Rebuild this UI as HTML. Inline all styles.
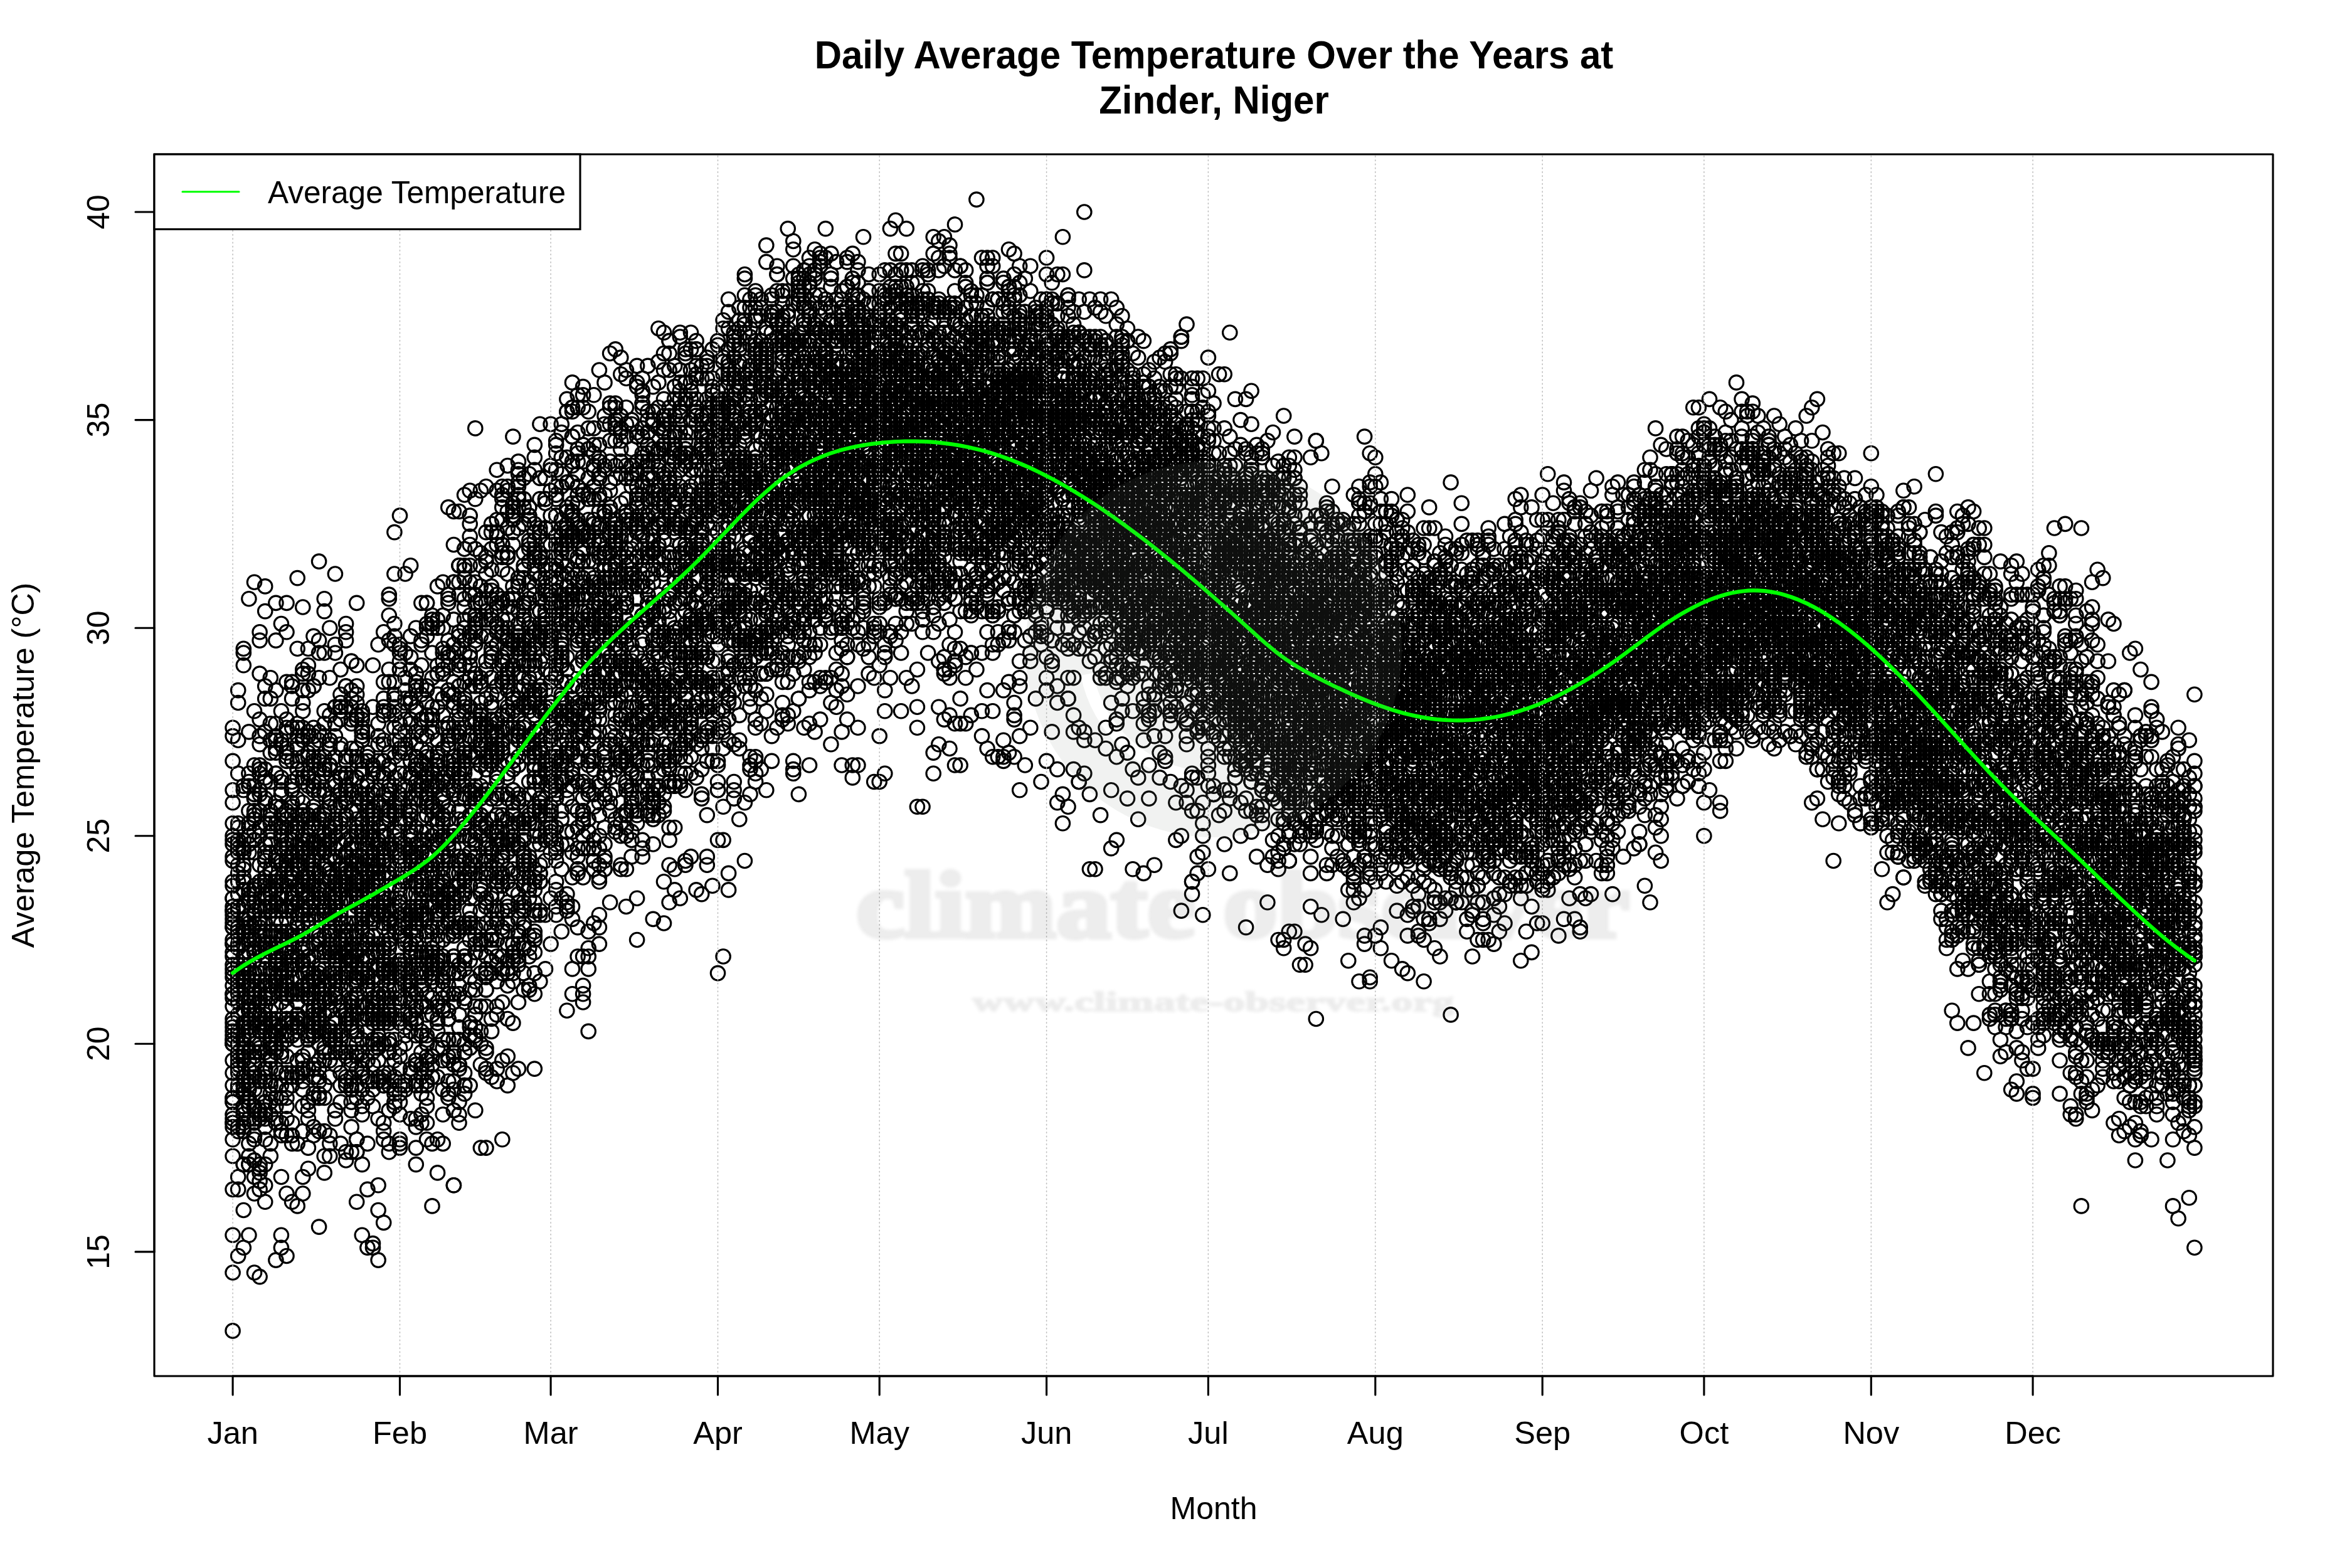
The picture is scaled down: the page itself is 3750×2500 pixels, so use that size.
<!DOCTYPE html>
<html><head><meta charset="utf-8"><title>Daily Average Temperature - Zinder, Niger</title>
<style>html,body{margin:0;padding:0;background:#fff}body{width:3750px;height:2500px;overflow:hidden}svg{display:block}text{font-family:"Liberation Sans",sans-serif;fill:#000}</style></head><body>
<svg width="3750" height="2500" viewBox="0 0 3750 2500">
<defs><marker id="c" markerUnits="userSpaceOnUse" markerWidth="30" markerHeight="30" refX="15" refY="15" overflow="visible"><circle cx="15" cy="15" r="11.25" fill="none" stroke="#000" stroke-width="3.125"/></marker><filter id="bl" x="-5%" y="-20%" width="110%" height="140%"><feGaussianBlur stdDeviation="2.5"/></filter></defs>
<rect width="3750" height="2500" fill="#fff"/>
<path d="M371.1 1790.3V1312.8V1458.7V1551.6V1452.1V1365.9V2029.0V1505.1V1624.5V1637.8V1777.0V1757.1V1465.4V1657.7V1664.3V1730.6V1584.7V1339.4V1657.7V1432.2V1710.7V1631.1V1843.3V1412.3V1664.3V1259.8V1279.7V1750.5V1538.3V1498.5V1472.0V1544.9V1796.9V1896.4V1346.0V1651.0V1505.1V1969.3V1604.6V1664.3V1750.5V1173.6V1525.0V1432.2V1160.3V1591.4V1445.5V1584.7V1816.8V1332.7V1478.6V1571.5V1558.2V1213.4V1372.5V1644.4V1452.1V1783.7V1478.6V1690.8V1518.4V1790.3V1757.1V1405.7M379.7 1730.6V1571.5V1392.4V1491.9V1571.5V1359.3V1485.3V2002.5V1100.6V1598.0V1664.3V1697.5V1445.5V1704.1V1677.6V1710.7V1319.5V1796.9V1233.3V1538.3V1737.2V1511.8V1796.9V1120.5V1578.1V1558.2V1425.6V1445.5V1644.4V1651.0V1803.6V1346.0V1697.5V1445.5V1737.2V1651.0V1405.7V1737.2V1896.4V1180.2V1551.6V1491.9V1339.4V1584.7V1352.6V1564.8V1684.2V1312.8V1598.0V1505.1V1664.3V1352.6V1425.6V1478.6V1617.9V1796.9V1352.6V1876.5V1690.8V1478.6V1677.6V1704.1V1452.1V1379.2M388.3 1657.7V1717.3V1445.5V1664.3V1339.4V1399.0V1777.0V1041.0V1690.8V1677.6V1505.1V1730.6V1743.9V1677.6V1651.0V1525.0V1856.6V1465.4V1684.2V1651.0V1631.1V1763.8V1763.8V1571.5V1253.2V1034.3V1611.2V1379.2V1485.3V1352.6V1651.0V1796.9V1485.3V1631.1V1359.3V1989.2V1790.3V1485.3V1564.8V1743.9V1060.8V1737.2V1637.8V1259.8V1478.6V1352.6V1385.8V1631.1V1485.3V1564.8V1598.0V1717.3V1730.6V1551.6V1418.9V1418.9V1525.0V1929.5V1856.6V1803.6V1558.2V1538.3V1770.4V1405.7V1544.9M396.9 1604.6V1332.7V1644.4V1611.2V1312.8V1544.9V954.7V1624.5V1724.0V1730.6V1551.6V1757.1V1432.2V1637.8V1677.6V1823.4V1418.9V1551.6V1538.3V1498.5V1783.7V1717.3V1624.5V1472.0V1551.6V1166.9V1750.5V1518.4V1332.7V1319.5V1346.0V1651.0V1737.2V1246.5V1518.4V1505.1V1969.3V1704.1V1478.6V1465.4V1438.8V1571.5V1233.3V1292.9V1591.4V1498.5V1491.9V1611.2V1644.4V1677.6V1485.3V1571.5V1856.6V1425.6V1637.8V1690.8V1637.8V1637.8V1359.3V1856.6V1763.8V1611.2V1843.3V1598.0V1253.2M405.5 1611.2V1717.3V1133.8V1511.8V1412.3V1266.4V1584.7V1220.0V1425.6V1816.8V1697.5V1710.7V1617.9V1339.4V1850.0V1664.3V1472.0V1810.2V1253.2V1598.0V1498.5V1518.4V1564.8V1591.4V1438.8V1418.9V1518.4V1299.6V1790.3V1273.1V1326.1V1438.8V1339.4V1531.7V1578.1V1292.9V1551.6V1551.6V2029.0V1551.6V1306.2V1359.3V1299.6V1578.1V1452.1V1677.6V1273.1V1458.7V1737.2V1810.2V1472.0V1763.8V1783.7V1498.5V1850.0V1684.2V1306.2V1770.4V1763.8V1438.8V1903.0V1697.5V1498.5V1631.1V1876.5V928.2M414.1 1624.5V1617.9V1021.1V1379.2V1412.3V1173.6V1598.0V1186.8V1677.6V1724.0V1783.7V1717.3V1319.5V1883.1V1624.5V1637.8V1743.9V1511.8V1770.4V1617.9V1670.9V1631.1V1505.1V1465.4V1485.3V1259.8V1478.6V1074.1V1266.4V1491.9V1319.5V1518.4V1445.5V1220.0V1856.6V1544.9V1578.1V2035.6V1564.8V1465.4V1551.6V1233.3V1332.7V1472.0V1591.4V1598.0V1578.1V1664.3V1226.6V1452.1V1491.9V1863.2V1644.4V1591.4V1518.4V1147.1V1405.7V1644.4V1869.9V1591.4V1465.4V1777.0V1292.9V1677.6V1896.4V1007.8M422.7 1816.8V1757.1V1239.9V1226.6V1359.3V934.9V1432.2V1511.8V1385.8V1631.1V1710.7V1564.8V1279.7V1604.6V1432.2V1591.4V1544.9V1505.1V1624.5V1617.9V1783.7V1796.9V1856.6V1770.4V1591.4V1631.1V1273.1V1644.4V974.6V1372.5V1505.1V1757.1V1491.9V1166.9V1770.4V1677.6V1571.5V1916.3V1472.0V1511.8V1312.8V1511.8V1472.0V1704.1V1525.0V1584.7V1346.0V1412.3V1365.9V1777.0V1405.7V1399.0V1637.8V1113.9V1405.7V1452.1V1724.0V1637.8V1445.5V1717.3V1704.1V1425.6V1246.5V1889.8V1485.3V1094.0M431.3 1544.9V1657.7V1200.1V1564.8V1425.6V1113.9V1485.3V1591.4V1544.9V1684.2V1657.7V1611.2V1564.8V1445.5V1346.0V1452.1V1644.4V1631.1V1392.4V1578.1V1704.1V1730.6V1823.4V1631.1V1591.4V1180.2V1485.3V1080.7V1306.2V1724.0V1757.1V1664.3V1292.9V1551.6V1670.9V1644.4V1339.4V1418.9V1392.4V1624.5V1359.3V1690.8V1571.5V1299.6V1425.6V1438.8V1690.8V1452.1V1651.0V1777.0V1326.1V1505.1V1511.8V1743.9V1246.5V1312.8V1385.8V1491.9V1670.9V1624.5V1438.8V1518.4V1405.7V1843.3V1405.7V1153.7M439.9 1491.9V1704.1V1312.8V1538.3V961.4V1412.3V1518.4V1505.1V1564.8V2009.1V1418.9V1531.7V1438.8V1372.5V1571.5V1525.0V1783.7V1538.3V1233.3V1193.5V1651.0V1651.0V1750.5V1564.8V1518.4V1233.3V1399.0V1200.1V1279.7V1730.6V1505.1V1624.5V1637.8V1418.9V1372.5V1418.9V1604.6V1651.0V1485.3V1286.3V1438.8V1021.1V1365.9V1670.9V1664.3V1558.2V1180.2V1544.9V1372.5V1279.7V1790.3V1465.4V1644.4V1452.1V1153.7V1100.6V1405.7V1730.6V1405.7V1750.5V1511.8V1637.8V1438.8V1763.8V1677.6V1173.6M448.4 1472.0V1710.7V1803.6V1339.4V1319.5V1372.5V1186.8V1405.7V1518.4V1637.8V1730.6V1286.3V1425.6V1544.9V1538.3V1412.3V1989.2V1677.6V1246.5V1259.8V1518.4V1750.5V1651.0V1299.6V1498.5V1239.9V1498.5V1352.6V1180.2V1584.7V1491.9V1571.5V1637.8V1578.1V1452.1V1379.2V1485.3V1969.3V1332.7V1432.2V1186.8V1405.7V1803.6V1558.2V1551.6V1352.6V1133.8V1445.5V1810.2V1544.9V1326.1V1598.0V1352.6V1312.8V1684.2V1544.9V994.5V1790.3V1266.4V1876.5V1558.2V1372.5V1637.8V1352.6V1664.3V1750.5M457.0 1206.7V1644.4V1750.5V1319.5V1292.9V1352.6V1147.1V1160.3V1465.4V1644.4V1783.7V1452.1V1306.2V1412.3V1452.1V1399.0V1432.2V1903.0V1591.4V1087.4V1584.7V1485.3V1544.9V1518.4V1485.3V1193.5V1200.1V1624.5V1166.9V1624.5V1445.5V1571.5V1657.7V1498.5V1558.2V1564.8V2002.5V1624.5V1412.3V1604.6V961.4V1544.9V1306.2V1578.1V1372.5V1365.9V1737.2V1339.4V1385.8V1518.4V1651.0V1631.1V1511.8V1007.8V1379.2V1717.3V1763.8V1319.5V1710.7V1644.4V1584.7V1571.5V1346.0V1684.2V1810.2V1213.4M465.6 1087.4V1631.1V1452.1V1558.2V1385.8V1259.8V1286.3V1405.7V1445.5V1637.8V1651.0V1438.8V1160.3V1392.4V1651.0V1525.0V1432.2V1730.6V1299.6V1279.7V1505.1V1485.3V1359.3V1392.4V1113.9V1259.8V1544.9V1286.3V1505.1V1425.6V1312.8V1326.1V1531.7V1445.5V1578.1V1538.3V1372.5V1584.7V1810.2V1525.0V1631.1V1518.4V1259.8V1094.0V1710.7V1339.4V1339.4V1916.3V1253.2V1823.4V1790.3V1213.4V1438.8V1399.0V1432.2V1491.9V1365.9V1246.5V1491.9V1624.5V1717.3V1399.0V1578.1V1544.9V1392.4V1339.4M474.2 1160.3V1538.3V1598.0V1379.2V1186.8V1299.6V1418.9V1438.8V1491.9V1412.3V921.6V1213.4V1690.8V1226.6V1525.0V1823.4V1598.0V1412.3V1034.3V1173.6V1491.9V1458.7V1319.5V1525.0V1525.0V1326.1V1153.7V1346.0V1359.3V1312.8V1385.8V1412.3V1372.5V1644.4V1710.7V1598.0V1617.9V1412.3V1657.7V1478.6V1312.8V1239.9V1193.5V1710.7V1922.9V1359.3V1379.2V1717.3V1472.0V1438.8V1631.1V1438.8V1226.6V1372.5V1617.9V1624.5V1584.7V1717.3V1624.5V1273.1V1578.1V1418.9V1438.8V1418.9V1637.8V1558.2M482.8 1332.7V1399.0V1359.3V1531.7V1279.7V1346.0V1452.1V1418.9V1684.2V1624.5V1226.6V1133.8V968.0V1704.1V1399.0V1903.0V1710.7V1485.3V1067.5V1306.2V1246.5V1511.8V1538.3V1518.4V1803.6V1399.0V1472.0V1173.6V1458.7V1180.2V1578.1V1239.9V1412.3V1405.7V1551.6V1763.8V1458.7V1724.0V1352.6V1445.5V1458.7V1160.3V1425.6V1074.1V1876.5V1365.9V1624.5V1704.1V1292.9V1531.7V1332.7V1418.9V1100.6V1571.5V1339.4V1511.8V1737.2V1584.7V1299.6V1538.3V1206.7V1505.1V1120.5V1339.4V1690.8V1491.9M491.4 1365.9V1591.4V1339.4V1511.8V1657.7V1544.9V1352.6V1399.0V1173.6V1405.7V1306.2V1253.2V1830.1V1465.4V1644.4V1863.2V1677.6V1651.0V1060.8V1445.5V1200.1V1525.0V1458.7V1704.1V1239.9V1445.5V1412.3V1319.5V1299.6V1034.3V1571.5V1631.1V1584.7V1591.4V1372.5V1551.6V1206.7V1392.4V1770.4V1472.0V1332.7V1425.6V1100.6V1757.1V1412.3V1611.2V1651.0V1379.2V1405.7V1531.7V1166.9V1299.6V1551.6V1757.1V1445.5V1233.3V1432.2V1783.7V1412.3V1399.0V1074.1V1332.7V1578.1V1564.8V1578.1V1445.5M500.0 1312.8V1564.8V1306.2V1564.8V1697.5V1014.4V1704.1V1551.6V1405.7V1186.8V1412.3V1339.4V1213.4V1584.7V1717.3V1564.8V1604.6V1750.5V1458.7V1717.3V1286.3V1160.3V1312.8V1743.9V1259.8V1339.4V1525.0V1346.0V1505.1V1379.2V1220.0V1246.5V1611.2V1637.8V1624.5V1485.3V1644.4V1558.2V1173.6V1206.7V1617.9V1651.0V1365.9V1505.1V1651.0V1094.0V1094.0V1352.6V1418.9V1611.2V1372.5V1253.2V1372.5V1432.2V1637.8V1810.2V1385.8V1392.4V1246.5V1438.8V1558.2V1385.8V1796.9V1564.8V1631.1V1292.9M508.6 1180.2V1498.5V1246.5V1704.1V1505.1V1226.6V1306.2V1166.9V1213.4V1299.6V1359.3V1551.6V1571.5V1505.1V1425.6V1637.8V1664.3V1080.7V1598.0V1226.6V1319.5V1617.9V1544.9V1558.2V1558.2V1332.7V1346.0V1518.4V1637.8V1631.1V1750.5V1724.0V1644.4V1617.9V1491.9V1021.1V1352.6V1604.6V1611.2V1319.5V1458.7V1041.0V895.1V1750.5V1418.9V1584.7V1664.3V1571.5V1206.7V1445.5V1346.0V1624.5V1717.3V1392.4V1259.8V1644.4V1558.2V1432.2V1743.9V1412.3V1558.2V1412.3V1803.6V1956.1V1690.8V1266.4M517.2 1326.1V1730.6V1133.8V1644.4V1584.7V1299.6V1750.5V1306.2V1511.8V1233.3V1352.6V1352.6V1041.0V1544.9V1491.9V1359.3V1458.7V1617.9V1598.0V954.7V1259.8V1571.5V1644.4V1153.7V1359.3V1432.2V1206.7V1591.4V1332.7V1418.9V1405.7V1571.5V1452.1V1558.2V1571.5V1677.6V1584.7V1677.6V1306.2V1803.6V1617.9V1173.6V1220.0V1359.3V974.6V1571.5V1452.1V1525.0V1617.9V1518.4V1385.8V1445.5V1379.2V1458.7V1445.5V1346.0V1292.9V1339.4V1670.9V1690.8V1266.4V1418.9V1359.3V1843.3V1869.9V1226.6M525.8 1717.3V1186.8V1591.4V1690.8V1180.2V1445.5V1220.0V1505.1V1339.4V1346.0V1405.7V1465.4V1677.6V1518.4V1226.6V1598.0V1690.8V1637.8V1193.5V1346.0V1458.7V1511.8V1478.6V1399.0V1485.3V1591.4V1598.0V1279.7V1485.3V1518.4V1273.1V1551.6V1399.0V1651.0V1286.3V1080.7V1365.9V1657.7V1611.2V1273.1V1425.6V1001.2V1445.5V1140.4V1564.8V1657.7V1611.2V1611.2V1220.0V1365.9V1385.8V1518.4V1180.2V1491.9V1465.4V1392.4V1518.4V1326.1V1491.9V1810.2V1220.0V1405.7V1843.3V1823.4V1644.4V1319.5M534.4 1319.5V1564.8V1631.1V1127.2V1458.7V1432.2V1425.6V1452.1V1412.3V1246.5V1206.7V1584.7V1518.4V1425.6V1485.3V1697.5V1173.6V1153.7V1531.7V1518.4V1445.5V1319.5V1458.7V1624.5V1253.2V1352.6V1544.9V1578.1V1312.8V1525.0V1352.6V1584.7V1425.6V1657.7V1677.6V1246.5V915.0V1286.3V1551.6V1438.8V1399.0V1027.7V1644.4V1365.9V1770.4V1438.8V1591.4V1664.3V1372.5V1472.0V1153.7V1405.7V1332.7V1332.7V1511.8V1432.2V1306.2V1445.5V1783.7V1405.7V1041.0V1558.2V1770.4V1651.0V1458.7V1127.2M543.0 1452.1V1525.0V1385.8V1644.4V1757.1V1412.3V1418.9V1399.0V1425.6V1405.7V1505.1V1385.8V1670.9V1458.7V1505.1V1710.7V1133.8V1485.3V1306.2V1518.4V1505.1V1584.7V1558.2V1518.4V1286.3V1312.8V1651.0V1465.4V1472.0V1365.9V1379.2V1418.9V1677.6V1326.1V1730.6V1823.4V1186.8V1107.3V1239.9V1233.3V1472.0V1147.1V1571.5V1346.0V1551.6V1538.3V1379.2V1611.2V1657.7V1279.7V1239.9V1067.5V1438.8V1127.2V1239.9V1193.5V1239.9V1266.4V1498.5V1259.8V1127.2V1598.0V1598.0V1611.2V1399.0V1120.5M551.6 1279.7V1432.2V1631.1V1677.6V1253.2V1405.7V1558.2V1412.3V1498.5V1213.4V1392.4V1233.3V1259.8V1850.0V1617.9V1525.0V1531.7V1578.1V1405.7V1007.8V1379.2V1239.9V1432.2V1518.4V1730.6V1094.0V1253.2V1624.5V1525.0V1279.7V1505.1V1491.9V1359.3V1611.2V1472.0V1611.2V1836.7V1021.1V1127.2V1544.9V1365.9V1299.6V1385.8V1273.1V1518.4V1412.3V1339.4V1624.5V1485.3V1717.3V1511.8V1206.7V1339.4V994.5V1399.0V1385.8V1432.2V1684.2V1724.0V1525.0V1551.6V1525.0V1418.9V1233.3V1306.2V1094.0M560.2 1418.9V1677.6V1637.8V1352.6V1598.0V1511.8V1591.4V1525.0V1757.1V1292.9V1617.9V1127.2V1737.2V1598.0V1770.4V1571.5V1485.3V1239.9V1153.7V1365.9V1525.0V1598.0V1730.6V1644.4V1346.0V1737.2V1385.8V1113.9V1631.1V1505.1V1346.0V1697.5V1690.8V1147.1V1100.6V1624.5V1418.9V1604.6V1598.0V1266.4V1193.5V1372.5V1438.8V1259.8V1617.9V1525.0V1836.7V1392.4V1259.8V1332.7V1531.7V1054.2V1485.3V1551.6V1538.3V1472.0V1385.8V1717.3V1796.9V1531.7V1438.8V1505.1V1525.0V1206.7V1346.0V1054.2M568.7 1405.7V1319.5V1346.0V1704.1V1617.9V1485.3V1564.8V1584.7V1651.0V1438.8V1558.2V1140.4V1505.1V1591.4V1816.8V1684.2V1060.8V961.4V1326.1V1644.4V1816.8V1558.2V1365.9V1571.5V1551.6V1292.9V1147.1V1372.5V1677.6V1584.7V1306.2V1405.7V1445.5V1604.6V1750.5V1120.5V1319.5V1664.3V1372.5V1332.7V1239.9V1206.7V1432.2V1239.9V1379.2V1412.3V1213.4V1107.3V1418.9V1836.7V1140.4V1617.9V1399.0V1491.9V1730.6V1094.0V1538.3V1916.3V1836.7V1425.6V1518.4V1664.3V1472.0V1273.1V1525.0V1193.5M577.3 1166.9V1133.8V1180.2V1763.8V1465.4V1458.7V1405.7V1551.6V1604.6V1365.9V1346.0V1365.9V1147.1V1704.1V1478.6V1690.8V1856.6V1544.9V1140.4V1266.4V1511.8V1485.3V1737.2V1624.5V1710.7V1166.9V1160.3V1332.7V1326.1V1465.4V1551.6V1326.1V1385.8V1472.0V1478.6V1412.3V1233.3V1452.1V1266.4V1213.4V1531.7V1173.6V1525.0V1379.2V1279.7V1624.5V1326.1V1226.6V1180.2V1452.1V1777.0V1312.8V1677.6V1445.5V1598.0V1657.7V1306.2V1558.2V1969.3V1717.3V1438.8V1452.1V1505.1V1253.2V1418.9V1399.0M585.9 1392.4V1412.3V1558.2V1206.7V1505.1V1445.5V1425.6V1505.1V1346.0V1604.6V1525.0V1253.2V1604.6V1690.8V1989.2V1617.9V1624.5V1392.4V1326.1V1166.9V1465.4V1399.0V1418.9V1425.6V1558.2V1717.3V1372.5V1405.7V1525.0V1558.2V1418.9V1551.6V1644.4V1365.9V1326.1V1525.0V1292.9V1564.8V1617.9V1571.5V1578.1V1266.4V1690.8V1200.1V1299.6V1273.1V1432.2V1724.0V1339.4V1213.4V1246.5V1531.7V1750.5V1286.3V1823.4V1664.3V1279.7V1491.9V1896.4V1445.5V1312.8V1465.4V1352.6V1379.2V1498.5V1379.2M594.5 1491.9V1392.4V1060.8V1558.2V1292.9V1578.1V1359.3V1432.2V1591.4V1292.9V1611.2V1604.6V1697.5V1392.4V1591.4V1518.4V1598.0V1989.2V1359.3V1379.2V1346.0V1127.2V1226.6V1339.4V1226.6V1259.8V1518.4V1624.5V1591.4V1332.7V1220.0V1372.5V1286.3V1657.7V1326.1V1445.5V1465.4V1631.1V1724.0V1677.6V1564.8V1405.7V1472.0V1617.9V1306.2V1233.3V1220.0V1458.7V1379.2V1385.8V1664.3V1418.9V1763.8V1266.4V1737.2V1432.2V1379.2V1518.4V1982.6V1299.6V1379.2V1458.7V1412.3V1332.7V1312.8V1505.1M603.1 1352.6V1505.1V1259.8V1724.0V1392.4V1379.2V1657.7V1233.3V1558.2V1412.3V1379.2V1538.3V1584.7V1617.9V1690.8V2009.1V1724.0V1598.0V1153.7V1213.4V1379.2V1339.4V1392.4V1425.6V1624.5V1591.4V1544.9V1617.9V1538.3V1518.4V1339.4V1664.3V1233.3V1458.7V1670.9V1399.0V1657.7V1717.3V1445.5V1346.0V1538.3V1452.1V1372.5V1186.8V1279.7V1346.0V1631.1V1598.0V1352.6V1651.0V1027.7V1279.7V1783.7V1584.7V1889.8V1631.1V1346.0V1518.4V1544.9V1929.5V1518.4V1405.7V1173.6V1279.7V1319.5V1458.7V1458.7M611.7 1140.4V1365.9V1445.5V1472.0V1332.7V1511.8V1538.3V1326.1V1518.4V1438.8V1425.6V1239.9V1790.3V1631.1V1538.3V1432.2V1949.4V1724.0V1452.1V1186.8V1127.2V1438.8V1007.8V1379.2V1233.3V1544.9V1664.3V1266.4V1584.7V1312.8V1551.6V1478.6V1551.6V1505.1V1624.5V1133.8V1326.1V1511.8V1286.3V1458.7V1432.2V1617.9V1372.5V1113.9V1087.4V1213.4V1458.7V1730.6V1352.6V1730.6V1359.3V1531.7V1710.7V1803.6V1816.8V1458.7V1478.6V1213.4V1180.2V1392.4V1717.3V1312.8V1591.4V1432.2V1352.6V1425.6V1438.8M620.3 1067.5V1465.4V1505.1V1392.4V1399.0V1306.2V1292.9V1299.6V1544.9V1133.8V1505.1V1253.2V1823.4V1485.3V1392.4V1631.1V1664.3V1472.0V1624.5V1551.6V1292.9V1352.6V1306.2V1021.1V1259.8V1273.1V1412.3V1664.3V1578.1V1677.6V1564.8V1452.1V1538.3V1525.0V1730.6V1226.6V1133.8V1710.7V1266.4V1498.5V1617.9V1379.2V1657.7V1544.9V981.3V1346.0V1087.4V1558.2V1611.2V1465.4V1200.1V1677.6V1664.3V1836.7V1617.9V1617.9V948.1V1220.0V1591.4V1226.6V1770.4V1432.2V1511.8V1306.2V1286.3V1292.9V954.7M628.9 1107.3V1113.9V1292.9V1538.3V1571.5V1140.4V1299.6V1604.6V1677.6V1160.3V1326.1V1445.5V1107.3V1763.8V1286.3V1253.2V1385.8V1724.0V1743.9V1472.0V1359.3V1452.1V1299.6V1107.3V1239.9V1478.6V1014.4V1578.1V1551.6V1127.2V1279.7V1558.2V1332.7V1591.4V1538.3V1558.2V1551.6V1445.5V1604.6V1180.2V1465.4V1624.5V1412.3V1724.0V1239.9V1027.7V1206.7V915.0V1538.3V1319.5V1352.6V1292.9V1737.2V1690.8V1717.3V1657.7V1239.9V1160.3V1478.6V1617.9V994.5V1757.1V1432.2V1087.4V1485.3V1346.0V848.6M637.5 1166.9V1372.5V1445.5V1730.6V1041.0V1704.1V1598.0V1538.3V1253.2V1200.1V1458.7V1193.5V1823.4V1339.4V1399.0V1551.6V1830.1V1266.4V1491.9V1558.2V1538.3V1286.3V1326.1V1544.9V1491.9V1598.0V1067.5V1312.8V1777.0V1418.9V1405.7V1591.4V1757.1V1591.4V1624.5V1670.9V1054.2V1743.9V1438.8V1027.7V1631.1V1531.7V1233.3V1346.0V1180.2V1034.3V1306.2V1273.1V1279.7V1359.3V1365.9V1631.1V1591.4V1816.8V1432.2V1704.1V1326.1V1200.1V1578.1V1531.7V1067.5V1684.2V1153.7V1133.8V1478.6V1200.1V822.1M646.1 1259.8V1193.5V1478.6V1425.6V1498.5V1113.9V1564.8V1465.4V1591.4V1147.1V1200.1V1346.0V1491.9V1538.3V1452.1V1498.5V1730.6V1186.8V1458.7V1498.5V1551.6V1571.5V1200.1V1637.8V1491.9V1273.1V1505.1V1259.8V1399.0V1531.7V1465.4V1617.9V1359.3V1478.6V1346.0V1651.0V1041.0V1724.0V1080.7V1498.5V1312.8V1100.6V1253.2V1259.8V1372.5V1292.9V1233.3V1166.9V1505.1V1472.0V1491.9V1465.4V1352.6V1737.2V1458.7V1405.7V1544.9V1193.5V1591.4V1385.8V1664.3V1120.5V1617.9V1491.9V1306.2V915.0M654.7 1213.4V1299.6V1617.9V1458.7V1465.4V1511.8V1233.3V1558.2V1306.2V1239.9V1465.4V1113.9V1544.9V1239.9V1584.7V1544.9V1505.1V1352.6V1631.1V1405.7V1598.0V1578.1V1120.5V1624.5V1326.1V1505.1V1286.3V1518.4V1067.5V1564.8V1783.7V1239.9V1617.9V1365.9V1644.4V1339.4V1273.1V1147.1V1617.9V1120.5V1505.1V1710.7V1392.4V1047.6V1571.5V1485.3V1014.4V1180.2V1525.0V1425.6V1352.6V1113.9V1332.7V1352.6V1286.3V1292.9V1704.1V1213.4V1452.1V1425.6V1359.3V1372.5V1153.7V1485.3V1332.7V901.7M663.3 1186.8V1226.6V1697.5V1127.2V1379.2V1365.9V1611.2V1346.0V1690.8V1405.7V1206.7V1730.6V1631.1V1273.1V1624.5V1319.5V1452.1V1405.7V1379.2V1651.0V1206.7V1505.1V1074.1V1220.0V1220.0V1604.6V1856.6V1724.0V1472.0V1458.7V1133.8V1796.9V1246.5V1259.8V1505.1V1405.7V1087.4V1491.9V1458.7V1518.4V1412.3V1259.8V1001.2V1425.6V1525.0V1379.2V1166.9V1690.8V1220.0V1491.9V1385.8V1584.7V1830.1V1094.0V1359.3V1551.6V1465.4V1478.6V1584.7V1538.3V1697.5V1226.6V1783.7V1445.5V1385.8V1100.6M671.9 1094.0V1743.9V1173.6V1213.4V1359.3V1452.1V1160.3V1558.2V1027.7V961.4V1571.5V1438.8V1777.0V1518.4V1273.1V1246.5V1651.0V1525.0V1717.3V1525.0V1697.5V1147.1V1339.4V1677.6V1193.5V1412.3V1021.1V1213.4V1326.1V1558.2V1704.1V1790.3V1339.4V1571.5V1405.7V1644.4V1339.4V1253.2V1465.4V1445.5V1226.6V1226.6V1306.2V1458.7V1418.9V1107.3V1598.0V1578.1V1147.1V1359.3V1445.5V1226.6V1352.6V1226.6V1525.0V1544.9V1551.6V1339.4V1604.6V1651.0V1399.0V1425.6V1730.6V1259.8V1379.2V1060.8M680.5 1094.0V1273.1V1704.1V1239.9V1392.4V1604.6V994.5V1365.9V961.4V1458.7V1445.5V1525.0V1651.0V1299.6V1001.2V1584.7V1551.6V1617.9V1730.6V1140.4V1339.4V1664.3V1200.1V961.4V1299.6V1518.4V1657.7V1724.0V1690.8V1465.4V1266.4V1379.2V1273.1V1458.7V1326.1V1120.5V1491.9V1286.3V1206.7V1379.2V1379.2V1790.3V1253.2V1147.1V1266.4V1763.8V1690.8V1173.6V1233.3V1485.3V1100.6V1379.2V1233.3V1816.8V1750.5V1326.1V1279.7V1425.6V1664.3V1233.3V1538.3V1684.2V1220.0V1359.3V1014.4M689.0 1253.2V1147.1V1684.2V1485.3V1558.2V1558.2V994.5V1399.0V1140.4V1166.9V1425.6V1684.2V1544.9V1717.3V1511.8V1511.8V1001.2V1478.6V1346.0V1551.6V1823.4V1279.7V1591.4V1226.6V1140.4V987.9V1385.8V1717.3V1922.9V1418.9V1518.4V1425.6V1306.2V1551.6V1392.4V1279.7V1292.9V1080.7V1617.9V1160.3V1206.7V1525.0V1292.9V1246.5V1233.3V1697.5V1531.7V1498.5V981.3V1279.7V1617.9V1286.3V1379.2V1127.2V1445.5V1379.2V1332.7V1438.8V1564.8V1717.3V1359.3V1538.3V1445.5V1259.8V1041.0M697.6 1206.7V1412.3V1598.0V1531.7V1458.7V1001.2V1491.9V1306.2V1233.3V1505.1V1670.9V1405.7V934.9V1392.4V1412.3V1525.0V1717.3V1418.9V1253.2V1644.4V1107.3V1220.0V987.9V1352.6V1869.9V1816.8V1346.0V1604.6V1326.1V1246.5V1200.1V1544.9V1538.3V1571.5V1292.9V1074.1V1107.3V1233.3V1339.4V1074.1V1253.2V1312.8V1631.1V1213.4V1292.9V1465.4V1452.1V1372.5V1465.4V1418.9V1220.0V1213.4V1220.0V1425.6V1432.2V1180.2V1432.2V1624.5V1478.6V1060.8V1180.2V1412.3V1339.4V1127.2M706.2 1312.8V1445.5V1564.8V1279.7V1478.6V1498.5V1432.2V981.3V1140.4V1239.9V1332.7V1339.4V1160.3V1611.2V1657.7V1246.5V1531.7V1193.5V1306.2V1531.7V1385.8V1525.0V1737.2V1405.7V1034.3V1591.4V1001.2V1372.5V928.2V1365.9V1777.0V1544.9V1246.5V1041.0V1690.8V1399.0V1564.8V1558.2V1657.7V1160.3V1074.1V1425.6V1113.9V1823.4V1273.1V1054.2V1405.7V1564.8V1432.2V1359.3V1266.4V1578.1V1365.9V1438.8V1365.9V1332.7V1531.7V1452.1V1670.9V1332.7V1067.5V1299.6V1604.6V1412.3M714.8 1657.7V1624.5V1624.5V1160.3V1445.5V1438.8V1173.6V948.1V1180.2V1372.5V1233.3V1425.6V1193.5V1418.9V1544.9V1472.0V1750.5V1286.3V1611.2V1107.3V1047.6V1452.1V808.9V1292.9V1041.0V1365.9V961.4V1690.8V1259.8V1332.7V1392.4V1743.9V1465.4V1100.6V1418.9V1452.1V1060.8V1153.7V1684.2V954.7V1724.0V1186.8V1213.4V1246.5V1624.5V1438.8V1186.8V1491.9V1551.6V1339.4V1584.7V1352.6V1186.8V1624.5V1306.2V1584.7V1657.7V1306.2V1339.4V1100.6V1021.1V1346.0V1445.5V1571.5M723.4 1697.5V1724.0V1657.7V1127.2V1432.2V1445.5V1332.7V868.5V1445.5V1412.3V1445.5V1392.4V1525.0V1485.3V1266.4V1226.6V1478.6V1598.0V1684.2V1889.8V1107.3V1531.7V1737.2V987.9V815.5V1041.0V1220.0V1425.6V1326.1V1173.6V1259.8V1027.7V1551.6V1438.8V1889.8V1584.7V1027.7V1087.4V1206.7V1120.5V1677.6V1253.2V1531.7V1233.3V1770.4V1458.7V1266.4V1160.3V1525.0V1551.6V928.2V928.2V1432.2V1491.9V1226.6V1724.0V1213.4V1485.3V1107.3V1206.7V1584.7V1478.6V1352.6M732.0 1697.5V1657.7V1617.9V1014.4V1173.6V1365.9V1405.7V901.7V1392.4V1571.5V1372.5V1292.9V1777.0V1206.7V1094.0V1478.6V1704.1V901.7V1412.3V1790.3V1233.3V901.7V1094.0V1273.1V948.1V1113.9V1233.3V1551.6V1133.8V1239.9V1697.5V1206.7V1306.2V1757.1V1584.7V1060.8V1067.5V1094.0V1637.8V1007.8V1226.6V815.5V1538.3V1160.3V1166.9V1034.3V1584.7V1147.1V1054.2V1657.7V1292.9V1392.4V1365.9V928.2V1697.5V1432.2V1253.2V1551.6V1173.6V1472.0V1379.2V1332.7V1485.3M740.6 1730.6V1730.6V1664.3V1021.1V921.6V1206.7V1399.0V1365.9V1531.7V1418.9V1511.8V1525.0V901.7V1531.7V1372.5V1677.6V954.7V1180.2V1743.9V1226.6V1001.2V1041.0V1233.3V968.0V1591.4V1213.4V1273.1V1127.2V1525.0V1392.4V1200.1V1425.6V1677.6V1478.6V908.3V1113.9V1021.1V1312.8V1319.5V875.2V1193.5V1060.8V1087.4V1120.5V1598.0V1544.9V1478.6V1160.3V1405.7V1060.8V789.0V1133.8V1710.7V1472.0V1266.4V1332.7V1478.6V1306.2V987.9V1253.2M749.2 1651.0V1730.6V1047.6V928.2V1080.7V1041.0V1392.4V835.4V1465.4V1637.8V1558.2V822.1V1385.8V1060.8V1273.1V1332.7V1372.5V1147.1V1080.7V1173.6V1332.7V1472.0V868.5V1180.2V855.3V1392.4V1339.4V1200.1V1531.7V1392.4V1259.8V1478.6V1670.9V1014.4V1094.0V1007.8V1372.5V1651.0V782.3V1047.6V1200.1V1080.7V1631.1V1472.0V1372.5V1359.3V1498.5V981.3V1299.6V901.7V1173.6V1578.1V1452.1V1412.3V1432.2V948.1V1206.7V1412.3V1465.4V1127.2M757.8 1478.6V1651.0V1432.2V1206.7V1074.1V1206.7V1657.7V1326.1V1292.9V981.3V1518.4V1021.1V682.9V1604.6V1279.7V1770.4V1637.8V1392.4V1001.2V1206.7V1578.1V1339.4V1273.1V981.3V1233.3V1253.2V1346.0V1379.2V1206.7V1306.2V1259.8V994.5V1080.7V987.9V1027.7V1637.8V795.6V994.5V1007.8V1133.8V1153.7V1505.1V1365.9V1617.9V1617.9V1306.2V961.4V1266.4V928.2V948.1V1564.8V1180.2V1365.9V1259.8V1147.1V1094.0V1273.1V1233.3V1491.9V875.2M766.4 1505.1V1644.4V1498.5V1299.6V1120.5V1372.5V1133.8V1392.4V1220.0V1193.5V1180.2V1392.4V1273.1V1014.4V1372.5V1186.8V1830.1V1319.5V1412.3V1220.0V1518.4V1140.4V934.9V1604.6V1697.5V1478.6V1094.0V987.9V1220.0V1299.6V1220.0V1253.2V1160.3V1551.6V1080.7V1498.5V1087.4V782.3V881.8V1664.3V954.7V1140.4V1332.7V1312.8V1180.2V1166.9V1425.6V1094.0V1452.1V961.4V1418.9V1153.7V1133.8V1193.5V901.7V1147.1V1153.7V1266.4V1306.2M775.0 1670.9V1445.5V1544.9V1014.4V1551.6V1286.3V1472.0V1259.8V1346.0V1153.7V1392.4V775.7V1319.5V1067.5V1830.1V1312.8V1432.2V1206.7V1226.6V1399.0V895.1V1266.4V1704.1V1372.5V961.4V1385.8V1259.8V1160.3V1372.5V1498.5V1352.6V1578.1V941.5V987.9V888.4V974.6V1213.4V1677.6V848.6V1259.8V1186.8V1445.5V1226.6V1054.2V1160.3V1578.1V1206.7V1339.4V1710.7V1438.8V1604.6V1365.9V1113.9V1186.8V915.0V1525.0V1339.4V1352.6V1558.2M783.6 1213.4V1531.7V1160.3V1306.2V1491.9V1359.3V1193.5V1498.5V1511.8V1021.1V1498.5V934.9V1034.3V1220.0V1717.3V1306.2V1392.4V1326.1V875.2V1206.7V908.3V981.3V1452.1V1080.7V1465.4V1478.6V1147.1V1080.7V1326.1V1173.6V1054.2V1166.9V1206.7V1432.2V835.4V1193.5V1624.5V941.5V1041.0V1166.9V1166.9V1372.5V1047.6V1200.1V1186.8V1551.6V954.7V1644.4V1127.2V1352.6V1273.1V1107.3V1425.6V1273.1V1120.5V848.6V987.9V1206.7V1551.6M792.2 1704.1V1472.0V1299.6V1186.8V1094.0V1233.3V1339.4V1498.5V968.0V1405.7V1326.1V1027.7V1239.9V994.5V1452.1V782.3V1332.7V1206.7V1724.0V868.5V1326.1V1166.9V749.2V1173.6V1412.3V1147.1V1425.6V1525.0V1617.9V1266.4V1385.8V828.8V1273.1V1604.6V961.4V1246.5V1193.5V1153.7V848.6V1299.6V855.3V1564.8V1326.1V1538.3V1498.5V1107.3V1319.5V1200.1V1399.0V1166.9V948.1V1346.0V994.5V1372.5V1193.5V1007.8V1027.7V1339.4V1465.4M800.8 1392.4V1359.3V1551.6V954.7V1180.2V1326.1V987.9V1087.4V1399.0V828.8V1060.8V789.0V1525.0V1007.8V868.5V1372.5V1339.4V1054.2V881.8V1346.0V1412.3V1001.2V1544.9V1399.0V1816.8V1346.0V1525.0V795.6V1080.7V1140.4V808.9V1690.8V1200.1V1047.6V908.3V868.5V1306.2V1200.1V1299.6V1160.3V1478.6V1186.8V1485.3V1087.4V1054.2V1365.9V1140.4V1266.4V961.4V1220.0V888.4V1598.0V1452.1V1166.9V1193.5V775.7V1014.4V1339.4V1412.3M809.3 1306.2V1160.3V1485.3V1684.2V1041.0V1551.6V987.9V815.5V888.4V888.4V1067.5V915.0V1100.6V1339.4V1531.7V1405.7V1127.2V1034.3V1385.8V1452.1V1339.4V1133.8V782.3V1472.0V1730.6V1544.9V1505.1V881.8V1074.1V842.0V1624.5V1094.0V1160.3V1021.1V1571.5V954.7V1140.4V1001.2V1472.0V1273.1V1445.5V1080.7V1021.1V1213.4V968.0V1233.3V1054.2V842.0V1266.4V1014.4V1087.4V1438.8V775.7V1346.0V1405.7V742.5V1239.9V1359.3V1326.1M817.9 1339.4V1531.7V1226.6V1319.5V1518.4V1418.9V1518.4V1292.9V1113.9V1060.8V1027.7V828.8V954.7V1213.4V848.6V1226.6V1418.9V934.9V1120.5V1060.8V1067.5V815.5V1418.9V696.1V1332.7V1352.6V802.2V1710.7V1312.8V1133.8V1279.7V1259.8V1631.1V1213.4V1346.0V808.9V1505.1V1133.8V1279.7V1385.8V968.0V954.7V1299.6V1259.8V868.5V1021.1V1505.1V1525.0V1259.8V1067.5V822.1V1392.4V1067.5V1564.8V948.1V1160.3V1107.3V1551.6V1173.6M826.5 1352.6V1531.7V1438.8V1312.8V1491.9V1180.2V994.5V1074.1V775.7V1140.4V1007.8V1166.9V795.6V1452.1V1027.7V1485.3V1166.9V1180.2V1127.2V1306.2V1041.0V921.6V769.1V1525.0V1598.0V1346.0V1704.1V842.0V1100.6V755.8V1021.1V1505.1V1113.9V1538.3V1279.7V1054.2V735.9V1465.4V1273.1V1220.0V1034.3V1014.4V1034.3V1266.4V974.6V1113.9V1425.6V1034.3V1173.6V749.2V1392.4V1220.0V789.0V1100.6V1160.3V928.2V934.9V808.9V1206.7M835.1 1412.3V1511.8V1319.5V1478.6V1385.8V1438.8V1372.5V1153.7V835.4V1034.3V1372.5V1365.9V1306.2V1173.6V1365.9V901.7V1332.7V1445.5V968.0V1080.7V1054.2V808.9V1379.2V1193.5V1180.2V1472.0V1094.0V987.9V762.4V1551.6V1452.1V1127.2V1578.1V1312.8V921.6V1027.7V835.4V1339.4V981.3V1399.0V1273.1V1160.3V1173.6V1120.5V961.4V1034.3V1060.8V1021.1V1359.3V961.4V1452.1V795.6V1153.7V835.4V908.3V981.3V968.0V881.8V1505.1M843.7 1418.9V1193.5V1525.0V1491.9V1511.8V1432.2V1399.0V1041.0V1001.2V994.5V941.5V1087.4V1186.8V1100.6V1127.2V1399.0V1120.5V1379.2V1186.8V1087.4V1299.6V1266.4V1041.0V808.9V1306.2V1365.9V861.9V1412.3V1246.5V1113.9V875.2V1578.1V1021.1V1133.8V1399.0V954.7V1054.2V1034.3V1312.8V828.8V808.9V1100.6V961.4V822.1V1173.6V1113.9V1206.7V1034.3V755.8V928.2V1060.8V1080.7V868.5V822.1V1014.4V1372.5V895.1V1041.0V1571.5M852.3 1438.8V1113.9V1100.6V1332.7V1452.1V1584.7V1206.7V1220.0V1518.4V1107.3V1491.9V1239.9V1405.7V1007.8V1246.5V881.8V1704.1V1200.1V1312.8V875.2V749.2V1418.9V1399.0V888.4V1485.3V1041.0V1346.0V1060.8V1001.2V1458.7V1498.5V1027.7V1166.9V1166.9V1054.2V1259.8V1027.7V888.4V1200.1V1551.6V1226.6V901.7V835.4V1286.3V934.9V709.4V1140.4V1193.5V915.0V1007.8V861.9V948.1V729.3V1312.8V848.6V1292.9V1120.5V1074.1V1385.8M860.9 1405.7V1094.0V974.6V1379.2V1239.9V1279.7V1014.4V1273.1V1160.3V1452.1V1226.6V855.3V881.8V1405.7V974.6V994.5V1107.3V1239.9V676.2V1458.7V1564.8V1166.9V888.4V1292.9V1166.9V1180.2V1054.2V1133.8V1107.3V1100.6V1392.4V1332.7V921.6V1007.8V1200.1V1392.4V1193.5V1405.7V795.6V954.7V1392.4V1246.5V1100.6V1014.4V848.6V895.1V1346.0V1286.3V1014.4V1127.2V842.0V974.6V762.4V888.4V1273.1V1007.8V1299.6V1166.9V1193.5M869.5 1054.2V981.3V842.0V941.5V974.6V941.5V994.5V1339.4V1001.2V1001.2V1233.3V1286.3V795.6V1021.1V1100.6V1067.5V1372.5V1133.8V994.5V888.4V1544.9V1220.0V1306.2V842.0V1007.8V1286.3V948.1V802.2V987.9V934.9V1140.4V1140.4V901.7V1213.4V1140.4V1286.3V795.6V1193.5V901.7V1220.0V1458.7V908.3V1127.2V1319.5V842.0V868.5V762.4V1127.2V1332.7V961.4V1007.8V921.6V1173.6V1186.8V762.4V1299.6V1014.4V1273.1V1226.6M878.1 1120.5V1259.8V822.1V1206.7V954.7V1027.7V1021.1V1160.3V1220.0V1014.4V1299.6V1339.4V749.2V1074.1V1292.9V1140.4V1021.1V948.1V782.3V1332.7V1087.4V1180.2V1239.9V1127.2V1359.3V1286.3V1140.4V901.7V1007.8V921.6V1253.2V1074.1V948.1V842.0V1259.8V1312.8V1505.1V1034.3V1226.6V1319.5V742.5V968.0V1041.0V1339.4V749.2V1239.9V1173.6V868.5V921.6V941.5V1326.1V921.6V1153.7V676.2V1160.3V1034.3V1432.2V1246.5V1027.7M886.7 981.3V908.3V1445.5V749.2V1273.1V968.0V1213.4V709.4V1259.8V1080.7V1060.8V1319.5V789.0V1405.7V1140.4V921.6V795.6V868.5V1166.9V1153.7V1206.7V888.4V994.5V822.1V981.3V1246.5V855.3V1074.1V928.2V1206.7V789.0V822.1V1041.0V1346.0V1133.8V888.4V1359.3V1352.6V855.3V1200.1V1253.2V1213.4V941.5V908.3V868.5V702.8V1418.9V775.7V1140.4V901.7V1266.4V775.7V722.7V1372.5V1213.4V1458.7V961.4V1047.6M895.3 842.0V1346.0V755.8V1485.3V676.2V1147.1V968.0V948.1V689.5V1027.7V1385.8V987.9V881.8V1220.0V994.5V1060.8V1206.7V915.0V855.3V775.7V948.1V1027.7V868.5V1007.8V948.1V868.5V1432.2V1021.1V1034.3V1133.8V1306.2V1087.4V895.1V1180.2V1113.9V1021.1V1166.9V961.4V1306.2V1246.5V729.3V1120.5V1047.6V1213.4V842.0V1147.1V948.1V1292.9V1239.9V828.8V1113.9V875.2V1107.3V1060.8V1239.9V1041.0V1054.2V968.0M903.9 901.7V1239.9V961.4V1153.7V861.9V868.5V815.5V1200.1V769.1V1611.2V1166.9V915.0V1007.8V1326.1V1452.1V994.5V1273.1V842.0V815.5V769.1V656.3V1193.5V1140.4V815.5V656.3V1180.2V915.0V1438.8V934.9V948.1V1153.7V1346.0V855.3V1326.1V948.1V1445.5V1153.7V1087.4V1220.0V1133.8V729.3V915.0V968.0V987.9V1425.6V1047.6V901.7V1067.5V835.4V1120.5V848.6V981.3V636.4V1206.7V1259.8V808.9V954.7V881.8M912.5 815.5V1226.6V1233.3V822.1V649.7V769.1V1445.5V855.3V848.6V908.3V1180.2V1253.2V1094.0V1233.3V968.0V1140.4V954.7V802.2V1147.1V861.9V696.1V735.9V1193.5V1140.4V941.5V815.5V696.1V1465.4V1226.6V948.1V855.3V1359.3V1147.1V1326.1V609.9V1544.9V1127.2V828.8V815.5V1001.2V1584.7V822.1V968.0V921.6V1399.0V649.7V1094.0V1113.9V848.6V1001.2V1140.4V1286.3V1200.1V656.3V1239.9V1253.2V742.5V994.5M921.1 1027.7V1014.4V954.7V1173.6V855.3V689.5V888.4V1392.4V755.8V802.2V987.9V649.7V1365.9V895.1V1173.6V915.0V948.1V1147.1V1193.5V842.0V802.2V755.8V1127.2V1120.5V828.8V1352.6V1153.7V1001.2V1319.5V716.0V1478.6V722.7V1166.9V735.9V861.9V1060.8V1021.1V1525.0V789.0V948.1V1060.8V1385.8V629.8V1246.5V835.4V1385.8V1094.0V928.2V1246.5V1133.8V1206.7V775.7V1193.5V1213.4V1292.9V775.7V1120.5M929.6 848.6V895.1V1246.5V649.7V1312.8V855.3V928.2V1292.9V1306.2V1120.5V875.2V1525.0V1571.5V987.9V1153.7V974.6V1047.6V1100.6V948.1V875.2V1100.6V934.9V881.8V881.8V895.1V921.6V1598.0V1153.7V1332.7V1273.1V1021.1V629.8V1399.0V735.9V1292.9V842.0V987.9V782.3V709.4V921.6V954.7V1193.5V1584.7V1014.4V616.6V1014.4V1173.6V1166.9V1352.6V1054.2V1253.2V789.0V948.1V1140.4V1160.3V1100.6V1299.6M938.2 1001.2V934.9V1021.1V1067.5V716.0V1074.1V994.5V1034.3V1525.0V1180.2V1047.6V762.4V1544.9V1352.6V948.1V1153.7V1140.4V861.9V895.1V1266.4V795.6V1120.5V1087.4V981.3V1644.4V1306.2V1326.1V855.3V1067.5V1259.8V987.9V848.6V656.3V861.9V716.0V1206.7V1094.0V1511.8V981.3V1007.8V1306.2V1485.3V682.9V1113.9V1253.2V915.0V828.8V1054.2V1133.8V1120.5V789.0V981.3V1041.0V1213.4V1140.4V974.6V1220.0M946.8 1027.7V1034.3V1286.3V828.8V682.9V928.2V861.9V1472.0V749.2V775.7V1352.6V1120.5V1034.3V1166.9V1047.6V1074.1V895.1V1113.9V1100.6V835.4V629.8V1206.7V875.2V968.0V775.7V1080.7V941.5V795.6V1372.5V722.7V1041.0V835.4V987.9V1266.4V1147.1V1147.1V1173.6V1385.8V1372.5V1352.6V742.5V1166.9V1213.4V709.4V921.6V1047.6V1067.5V1087.4V1226.6V1186.8V861.9V1067.5V994.5V848.6V1120.5V1339.4M955.4 1007.8V1133.8V968.0V888.4V842.0V1054.2V729.3V789.0V1332.7V1074.1V1087.4V795.6V1505.1V1007.8V1127.2V968.0V1478.6V815.5V981.3V735.9V1399.0V1001.2V1107.3V928.2V755.8V1120.5V762.4V1458.7V1107.3V948.1V709.4V1299.6V1405.7V1279.7V1246.5V861.9V868.5V881.8V968.0V994.5V1166.9V835.4V934.9V948.1V961.4V795.6V835.4V590.0V1253.2V762.4V1147.1V954.7V1352.6V961.4V1253.2V1379.2M964.0 968.0V1193.5V1021.1V881.8V749.2V1220.0V908.3V1220.0V901.7V875.2V663.0V1346.0V888.4V1233.3V1233.3V1007.8V921.6V742.5V1100.6V1372.5V1206.7V881.8V921.6V1220.0V888.4V987.9V1266.4V1319.5V609.9V1365.9V921.6V1034.3V928.2V1273.1V789.0V676.2V941.5V822.1V994.5V1385.8V974.6V1001.2V815.5V1239.9V1074.1V815.5V928.2V1007.8V875.2V1385.8V1054.2V1067.5V948.1V974.6V1239.9V1200.1M972.6 1100.6V1021.1V1279.7V1094.0V994.5V1054.2V1166.9V1180.2V1186.8V1060.8V649.7V1438.8V908.3V1220.0V1007.8V815.5V769.1V1266.4V1107.3V1007.8V881.8V901.7V921.6V1060.8V974.6V1120.5V1047.6V961.4V1087.4V563.5V1239.9V1021.1V1100.6V782.3V735.9V855.3V808.9V928.2V948.1V855.3V961.4V948.1V961.4V961.4V921.6V828.8V842.0V676.2V643.1V1094.0V994.5V1292.9V881.8V848.6V702.8V828.8M981.2 762.4V1186.8V1080.7V1074.1V556.9V901.7V921.6V1120.5V941.5V1094.0V855.3V702.8V1054.2V1306.2V1153.7V961.4V676.2V1001.2V1186.8V1326.1V987.9V861.9V1200.1V742.5V1120.5V981.3V1319.5V1007.8V1034.3V1226.6V994.5V1259.8V848.6V1173.6V875.2V941.5V669.6V1027.7V1054.2V649.7V895.1V994.5V842.0V1226.6V643.1V908.3V835.4V1140.4V828.8V1074.1V1100.6V682.9V928.2V868.5V974.6V1094.0M989.8 842.0V755.8V1279.7V1220.0V570.1V1054.2V855.3V1220.0V861.9V716.0V1140.4V1213.4V1054.2V968.0V1060.8V1107.3V1206.7V1140.4V1034.3V689.5V702.8V1140.4V968.0V1094.0V1147.1V1332.7V1213.4V968.0V1385.8V802.2V682.9V1120.5V1094.0V915.0V888.4V1021.1V735.9V1034.3V1180.2V1074.1V1200.1V1047.6V596.7V948.1V735.9V1074.1V755.8V875.2V663.0V1299.6V1147.1V928.2V1014.4V948.1V1379.2V1312.8M998.4 1220.0V1074.1V1186.8V1259.8V1054.2V1193.5V1213.4V828.8V855.3V1014.4V1140.4V1253.2V1206.7V1001.2V1166.9V762.4V1299.6V1127.2V676.2V1332.7V1246.5V941.5V968.0V1067.5V1206.7V1292.9V1445.5V928.2V888.4V875.2V795.6V815.5V1054.2V901.7V961.4V649.7V1087.4V1127.2V1060.8V590.0V1007.8V1299.6V603.3V1319.5V822.1V954.7V987.9V696.1V1074.1V742.5V1246.5V1153.7V915.0V1027.7V1107.3V1385.8M1007.0 934.9V994.5V1027.7V1233.3V908.3V1259.8V1339.4V835.4V742.5V1166.9V1067.5V915.0V1253.2V1226.6V895.1V775.7V1147.1V921.6V915.0V1107.3V1120.5V1292.9V915.0V1041.0V1147.1V828.8V1279.7V1365.9V1007.8V1087.4V1193.5V716.0V928.2V934.9V742.5V762.4V755.8V1127.2V1001.2V1200.1V875.2V676.2V1153.7V1233.3V669.6V1200.1V815.5V1060.8V1007.8V1273.1V1074.1V1193.5V1286.3V861.9V1054.2V1326.1M1015.6 1166.9V921.6V1001.2V1239.9V1292.9V1153.7V954.7V1299.6V1173.6V888.4V934.9V1147.1V1498.5V974.6V749.2V1074.1V1153.7V828.8V1087.4V1273.1V974.6V775.7V689.5V1127.2V835.4V1233.3V1041.0V1001.2V1180.2V1206.7V802.2V1147.1V1239.9V583.4V755.8V735.9V842.0V808.9V795.6V1094.0V1127.2V828.8V609.9V1087.4V848.6V1312.8V842.0V616.6V848.6V696.1V1432.2V1067.5V789.0V1193.5V888.4V1213.4M1024.2 1147.1V1253.2V1186.8V789.0V1080.7V1133.8V769.1V643.1V722.7V981.3V981.3V729.3V934.9V1365.9V1140.4V901.7V855.3V915.0V828.8V696.1V696.1V775.7V1253.2V934.9V1339.4V994.5V1027.7V1253.2V1100.6V1220.0V1021.1V603.3V735.9V682.9V888.4V802.2V987.9V1160.3V928.2V875.2V623.2V1180.2V1220.0V629.8V1107.3V848.6V649.7V1074.1V815.5V643.1V1054.2V1352.6V835.4V1087.4V981.3V1120.5V1273.1M1032.8 1292.9V908.3V888.4V1279.7V1160.3V828.8V1087.4V908.3V1127.2V742.5V689.5V1067.5V1220.0V948.1V735.9V1266.4V1186.8V709.4V709.4V689.5V1133.8V828.8V775.7V775.7V1253.2V822.1V968.0V1180.2V921.6V987.9V1120.5V1200.1V1213.4V861.9V755.8V1200.1V1094.0V689.5V669.6V961.4V1299.6V861.9V755.8V1153.7V795.6V1054.2V881.8V722.7V1060.8V1054.2V875.2V583.4V1113.9V762.4V1239.9V981.3V656.3V948.1V1054.2V1067.5V934.9M1041.3 1080.7V1100.6V1266.4V1273.1V881.8V1273.1V1094.0V861.9V1346.0V855.3V656.3V1074.1V1153.7V795.6V961.4V1047.6V1186.8V974.6V616.6V875.2V762.4V716.0V928.2V842.0V1279.7V1021.1V1220.0V1253.2V782.3V881.8V1465.4V1147.1V1021.1V881.8V1286.3V1074.1V901.7V676.2V762.4V1021.1V842.0V1299.6V974.6V669.6V961.4V656.3V928.2V968.0V1001.2V981.3V1094.0V875.2V1306.2V915.0V815.5V716.0V735.9V1034.3V1153.7V1021.1V1180.2M1049.9 1259.8V1047.6V815.5V1299.6V1100.6V682.9V1067.5V1299.6V1014.4V888.4V1279.7V828.8V576.8V948.1V1233.3V735.9V1160.3V1140.4V1041.0V609.9V742.5V722.7V1047.6V649.7V716.0V1007.8V835.4V1021.1V1153.7V1113.9V1087.4V716.0V1100.6V1233.3V868.5V1094.0V974.6V1014.4V795.6V1279.7V789.0V987.9V749.2V1147.1V782.3V1027.7V875.2V987.9V1094.0V523.7V1253.2V775.7V1120.5V994.5V1147.1V802.2V722.7V842.0V908.3V1041.0V994.5M1058.5 1292.9V1127.2V1200.1V1094.0V828.8V1100.6V1472.0V1067.5V861.9V1074.1V915.0V669.6V590.0V1200.1V1213.4V689.5V1286.3V1206.7V563.5V755.8V1107.3V663.0V709.4V762.4V1206.7V1021.1V1007.8V1113.9V1080.7V682.9V861.9V1405.7V1021.1V1094.0V676.2V974.6V954.7V716.0V682.9V1120.5V802.2V1186.8V1266.4V636.4V888.4V1067.5V968.0V835.4V1140.4V789.0V530.3V1133.8V1067.5V1213.4V1127.2V908.3V709.4V848.6V835.4V808.9V1226.6M1067.1 1246.5V1120.5V1186.8V1213.4V1100.6V1438.8V1047.6V676.2V1087.4V822.1V1147.1V1160.3V1253.2V1319.5V1206.7V1339.4V543.6V775.7V729.3V941.5V769.1V954.7V775.7V1027.7V888.4V1047.6V1034.3V543.6V1379.2V663.0V901.7V1140.4V974.6V1014.4V815.5V729.3V1253.2V1014.4V1226.6V987.9V749.2V1186.8V782.3V769.1V762.4V676.2V1014.4V696.1V563.5V1153.7V649.7V1113.9V881.8V1087.4V749.2V716.0V789.0V1027.7V590.0V948.1V1220.0M1075.7 1319.5V1087.4V1253.2V1385.8V735.9V1206.7V1113.9V716.0V1094.0V689.5V1041.0V1133.8V1253.2V1001.2V689.5V663.0V1173.6V901.7V808.9V828.8V616.6V808.9V709.4V1094.0V921.6V1418.9V583.4V1001.2V636.4V1047.6V1087.4V1133.8V928.2V1193.5V782.3V1021.1V1007.8V636.4V1147.1V848.6V1014.4V709.4V735.9V835.4V1160.3V842.0V921.6V802.2V689.5V689.5V908.3V696.1V616.6V802.2V961.4V901.7V888.4V1041.0V762.4V795.6V722.7V1246.5M1084.3 1180.2V1014.4V1253.2V915.0V1041.0V663.0V868.5V1153.7V1080.7V530.3V689.5V649.7V722.7V1193.5V915.0V1246.5V1067.5V1233.3V934.9V537.0V729.3V1193.5V1074.1V1001.2V656.3V749.2V590.0V636.4V1140.4V901.7V663.0V1432.2V954.7V881.8V835.4V868.5V775.7V1160.3V828.8V842.0V676.2V789.0V1127.2V789.0V636.4V609.9V749.2V1060.8V1001.2V1047.6V623.2V934.9V928.2V1074.1V1206.7V1140.4V1186.8V961.4V1100.6V842.0V868.5V1041.0M1092.9 1233.3V868.5V1021.1V556.9V915.0V1094.0V689.5V928.2V570.1V1372.5V795.6V1213.4V1140.4V895.1V1127.2V1127.2V563.5V1193.5V1087.4V941.5V1180.2V875.2V609.9V716.0V1107.3V1173.6V782.3V735.9V954.7V1021.1V881.8V941.5V1113.9V908.3V815.5V842.0V636.4V815.5V1107.3V974.6V742.5V722.7V643.1V1041.0V974.6V802.2V716.0V875.2V934.9V636.4V1060.8V609.9V729.3V1060.8V994.5V1259.8V1007.8V1047.6V702.8V848.6V1160.3V1379.2M1101.5 1206.7V1021.1V1041.0V994.5V848.6V749.2V987.9V689.5V835.4V556.9V901.7V1180.2V1054.2V901.7V1140.4V1147.1V1007.8V590.0V981.3V1166.9V1153.7V782.3V623.2V623.2V775.7V1160.3V1080.7V808.9V815.5V1233.3V835.4V1127.2V722.7V961.4V735.9V636.4V789.0V669.6V609.9V1027.7V981.3V908.3V623.2V934.9V842.0V749.2V875.2V1047.6V848.6V934.9V530.3V875.2V1041.0V1365.9V994.5V1160.3V934.9V1001.2V842.0V1087.4V1060.8V848.6V1067.5M1110.1 1021.1V987.9V1127.2V861.9V1080.7V948.1V663.0V901.7V649.7V1087.4V556.9V1120.5V961.4V875.2V596.7V815.5V987.9V1007.8V888.4V901.7V1060.8V663.0V603.3V1001.2V961.4V1074.1V1239.9V968.0V1080.7V1014.4V749.2V676.2V921.6V1047.6V649.7V596.7V861.9V583.4V987.9V835.4V729.3V1133.8V543.6V921.6V822.1V881.8V556.9V1001.2V735.9V656.3V881.8V636.4V769.1V1186.8V663.0V987.9V1418.9V994.5V901.7V875.2V828.8V888.4V1014.4M1118.7 1047.6V1080.7V1266.4V881.8V722.7V802.2V689.5V1180.2V795.6V709.4V981.3V603.3V1273.1V1133.8V994.5V749.2V1425.6V1047.6V868.5V663.0V941.5V722.7V1034.3V1041.0V1226.6V769.1V689.5V1113.9V749.2V802.2V709.4V722.7V808.9V861.9V583.4V948.1V1193.5V716.0V875.2V696.1V981.3V822.1V1080.7V669.6V789.0V1034.3V994.5V716.0V968.0V696.1V987.9V848.6V895.1V782.3V1087.4V901.7V1173.6V888.4V1041.0V1094.0V1034.3V981.3V842.0M1127.3 928.2V1299.6V987.9V928.2V583.4V987.9V749.2V1173.6V570.1V1107.3V1127.2V1113.9V974.6V1379.2V1001.2V994.5V1133.8V835.4V1127.2V729.3V888.4V1365.9V696.1V769.1V1047.6V954.7V1041.0V789.0V722.7V815.5V888.4V576.8V808.9V1166.9V835.4V636.4V663.0V702.8V702.8V689.5V908.3V888.4V676.2V663.0V1094.0V689.5V888.4V934.9V901.7V729.3V1047.6V1160.3V716.0V1087.4V649.7V795.6V1213.4V762.4V1014.4V915.0V603.3V729.3V1094.0V987.9M1135.9 1127.2V934.9V782.3V556.9V1080.7V762.4V1213.4V749.2V1014.4V802.2V789.0V1140.4V822.1V1140.4V968.0V1094.0V649.7V1193.5V769.1V802.2V1412.3V702.8V1107.3V808.9V855.3V742.5V1173.6V749.2V702.8V855.3V941.5V643.1V968.0V915.0V769.1V676.2V716.0V616.6V934.9V1007.8V822.1V921.6V901.7V1140.4V702.8V842.0V1160.3V775.7V795.6V881.8V1054.2V682.9V782.3V1213.4V629.8V623.2V895.1V908.3V769.1V1087.4V603.3V789.0V895.1V928.2M1144.5 1054.2V868.5V974.6V822.1V1014.4V1259.8V716.0V1220.0V1100.6V682.9V1166.9V722.7V875.2V623.2V649.7V1094.0V848.6V1259.8V1339.4V550.2V742.5V789.0V742.5V1551.6V623.2V961.4V775.7V802.2V901.7V815.5V1133.8V987.9V649.7V987.9V921.6V643.1V1246.5V1133.8V643.1V702.8V643.1V543.6V895.1V888.4V1027.7V669.6V974.6V669.6V994.5V1080.7V663.0V802.2V1001.2V769.1V981.3V1213.4V636.4V762.4V789.0V656.3V735.9V941.5V676.2V908.3M1153.1 941.5V1166.9V643.1V1007.8V1286.3V649.7V1007.8V709.4V1160.3V676.2V1193.5V802.2V815.5V596.7V895.1V1339.4V961.4V875.2V908.3V616.6V722.7V1525.0V888.4V1133.8V576.8V696.1V895.1V875.2V722.7V994.5V1094.0V881.8V749.2V968.0V789.0V1153.7V510.5V994.5V908.3V523.7V808.9V1007.8V842.0V1074.1V1100.6V1001.2V742.5V908.3V636.4V696.1V682.9V663.0V868.5V696.1V868.5V901.7V570.1V735.9V576.8V974.6V815.5V656.3V1127.2V861.9V875.2M1161.6 702.8V1054.2V948.1V968.0V1180.2V702.8V1067.5V609.9V782.3V583.4V1113.9V928.2V722.7V643.1V822.1V696.1V1392.4V868.5V994.5V556.9V1021.1V1087.4V895.1V835.4V855.3V1418.9V908.3V497.2V769.1V901.7V941.5V1107.3V682.9V682.9V795.6V842.0V769.1V523.7V1120.5V822.1V590.0V576.8V987.9V682.9V1147.1V656.3V1047.6V1180.2V1107.3V603.3V888.4V709.4V802.2V689.5V649.7V835.4V749.2V477.3V649.7V596.7V987.9V974.6V1074.1V961.4V875.2M1170.2 682.9V775.7V974.6V1060.8V1027.7V1007.8V749.2V1021.1V895.1V722.7V775.7V769.1V735.9V921.6V749.2V629.8V921.6V649.7V789.0V1186.8V1001.2V1273.1V1246.5V908.3V550.2V636.4V570.1V855.3V822.1V908.3V755.8V769.1V663.0V888.4V782.3V769.1V649.7V948.1V755.8V656.3V696.1V1259.8V543.6V974.6V1100.6V961.4V822.1V808.9V941.5V616.6V669.6V742.5V669.6V537.0V742.5V802.2V948.1V550.2V603.3V596.7V968.0V842.0V530.3V1120.5V1060.8V749.2M1178.8 616.6V603.3V822.1V895.1V961.4V974.6V742.5V828.8V676.2V1180.2V941.5V769.1V729.3V1001.2V762.4V1067.5V742.5V782.3V968.0V808.9V1054.2V722.7V789.0V762.4V1306.2V735.9V1027.7V1027.7V490.6V908.3V537.0V782.3V709.4V822.1V722.7V915.0V888.4V1193.5V576.8V636.4V981.3V537.0V676.2V1014.4V948.1V609.9V775.7V775.7V1140.4V510.5V769.1V616.6V623.2V623.2V523.7V981.3V556.9V954.7V583.4V523.7V948.1V749.2V550.2V1021.1V1080.7V915.0M1187.4 842.0V576.8V915.0V769.1V795.6V1054.2V1021.1V769.1V1027.7V895.1V954.7V815.5V1372.5V802.2V1060.8V735.9V1001.2V915.0V934.9V802.2V835.4V981.3V994.5V789.0V875.2V789.0V1014.4V1080.7V444.1V815.5V669.6V808.9V742.5V954.7V530.3V981.3V808.9V643.1V729.3V682.9V470.7V702.8V948.1V1279.7V629.8V735.9V735.9V1047.6V629.8V689.5V729.3V875.2V437.5V510.5V702.8V921.6V742.5V1001.2V596.7V490.6V822.1V1027.7V696.1V517.1V1047.6V1094.0V881.8M1196.0 636.4V1127.2V735.9V1054.2V1094.0V656.3V1094.0V941.5V815.5V808.9V1266.4V590.0V881.8V815.5V961.4V908.3V1220.0V663.0V762.4V861.9V1080.7V828.8V775.7V802.2V915.0V1206.7V649.7V822.1V1113.9V477.3V676.2V682.9V987.9V1067.5V855.3V855.3V908.3V616.6V590.0V1027.7V636.4V1021.1V550.2V755.8V769.1V1226.6V623.2V676.2V1021.1V861.9V762.4V808.9V676.2V490.6V537.0V523.7V742.5V609.9V908.3V603.3V583.4V941.5V1080.7V835.4V663.0V1054.2V755.8M1204.6 868.5V510.5V1100.6V775.7V749.2V1246.5V1147.1V669.6V961.4V1160.3V576.8V676.2V1213.4V563.5V961.4V782.3V842.0V1034.3V1233.3V543.6V954.7V1034.3V808.9V716.0V603.3V1007.8V1206.7V729.3V603.3V1014.4V510.5V815.5V510.5V868.5V1047.6V1014.4V735.9V716.0V1027.7V656.3V742.5V1014.4V470.7V1021.1V556.9V789.0V550.2V1027.7V503.8V729.3V921.6V915.0V789.0V769.1V663.0V676.2V490.6V464.0V769.1V603.3V915.0V689.5V663.0V888.4V868.5V762.4V1014.4V676.2M1213.2 775.7V570.1V1007.8V709.4V915.0V1074.1V1041.0V629.8V775.7V888.4V583.4V835.4V1034.3V556.9V696.1V1014.4V1014.4V1074.1V543.6V901.7V875.2V895.1V848.6V968.0V656.3V590.0V1113.9V656.3V609.9V961.4V769.1V908.3V556.9V802.2V1226.6V1041.0V616.6V842.0V636.4V1014.4V656.3V576.8V815.5V1007.8V490.6V881.8V543.6V901.7V616.6V881.8V861.9V583.4V915.0V848.6V775.7V755.8V603.3V503.8V477.3V861.9V987.9V782.3V636.4V968.0V861.9V802.2V908.3V1153.7V563.5M1221.8 716.0V696.1V1001.2V1021.1V550.2V1001.2V881.8V623.2V861.9V1034.3V596.7V981.3V855.3V915.0V968.0V1041.0V649.7V1074.1V1074.1V769.1V1001.2V848.6V583.4V1259.8V609.9V583.4V908.3V590.0V815.5V417.6V915.0V1133.8V928.2V842.0V901.7V1074.1V556.9V663.0V881.8V682.9V769.1V563.5V875.2V848.6V789.0V623.2V775.7V961.4V729.3V576.8V702.8V775.7V948.1V530.3V629.8V556.9V391.1V1007.8V895.1V1007.8V755.8V762.4V1107.3V795.6V523.7V921.6V570.1V974.6V590.0M1230.4 1001.2V861.9V855.3V749.2V1007.8V828.8V921.6V543.6V881.8V921.6V669.6V981.3V643.1V868.5V1021.1V954.7V1034.3V477.3V948.1V828.8V503.8V716.0V1173.6V669.6V1213.4V530.3V616.6V895.1V503.8V795.6V623.2V735.9V954.7V861.9V682.9V782.3V888.4V1041.0V875.2V808.9V722.7V842.0V835.4V629.8V822.1V663.0V643.1V861.9V609.9V755.8V789.0V828.8V696.1V828.8V623.2V901.7V623.2V510.5V742.5V503.8V1007.8V696.1V954.7V782.3V669.6V1067.5V497.2V921.6V470.7V709.4M1239.0 875.2V1001.2V828.8V749.2V1067.5V875.2V974.6V808.9V934.9V815.5V689.5V868.5V915.0V716.0V1014.4V948.1V815.5V629.8V742.5V424.2V795.6V1047.6V928.2V550.2V1001.2V603.3V915.0V1001.2V696.1V497.2V537.0V735.9V941.5V722.7V709.4V735.9V895.1V987.9V590.0V437.5V815.5V775.7V649.7V702.8V603.3V921.6V795.6V702.8V729.3V663.0V1060.8V716.0V802.2V696.1V1160.3V795.6V464.0V510.5V603.3V981.3V676.2V775.7V868.5V822.1V676.2V437.5V822.1V517.1V722.7V649.7M1247.6 881.8V775.7V994.5V881.8V968.0V808.9V696.1V1041.0V676.2V656.3V537.0V835.4V888.4V663.0V1054.2V795.6V789.0V941.5V590.0V563.5V629.8V483.9V729.3V868.5V1007.8V543.6V934.9V616.6V676.2V1140.4V563.5V510.5V775.7V609.9V1120.5V868.5V643.1V749.2V1067.5V789.0V669.6V464.0V934.9V848.6V537.0V623.2V550.2V802.2V961.4V722.7V517.1V663.0V855.3V623.2V1147.1V656.3V503.8V609.9V543.6V649.7V928.2V716.0V749.2V848.6V576.8V1087.4V881.8V530.3V470.7V669.6V570.1M1256.2 815.5V503.8V1087.4V861.9V954.7V789.0V901.7V789.0V915.0V742.5V497.2V623.2V696.1V941.5V1027.7V636.4V974.6V543.6V682.9V636.4V364.6V1001.2V716.0V1014.4V503.8V881.8V523.7V550.2V1153.7V556.9V576.8V881.8V603.3V968.0V722.7V530.3V954.7V994.5V782.3V716.0V609.9V815.5V908.3V497.2V676.2V643.1V901.7V775.7V868.5V696.1V583.4V530.3V1140.4V795.6V722.7V702.8V1047.6V636.4V689.5V669.6V623.2V696.1V915.0V716.0V948.1V835.4V696.1V729.3V464.0V822.1V682.9V742.5M1264.8 782.3V722.7V1233.3V729.3V789.0V749.2V669.6V808.9V762.4V583.4V669.6V663.0V808.9V1001.2V1226.6V543.6V762.4V981.3V537.0V669.6V384.5V994.5V643.1V888.4V483.9V782.3V603.3V550.2V1213.4V576.8V483.9V875.2V808.9V1074.1V749.2V397.7V1133.8V954.7V835.4V848.6V676.2V822.1V822.1V444.1V762.4V643.1V1047.6V689.5V762.4V689.5V709.4V941.5V596.7V663.0V656.3V881.8V649.7V689.5V901.7V543.6V550.2V663.0V570.1V888.4V669.6V987.9V550.2V576.8V742.5V636.4V643.1V424.2M1273.4 901.7V696.1V1054.2V623.2V709.4V457.4V623.2V861.9V789.0V934.9V543.6V709.4V623.2V808.9V1014.4V1113.9V563.5V855.3V941.5V808.9V702.8V470.7V437.5V1113.9V656.3V987.9V470.7V868.5V483.9V1007.8V583.4V696.1V868.5V596.7V762.4V968.0V775.7V769.1V808.9V795.6V609.9V596.7V450.8V629.8V603.3V954.7V643.1V1047.6V669.6V735.9V682.9V848.6V669.6V550.2V722.7V848.6V755.8V842.0V716.0V583.4V464.0V842.0V808.9V808.9V609.9V444.1V1266.4V583.4V530.3V808.9V629.8V682.9V477.3M1281.9 842.0V822.1V510.5V669.6V490.6V643.1V921.6V570.1V915.0V576.8V709.4V570.1V921.6V915.0V1160.3V523.7V861.9V928.2V1041.0V517.1V609.9V430.9V881.8V676.2V1021.1V490.6V987.9V848.6V457.4V1007.8V735.9V729.3V981.3V444.1V742.5V861.9V457.4V895.1V556.9V716.0V855.3V1067.5V629.8V656.3V576.8V875.2V543.6V802.2V530.3V941.5V901.7V709.4V934.9V689.5V643.1V543.6V782.3V669.6V722.7V576.8V470.7V663.0V636.4V716.0V789.0V669.6V510.5V954.7V470.7V483.9V994.5V848.6V510.5V663.0M1290.5 1153.7V722.7V769.1V603.3V749.2V543.6V663.0V968.0V822.1V954.7V457.4V490.6V503.8V729.3V1007.8V1047.6V663.0V842.0V881.8V1100.6V437.5V921.6V503.8V616.6V609.9V822.1V543.6V968.0V775.7V517.1V848.6V974.6V735.9V450.8V855.3V1027.7V696.1V643.1V775.7V782.3V1087.4V842.0V676.2V848.6V848.6V822.1V676.2V716.0V848.6V1027.7V769.1V789.0V742.5V669.6V583.4V424.2V709.4V782.3V802.2V583.4V411.0V563.5V543.6V749.2V795.6V742.5V636.4V868.5V762.4V497.2V1220.0V974.6V596.7V550.2M1299.1 1166.9V881.8V623.2V623.2V696.1V444.1V689.5V1087.4V948.1V961.4V517.1V437.5V616.6V616.6V987.9V987.9V749.2V643.1V881.8V1041.0V517.1V802.2V530.3V915.0V576.8V656.3V397.7V1027.7V623.2V556.9V1027.7V968.0V775.7V775.7V483.9V795.6V789.0V682.9V888.4V543.6V875.2V835.4V974.6V735.9V895.1V987.9V689.5V901.7V835.4V609.9V782.3V934.9V888.4V895.1V649.7V583.4V696.1V530.3V735.9V762.4V735.9V603.3V470.7V543.6V663.0V729.3V769.1V570.1V822.1V901.7V430.9V987.9V742.5V590.0V523.7M1307.7 974.6V835.4V762.4V702.8V629.8V417.6V881.8V1094.0V915.0V842.0V563.5V470.7V815.5V716.0V928.2V915.0V709.4V676.2V954.7V1147.1V596.7V609.9V550.2V722.7V523.7V676.2V404.4V1001.2V503.8V802.2V941.5V1027.7V663.0V755.8V503.8V789.0V855.3V643.1V722.7V490.6V663.0V1080.7V895.1V861.9V848.6V603.3V888.4V795.6V861.9V576.8V934.9V842.0V689.5V749.2V576.8V629.8V530.3V609.9V941.5V895.1V881.8V815.5V490.6V702.8V576.8V775.7V828.8V722.7V842.0V583.4V802.2V424.2V901.7V954.7V649.7V411.0M1316.3 868.5V755.8V789.0V735.9V616.6V364.6V981.3V1080.7V835.4V649.7V583.4V576.8V649.7V676.2V656.3V1087.4V729.3V596.7V842.0V954.7V556.9V616.6V636.4V749.2V570.1V775.7V590.0V848.6V411.0V921.6V954.7V881.8V742.5V802.2V702.8V1087.4V934.9V623.2V682.9V523.7V596.7V974.6V875.2V828.8V987.9V563.5V987.9V861.9V789.0V663.0V702.8V855.3V656.3V702.8V789.0V563.5V497.2V483.9V848.6V875.2V782.3V908.3V576.8V563.5V530.3V815.5V769.1V888.4V689.5V537.0V769.1V523.7V663.0V868.5V530.3V477.3M1324.9 676.2V716.0V835.4V729.3V729.3V437.5V828.8V1001.2V828.8V543.6V762.4V649.7V722.7V629.8V643.1V1080.7V755.8V676.2V709.4V808.9V682.9V769.1V702.8V663.0V742.5V815.5V815.5V895.1V404.4V1186.8V789.0V729.3V609.9V669.6V735.9V828.8V901.7V609.9V457.4V596.7V663.0V1007.8V861.9V835.4V1120.5V643.1V968.0V915.0V802.2V649.7V702.8V842.0V590.0V782.3V808.9V510.5V517.1V530.3V603.3V895.1V861.9V908.3V742.5V490.6V543.6V742.5V609.9V908.3V755.8V490.6V795.6V636.4V696.1V842.0V570.1V444.1M1333.5 742.5V782.3V881.8V802.2V702.8V583.4V855.3V1041.0V835.4V543.6V682.9V649.7V716.0V596.7V755.8V908.3V1127.2V649.7V669.6V729.3V702.8V901.7V716.0V775.7V616.6V689.5V656.3V709.4V537.0V1001.2V789.0V775.7V550.2V616.6V742.5V616.6V861.9V742.5V530.3V596.7V623.2V934.9V1067.5V689.5V908.3V842.0V954.7V888.4V901.7V769.1V603.3V968.0V477.3V815.5V954.7V603.3V550.2V550.2V895.1V742.5V901.7V868.5V609.9V550.2V596.7V875.2V576.8V1100.6V583.4V517.1V656.3V563.5V842.0V921.6V550.2V417.6M1342.1 576.8V596.7V729.3V808.9V868.5V682.9V895.1V994.5V716.0V477.3V696.1V689.5V643.1V636.4V868.5V855.3V1021.1V663.0V629.8V895.1V716.0V855.3V729.3V1001.2V663.0V643.1V616.6V543.6V497.2V749.2V815.5V629.8V503.8V769.1V629.8V596.7V822.1V609.9V583.4V709.4V623.2V1034.3V1166.9V769.1V915.0V1001.2V669.6V1074.1V848.6V848.6V676.2V981.3V464.0V987.9V1220.0V669.6V530.3V855.3V789.0V609.9V749.2V855.3V735.9V623.2V775.7V729.3V709.4V1094.0V517.1V530.3V656.3V656.3V742.5V934.9V510.5V490.6M1350.7 629.8V848.6V749.2V921.6V934.9V576.8V941.5V1027.7V669.6V490.6V802.2V636.4V749.2V623.2V709.4V928.2V908.3V590.0V629.8V782.3V842.0V676.2V735.9V1147.1V822.1V596.7V523.7V457.4V596.7V795.6V822.1V530.3V543.6V934.9V590.0V676.2V729.3V656.3V755.8V729.3V563.5V941.5V1107.3V722.7V895.1V1047.6V616.6V994.5V968.0V789.0V775.7V1047.6V583.4V795.6V954.7V749.2V417.6V895.1V762.4V702.8V609.9V702.8V643.1V848.6V808.9V656.3V861.9V981.3V517.1V457.4V563.5V537.0V848.6V848.6V510.5V411.0M1359.3 676.2V669.6V682.9V928.2V596.7V689.5V722.7V934.9V735.9V450.8V881.8V543.6V709.4V649.7V855.3V822.1V895.1V676.2V616.6V842.0V689.5V596.7V729.3V1239.9V835.4V596.7V483.9V404.4V808.9V742.5V682.9V537.0V503.8V987.9V689.5V556.9V682.9V749.2V775.7V755.8V596.7V987.9V987.9V696.1V769.1V895.1V603.3V961.4V1001.2V808.9V570.1V1220.0V550.2V808.9V842.0V470.7V663.0V1001.2V848.6V782.3V782.3V742.5V696.1V835.4V735.9V769.1V795.6V855.3V543.6V590.0V669.6V543.6V828.8V908.3V497.2V444.1M1367.9 729.3V503.8V609.9V981.3V537.0V550.2V643.1V881.8V815.5V623.2V782.3V497.2V629.8V709.4V921.6V775.7V789.0V835.4V596.7V808.9V643.1V430.9V855.3V1220.0V928.2V636.4V417.6V510.5V609.9V729.3V735.9V656.3V563.5V835.4V669.6V530.3V543.6V789.0V616.6V881.8V629.8V1027.7V861.9V749.2V696.1V861.9V881.8V848.6V802.2V1094.0V490.6V1160.3V477.3V742.5V775.7V450.8V543.6V1007.8V901.7V835.4V742.5V629.8V616.6V755.8V855.3V755.8V782.3V517.1V530.3V590.0V576.8V550.2V663.0V629.8V669.6V470.7M1376.5 576.8V570.1V590.0V954.7V503.8V815.5V702.8V855.3V709.4V702.8V974.6V530.3V563.5V808.9V795.6V676.2V861.9V676.2V682.9V968.0V643.1V477.3V795.6V881.8V855.3V782.3V377.8V530.3V795.6V669.6V550.2V742.5V503.8V1001.2V609.9V596.7V530.3V802.2V689.5V1034.3V623.2V875.2V802.2V656.3V596.7V835.4V676.2V682.9V735.9V795.6V563.5V928.2V570.1V762.4V808.9V517.1V808.9V941.5V961.4V815.5V596.7V716.0V629.8V663.0V868.5V537.0V835.4V543.6V616.6V556.9V543.6V583.4V815.5V530.3V789.0V517.1M1385.1 676.2V696.1V682.9V1074.1V609.9V722.7V789.0V868.5V656.3V570.1V1047.6V762.4V629.8V802.2V656.3V616.6V915.0V669.6V729.3V483.9V437.5V808.9V762.4V855.3V808.9V556.9V636.4V795.6V656.3V464.0V901.7V483.9V795.6V689.5V583.4V530.3V649.7V696.1V822.1V663.0V828.8V629.8V649.7V742.5V881.8V716.0V815.5V749.2V835.4V530.3V1027.7V729.3V729.3V828.8V590.0V769.1V815.5V808.9V881.8V576.8V636.4V643.1V696.1V649.7V510.5V663.0V861.9V629.8V530.3V510.5V603.3V802.2V649.7V934.9V464.0M1393.7 609.9V603.3V609.9V1080.7V629.8V789.0V742.5V1007.8V517.1V749.2V1014.4V583.4V537.0V934.9V875.2V603.3V769.1V769.1V609.9V755.8V570.1V510.5V735.9V590.0V755.8V901.7V696.1V682.9V994.5V755.8V696.1V842.0V782.3V537.0V636.4V623.2V609.9V576.8V663.0V643.1V1001.2V530.3V762.4V789.0V901.7V782.3V868.5V802.2V815.5V636.4V1246.5V649.7V762.4V1001.2V623.2V550.2V835.4V689.5V915.0V815.5V537.0V590.0V775.7V915.0V517.1V702.8V789.0V682.9V629.8V609.9V483.9V669.6V603.3V828.8V550.2M1402.2 716.0V769.1V616.6V1007.8V696.1V822.1V603.3V994.5V563.5V689.5V1173.6V669.6V464.0V968.0V775.7V735.9V848.6V749.2V755.8V908.3V603.3V530.3V583.4V696.1V656.3V828.8V682.9V609.9V908.3V908.3V663.0V875.2V437.5V742.5V537.0V722.7V623.2V716.0V643.1V822.1V603.3V802.2V663.0V769.1V749.2V789.0V663.0V828.8V901.7V583.4V1246.5V663.0V742.5V808.9V729.3V623.2V696.1V702.8V1060.8V954.7V497.2V576.8V682.9V961.4V523.7V742.5V649.7V636.4V609.9V483.9V503.8V749.2V510.5V696.1V563.5M1410.8 795.6V855.3V789.0V954.7V570.1V855.3V663.0V961.4V848.6V828.8V1133.8V682.9V550.2V802.2V649.7V789.0V855.3V709.4V716.0V835.4V609.9V649.7V477.3V483.9V523.7V755.8V576.8V629.8V808.9V1041.0V603.3V868.5V483.9V769.1V430.9V497.2V543.6V629.8V609.9V848.6V576.8V795.6V510.5V742.5V676.2V523.7V802.2V1100.6V702.8V583.4V1233.3V470.7V663.0V735.9V629.8V563.5V590.0V855.3V1047.6V861.9V656.3V570.1V550.2V842.0V689.5V1027.7V563.5V636.4V636.4V755.8V483.9V709.4V603.3V702.8V464.0M1419.4 729.3V881.8V742.5V1014.4V729.3V828.8V775.7V1007.8V842.0V895.1V895.1V729.3V629.8V835.4V563.5V861.9V550.2V616.6V749.2V649.7V656.3V364.6V457.4V716.0V676.2V583.4V663.0V795.6V775.7V643.1V868.5V510.5V530.3V430.9V596.7V470.7V948.1V669.6V1080.7V636.4V749.2V722.7V689.5V556.9V835.4V517.1V563.5V702.8V583.4V590.0V934.9V470.7V729.3V861.9V623.2V576.8V623.2V676.2V815.5V921.6V623.2V643.1V682.9V875.2V716.0V868.5V530.3V470.7V901.7V729.3V556.9V682.9V656.3V676.2V490.6M1428.0 590.0V802.2V722.7V948.1V782.3V769.1V848.6V948.1V729.3V895.1V828.8V702.8V483.9V875.2V556.9V868.5V848.6V351.3V583.4V749.2V669.6V576.8V404.4V470.7V835.4V828.8V457.4V656.3V921.6V437.5V1021.1V550.2V643.1V616.6V696.1V517.1V835.4V556.9V954.7V789.0V596.7V769.1V769.1V749.2V875.2V556.9V649.7V842.0V629.8V716.0V609.9V523.7V775.7V915.0V908.3V483.9V537.0V682.9V861.9V954.7V623.2V517.1V550.2V881.8V735.9V689.5V576.8V543.6V994.5V623.2V643.1V669.6V702.8V464.0M1436.6 570.1V682.9V808.9V855.3V623.2V696.1V954.7V934.9V848.6V636.4V669.6V716.0V709.4V676.2V676.2V795.6V915.0V477.3V616.6V676.2V576.8V623.2V404.4V530.3V682.9V709.4V457.4V576.8V848.6V430.9V954.7V716.0V629.8V523.7V636.4V702.8V1041.0V835.4V749.2V808.9V609.9V696.1V755.8V789.0V669.6V755.8V689.5V669.6V563.5V583.4V483.9V755.8V729.3V888.4V550.2V510.5V616.6V795.6V1007.8V696.1V643.1V629.8V789.0V430.9V682.9V576.8V497.2V1133.8V550.2V609.9V663.0V782.3V596.7V497.2M1445.2 828.8V749.2V828.8V716.0V590.0V908.3V861.9V974.6V636.4V649.7V795.6V656.3V676.2V696.1V616.6V795.6V477.3V570.1V583.4V550.2V855.3V364.6V590.0V828.8V623.2V550.2V689.5V477.3V735.9V543.6V1080.7V689.5V682.9V457.4V530.3V616.6V961.4V895.1V689.5V802.2V709.4V570.1V928.2V696.1V722.7V762.4V769.1V616.6V470.7V682.9V430.9V729.3V802.2V590.0V490.6V603.3V563.5V729.3V994.5V676.2V782.3V762.4V749.2V543.6V550.2V616.6V483.9V855.3V623.2V782.3V669.6V649.7V808.9V470.7M1453.8 497.2V795.6V623.2V848.6V696.1V875.2V782.3V735.9V676.2V895.1V596.7V682.9V709.4V643.1V954.7V702.8V636.4V430.9V789.0V490.6V523.7V994.5V616.6V616.6V948.1V450.8V689.5V590.0V822.1V795.6V616.6V483.9V643.1V709.4V848.6V636.4V755.8V881.8V749.2V576.8V649.7V961.4V729.3V875.2V901.7V815.5V603.3V722.7V908.3V470.7V735.9V762.4V795.6V550.2V570.1V583.4V815.5V1094.0V537.0V702.8V908.3V755.8V590.0V623.2V517.1V643.1V861.9V503.8V828.8V563.5V576.8V762.4V517.1M1462.4 483.9V861.9V908.3V1286.3V775.7V669.6V735.9V603.3V676.2V616.6V643.1V881.8V682.9V842.0V888.4V530.3V915.0V629.8V762.4V755.8V503.8V842.0V563.5V908.3V623.2V583.4V828.8V503.8V795.6V649.7V828.8V795.6V669.6V530.3V828.8V609.9V576.8V815.5V1160.3V742.5V629.8V729.3V1127.2V895.1V755.8V961.4V908.3V676.2V716.0V954.7V490.6V749.2V808.9V808.9V709.4V643.1V702.8V815.5V934.9V570.1V656.3V1067.5V702.8V629.8V590.0V596.7V934.9V623.2V895.1V636.4V709.4V875.2V450.8M1471.0 530.3V815.5V915.0V1286.3V689.5V497.2V669.6V762.4V643.1V676.2V530.3V928.2V735.9V762.4V948.1V616.6V682.9V682.9V636.4V483.9V915.0V497.2V583.4V987.9V563.5V789.0V735.9V749.2V875.2V961.4V934.9V682.9V503.8V855.3V755.8V663.0V464.0V789.0V974.6V649.7V530.3V636.4V789.0V795.6V881.8V828.8V888.4V669.6V835.4V888.4V424.2V855.3V848.6V775.7V537.0V629.8V643.1V888.4V775.7V643.1V656.3V895.1V477.3V649.7V483.9V603.3V808.9V490.6V921.6V709.4V742.5V1007.8V430.9M1479.6 430.9V735.9V895.1V1041.0V722.7V550.2V802.2V808.9V556.9V709.4V464.0V881.8V755.8V663.0V676.2V735.9V835.4V603.3V808.9V682.9V722.7V775.7V477.3V815.5V934.9V609.9V709.4V590.0V643.1V583.4V789.0V802.2V742.5V530.3V895.1V689.5V676.2V616.6V716.0V908.3V749.2V609.9V729.3V855.3V755.8V755.8V789.0V934.9V556.9V755.8V908.3V523.7V795.6V954.7V543.6V603.3V749.2V868.5V636.4V583.4V663.0V603.3V649.7V643.1V437.5V643.1V928.2V477.3V934.9V669.6V769.1V590.0M1488.2 377.8V682.9V968.0V1233.3V861.9V629.8V822.1V682.9V490.6V755.8V543.6V1007.8V563.5V663.0V722.7V590.0V848.6V742.5V643.1V755.8V483.9V629.8V815.5V842.0V497.2V537.0V590.0V510.5V868.5V855.3V934.9V716.0V510.5V1200.1V828.8V596.7V596.7V908.3V808.9V828.8V802.2V875.2V669.6V868.5V968.0V603.3V828.8V596.7V590.0V868.5V895.1V842.0V636.4V649.7V842.0V775.7V609.9V716.0V802.2V669.6V510.5V570.1V596.7V404.4V789.0V981.3V643.1V842.0V643.1V709.4V709.4V649.7M1496.8 384.5V669.6V815.5V1186.8V928.2V570.1V881.8V735.9V411.0V722.7V576.8V861.9V934.9V603.3V643.1V835.4V477.3V921.6V676.2V735.9V1054.2V490.6V861.9V636.4V895.1V537.0V616.6V530.3V570.1V735.9V696.1V609.9V576.8V1127.2V795.6V709.4V550.2V497.2V941.5V848.6V742.5V729.3V735.9V908.3V775.7V994.5V901.7V643.1V689.5V669.6V669.6V934.9V795.6V649.7V689.5V483.9V954.7V570.1V702.8V795.6V775.7V696.1V430.9V596.7V762.4V669.6V881.8V636.4V676.2V742.5V570.1V762.4M1505.4 523.7V609.9V815.5V948.1V603.3V497.2V1067.5V583.4V497.2V623.2V1067.5V855.3V663.0V868.5V682.9V861.9V490.6V934.9V795.6V735.9V656.3V556.9V563.5V835.4V643.1V510.5V530.3V676.2V775.7V808.9V848.6V623.2V742.5V875.2V603.3V556.9V596.7V782.3V815.5V729.3V742.5V702.8V908.3V961.4V1074.1V915.0V855.3V769.1V590.0V696.1V1147.1V762.4V636.4V789.0V570.1V782.3V616.6V583.4V663.0V888.4V424.2V729.3V716.0V377.8V682.9V1047.6V643.1V643.1V590.0V828.8V616.6V735.9M1514.0 490.6V702.8V669.6V915.0V729.3V530.3V775.7V563.5V570.1V583.4V616.6V1080.7V789.0V802.2V1027.7V709.4V1140.4V755.8V596.7V682.9V762.4V570.1V570.1V603.3V762.4V563.5V722.7V590.0V722.7V755.8V755.8V550.2V742.5V609.9V802.2V543.6V563.5V656.3V987.9V702.8V722.7V669.6V769.1V775.7V921.6V1067.5V921.6V623.2V948.1V735.9V656.3V1193.5V835.4V483.9V623.2V411.0V742.5V643.1V795.6V636.4V769.1V404.4V649.7V391.1V709.4V735.9V663.0V563.5V603.3V596.7V497.2V563.5M1522.5 483.9V722.7V676.2V742.5V676.2V636.4V749.2V755.8V517.1V702.8V868.5V775.7V563.5V815.5V656.3V1060.8V570.1V1007.8V875.2V510.5V643.1V795.6V696.1V729.3V954.7V430.9V649.7V709.4V762.4V795.6V795.6V716.0V795.6V537.0V822.1V490.6V656.3V775.7V934.9V603.3V716.0V755.8V915.0V855.3V1054.2V1220.0V596.7V822.1V1034.3V603.3V1054.2V954.7V636.4V609.9V357.9V1153.7V769.1V636.4V928.2V649.7V676.2V464.0V682.9V669.6V596.7V649.7V563.5V603.3V755.8V676.2V576.8V490.6M1531.1 716.0V583.4V649.7V696.1V709.4V782.3V696.1V735.9V556.9V769.1V895.1V789.0V868.5V974.6V808.9V875.2V649.7V1113.9V934.9V881.8V523.7V663.0V590.0V842.0V755.8V1034.3V543.6V735.9V789.0V822.1V623.2V742.5V769.1V636.4V517.1V789.0V497.2V576.8V835.4V742.5V789.0V649.7V915.0V762.4V795.6V1153.7V1220.0V749.2V716.0V855.3V616.6V848.6V915.0V689.5V609.9V424.2V875.2V676.2V663.0V669.6V590.0V576.8V643.1V702.8V802.2V543.6V702.8V742.5V716.0V835.4V424.2V716.0M1539.7 822.1V835.4V543.6V848.6V861.9V636.4V583.4V828.8V755.8V709.4V755.8V934.9V722.7V795.6V590.0V1080.7V928.2V875.2V596.7V576.8V563.5V689.5V729.3V696.1V596.7V490.6V696.1V775.7V696.1V755.8V775.7V815.5V530.3V689.5V649.7V457.4V861.9V855.3V709.4V616.6V722.7V881.8V782.3V881.8V861.9V1047.6V530.3V716.0V861.9V623.2V974.6V735.9V742.5V749.2V430.9V1153.7V709.4V682.9V643.1V643.1V530.3V802.2V490.6V649.7V689.5V682.9V782.3V802.2V928.2V450.8V510.5V669.6M1548.3 961.4V530.3V835.4V682.9V576.8V881.8V576.8V789.0V576.8V636.4V795.6V789.0V656.3V643.1V762.4V530.3V875.2V503.8V954.7V1041.0V842.0V537.0V616.6V503.8V609.9V749.2V556.9V629.8V1041.0V716.0V570.1V835.4V696.1V689.5V789.0V649.7V616.6V802.2V881.8V636.4V682.9V570.1V722.7V775.7V822.1V1140.4V775.7V576.8V775.7V775.7V941.5V669.6V742.5V762.4V470.7V981.3V908.3V663.0V483.9V749.2V556.9V729.3V537.0V636.4V974.6V663.0V649.7V629.8V941.5V556.9V464.0V550.2M1556.9 815.5V643.1V729.3V590.0V742.5V769.1V530.3V543.6V590.0V623.2V755.8V629.8V709.4V722.7V828.8V470.7V802.2V616.6V948.1V689.5V530.3V663.0V603.3V596.7V709.4V848.6V729.3V729.3V523.7V961.4V855.3V888.4V696.1V702.8V596.7V696.1V483.9V676.2V609.9V921.6V530.3V596.7V543.6V749.2V934.9V629.8V875.2V808.9V583.4V802.2V875.2V968.0V696.1V775.7V735.9V503.8V815.5V848.6V550.2V556.9V742.5V623.2V576.8V762.4V1067.5V749.2V815.5V669.6V915.0V795.6V629.8V603.3M1565.5 835.4V550.2V762.4V537.0V623.2V861.9V470.7V576.8V656.3V689.5V576.8V782.3V762.4V1173.6V623.2V556.9V755.8V855.3V888.4V503.8V649.7V709.4V510.5V523.7V556.9V716.0V828.8V881.8V411.0V742.5V709.4V928.2V855.3V861.9V643.1V543.6V636.4V570.1V974.6V576.8V543.6V556.9V1133.8V563.5V908.3V656.3V537.0V537.0V735.9V1041.0V908.3V709.4V629.8V676.2V550.2V762.4V735.9V742.5V503.8V828.8V590.0V530.3V556.9V875.2V663.0V762.4V775.7V543.6V901.7V643.1V669.6V709.4M1574.1 689.5V590.0V934.9V636.4V656.3V974.6V444.1V702.8V550.2V861.9V643.1V682.9V775.7V716.0V1100.6V855.3V450.8V868.5V722.7V424.2V696.1V782.3V590.0V616.6V702.8V696.1V934.9V808.9V411.0V842.0V749.2V696.1V669.6V1193.5V875.2V722.7V550.2V789.0V948.1V570.1V749.2V689.5V563.5V941.5V503.8V795.6V682.9V649.7V490.6V656.3V1007.8V842.0V716.0V842.0V676.2V503.8V643.1V815.5V636.4V450.8V789.0V517.1V523.7V609.9V815.5V629.8V901.7V822.1V921.6V901.7V609.9V636.4V709.4M1582.7 915.0V656.3V755.8V702.8V609.9V981.3V550.2V649.7V477.3V795.6V729.3V649.7V875.2V855.3V1206.7V735.9V881.8V802.2V888.4V424.2V596.7V663.0V609.9V543.6V609.9V775.7V981.3V795.6V477.3V808.9V609.9V623.2V656.3V974.6V888.4V828.8V689.5V596.7V775.7V901.7V663.0V762.4V702.8V1133.8V411.0V676.2V782.3V649.7V550.2V629.8V915.0V769.1V649.7V663.0V835.4V709.4V649.7V855.3V629.8V570.1V1027.7V623.2V669.6V543.6V1041.0V609.9V848.6V530.3V934.9V968.0V656.3V517.1V649.7M1591.3 828.8V795.6V649.7V616.6V623.2V822.1V530.3V789.0V596.7V1007.8V596.7V769.1V749.2V682.9V1206.7V802.2V477.3V908.3V775.7V477.3V709.4V669.6V848.6V629.8V609.9V663.0V769.1V609.9V543.6V881.8V802.2V603.3V636.4V968.0V789.0V908.3V881.8V709.4V848.6V881.8V716.0V861.9V735.9V1027.7V861.9V477.3V696.1V762.4V656.3V603.3V523.7V795.6V550.2V603.3V676.2V974.6V842.0V643.1V835.4V702.8V563.5V749.2V590.0V576.8V570.1V855.3V649.7V696.1V742.5V603.3V802.2V928.2V616.6V656.3M1599.9 623.2V828.8V523.7V749.2V596.7V881.8V656.3V762.4V682.9V842.0V497.2V636.4V835.4V901.7V848.6V735.9V444.1V881.8V709.4V921.6V643.1V596.7V716.0V609.9V769.1V663.0V888.4V636.4V523.7V769.1V941.5V517.1V775.7V828.8V921.6V842.0V782.3V616.6V769.1V1100.6V755.8V696.1V716.0V1213.4V1021.1V483.9V735.9V855.3V570.1V537.0V689.5V941.5V609.9V742.5V1180.2V855.3V623.2V855.3V676.2V609.9V663.0V530.3V596.7V669.6V881.8V616.6V802.2V769.1V450.8V696.1V1206.7V629.8V603.3V629.8M1608.5 722.7V861.9V497.2V755.8V590.0V782.3V590.0V755.8V822.1V789.0V457.4V696.1V815.5V1001.2V775.7V490.6V477.3V954.7V782.3V848.6V755.8V643.1V643.1V808.9V603.3V643.1V795.6V464.0V921.6V802.2V523.7V742.5V815.5V921.6V789.0V590.0V696.1V961.4V590.0V755.8V848.6V709.4V1200.1V762.4V689.5V775.7V1021.1V457.4V643.1V676.2V868.5V802.2V848.6V609.9V1007.8V842.0V537.0V842.0V722.7V669.6V616.6V616.6V556.9V603.3V835.4V676.2V954.7V808.9V537.0V649.7V1087.4V543.6V397.7V689.5M1617.1 795.6V815.5V603.3V616.6V663.0V755.8V543.6V656.3V881.8V954.7V537.0V702.8V802.2V981.3V735.9V609.9V437.5V981.3V709.4V802.2V716.0V643.1V663.0V596.7V623.2V689.5V676.2V649.7V603.3V470.7V789.0V656.3V669.6V1206.7V1120.5V576.8V603.3V556.9V689.5V477.3V563.5V676.2V749.2V1007.8V901.7V616.6V749.2V1140.4V523.7V669.6V755.8V901.7V928.2V828.8V503.8V861.9V835.4V623.2V808.9V855.3V729.3V636.4V656.3V616.6V457.4V868.5V702.8V928.2V603.3V556.9V1147.1V636.4V404.4V576.8M1625.7 895.1V881.8V590.0V656.3V643.1V722.7V722.7V682.9V828.8V848.6V590.0V603.3V802.2V1173.6V689.5V676.2V503.8V954.7V643.1V735.9V755.8V696.1V735.9V789.0V609.9V1054.2V689.5V570.1V609.9V510.5V961.4V609.9V1094.0V974.6V530.3V603.3V596.7V623.2V497.2V424.2V808.9V775.7V629.8V808.9V775.7V742.5V1259.8V517.1V934.9V735.9V822.1V762.4V696.1V530.3V822.1V649.7V663.0V888.4V875.2V855.3V689.5V609.9V537.0V596.7V875.2V649.7V1080.7V901.7V596.7V523.7V769.1V636.4V450.8V470.7M1634.3 915.0V941.5V709.4V749.2V729.3V709.4V636.4V623.2V609.9V656.3V782.3V497.2V755.8V835.4V934.9V623.2V590.0V901.7V550.2V563.5V656.3V735.9V815.5V968.0V716.0V948.1V696.1V556.9V709.4V590.0V563.5V789.0V616.6V696.1V1021.1V875.2V550.2V596.7V755.8V722.7V444.1V583.4V974.6V696.1V808.9V941.5V1220.0V656.3V762.4V755.8V795.6V769.1V643.1V523.7V789.0V828.8V861.9V815.5V875.2V968.0V609.9V649.7V636.4V623.2V848.6V663.0V901.7V848.6V729.3V517.1V603.3V603.3V590.0V497.2M1642.8 1014.4V755.8V742.5V742.5V702.8V709.4V603.3V808.9V716.0V543.6V735.9V464.0V822.1V669.6V941.5V769.1V749.2V755.8V537.0V616.6V550.2V822.1V828.8V1041.0V629.8V921.6V609.9V543.6V656.3V815.5V556.9V842.0V623.2V596.7V901.7V848.6V636.4V590.0V782.3V822.1V424.2V596.7V1054.2V596.7V649.7V901.7V789.0V968.0V596.7V689.5V663.0V848.6V676.2V729.3V749.2V802.2V789.0V762.4V749.2V848.6V1160.3V669.6V716.0V815.5V881.8V908.3V934.9V822.1V802.2V570.1V643.1V616.6V656.3V822.1M1651.4 954.7V762.4V716.0V656.3V696.1V702.8V623.2V616.6V643.1V543.6V669.6V663.0V722.7V490.6V954.7V676.2V570.1V722.7V503.8V775.7V523.7V808.9V676.2V835.4V901.7V981.3V603.3V755.8V669.6V762.4V901.7V563.5V676.2V808.9V835.4V802.2V556.9V861.9V921.6V497.2V722.7V875.2V795.6V517.1V835.4V901.7V1113.9V1007.8V603.3V842.0V596.7V775.7V749.2V729.3V709.4V656.3V974.6V709.4V742.5V802.2V928.2V669.6V570.1V735.9V941.5V822.1V934.9V875.2V789.0V649.7V643.1V643.1V543.6V835.4M1660.0 1246.5V941.5V729.3V742.5V510.5V676.2V596.7V537.0V769.1V523.7V828.8V563.5V663.0V603.3V1007.8V663.0V556.9V808.9V497.2V954.7V537.0V603.3V616.6V782.3V994.5V1027.7V656.3V503.8V682.9V576.8V848.6V815.5V503.8V755.8V716.0V716.0V729.3V517.1V808.9V689.5V517.1V888.4V1014.4V802.2V656.3V815.5V669.6V762.4V689.5V689.5V696.1V609.9V795.6V729.3V629.8V709.4V948.1V609.9V835.4V682.9V875.2V716.0V676.2V623.2V895.1V1001.2V954.7V868.5V749.2V663.0V497.2V643.1V477.3V855.3M1668.6 1047.6V1100.6V835.4V769.1V437.5V669.6V550.2V517.1V503.8V490.6V908.3V616.6V663.0V477.3V1213.4V808.9V576.8V782.3V510.5V835.4V663.0V556.9V623.2V1014.4V974.6V570.1V590.0V775.7V702.8V875.2V875.2V477.3V789.0V749.2V570.1V649.7V616.6V663.0V596.7V928.2V968.0V749.2V629.8V682.9V782.3V861.9V755.8V583.4V735.9V596.7V735.9V795.6V656.3V808.9V656.3V742.5V795.6V775.7V656.3V775.7V689.5V623.2V888.4V822.1V702.8V1080.7V861.9V895.1V769.1V808.9V543.6V669.6V411.0V603.3M1677.2 948.1V941.5V881.8V570.1V450.8V735.9V749.2V550.2V483.9V483.9V954.7V656.3V663.0V477.3V1021.1V848.6V656.3V570.1V643.1V802.2V629.8V722.7V735.9V1054.2V855.3V609.9V517.1V941.5V676.2V835.4V762.4V590.0V769.1V848.6V570.1V656.3V775.7V570.1V762.4V696.1V1166.9V616.6V583.4V623.2V590.0V934.9V848.6V517.1V643.1V954.7V755.8V802.2V769.1V861.9V702.8V722.7V709.4V921.6V709.4V609.9V669.6V722.7V822.1V682.9V623.2V1060.8V934.9V901.7V775.7V755.8V828.8V716.0V563.5V543.6M1685.8 775.7V1094.0V822.1V689.5V523.7V875.2V669.6V855.3V503.8V483.9V948.1V696.1V663.0V530.3V1001.2V696.1V636.4V530.3V576.8V689.5V616.6V643.1V709.4V1120.5V861.9V656.3V543.6V928.2V696.1V981.3V842.0V682.9V716.0V669.6V563.5V881.8V682.9V1279.7V782.3V570.1V1226.6V782.3V702.8V722.7V537.0V735.9V755.8V437.5V623.2V915.0V934.9V702.8V682.9V709.4V822.1V663.0V822.1V901.7V842.0V656.3V563.5V649.7V537.0V861.9V663.0V981.3V861.9V954.7V835.4V835.4V676.2V855.3V722.7V570.1M1694.4 716.0V822.1V789.0V596.7V669.6V948.1V663.0V934.9V550.2V377.8V954.7V735.9V616.6V629.8V921.6V934.9V789.0V550.2V696.1V537.0V649.7V550.2V629.8V623.2V1266.4V861.9V689.5V570.1V1027.7V749.2V762.4V702.8V934.9V742.5V676.2V669.6V550.2V835.4V656.3V1312.8V881.8V550.2V934.9V888.4V636.4V702.8V543.6V702.8V901.7V437.5V643.1V908.3V789.0V696.1V636.4V716.0V941.5V888.4V835.4V868.5V928.2V789.0V603.3V795.6V583.4V915.0V835.4V861.9V676.2V855.3V709.4V908.3V596.7V696.1M1703.0 789.0V921.6V842.0V603.3V769.1V742.5V1001.2V855.3V503.8V961.4V729.3V689.5V616.6V981.3V1034.3V842.0V616.6V663.0V470.7V537.0V689.5V808.9V742.5V901.7V689.5V629.8V490.6V1080.7V629.8V1021.1V735.9V808.9V570.1V861.9V563.5V722.7V868.5V629.8V1113.9V676.2V470.7V842.0V961.4V682.9V716.0V682.9V822.1V1286.3V543.6V636.4V702.8V908.3V537.0V477.3V762.4V968.0V888.4V934.9V762.4V848.6V789.0V643.1V742.5V629.8V868.5V1113.9V822.1V716.0V934.9V755.8V656.3V948.1V570.1V669.6M1711.6 749.2V1027.7V895.1V603.3V755.8V961.4V669.6V908.3V696.1V696.1V782.3V881.8V636.4V895.1V1080.7V868.5V629.8V808.9V583.4V576.8V643.1V603.3V636.4V908.3V755.8V563.5V663.0V1166.9V729.3V908.3V881.8V881.8V596.7V881.8V663.0V901.7V769.1V742.5V1226.6V928.2V517.1V696.1V981.3V669.6V629.8V603.3V682.9V974.6V716.0V537.0V789.0V895.1V497.2V676.2V709.4V848.6V875.2V676.2V868.5V1140.4V789.0V656.3V583.4V696.1V775.7V928.2V901.7V530.3V901.7V948.1V550.2V855.3V583.4V623.2M1720.2 828.8V875.2V855.3V669.6V954.7V1160.3V530.3V855.3V596.7V669.6V815.5V689.5V755.8V576.8V915.0V1246.5V808.9V609.9V755.8V477.3V636.4V735.9V782.3V656.3V987.9V722.7V762.4V749.2V702.8V822.1V643.1V815.5V735.9V881.8V663.0V676.2V556.9V875.2V1007.8V968.0V623.2V663.0V908.3V609.9V583.4V676.2V735.9V782.3V755.8V623.2V948.1V954.7V530.3V682.9V762.4V629.8V1034.3V596.7V835.4V961.4V789.0V656.3V742.5V596.7V762.4V861.9V908.3V716.0V881.8V928.2V530.3V802.2V1246.5V629.8V663.0M1728.8 888.4V908.3V762.4V623.2V974.6V1166.9V537.0V881.8V735.9V696.1V828.8V663.0V570.1V543.6V762.4V1180.2V895.1V643.1V789.0V537.0V729.3V775.7V861.9V742.5V921.6V649.7V795.6V755.8V1034.3V609.9V676.2V643.1V775.7V702.8V735.9V663.0V663.0V623.2V861.9V968.0V981.3V861.9V782.3V928.2V497.2V696.1V583.4V868.5V861.9V928.2V875.2V769.1V908.3V609.9V861.9V729.3V709.4V861.9V789.0V934.9V716.0V729.3V802.2V729.3V596.7V802.2V868.5V729.3V1001.2V901.7V430.9V755.8V1233.3V623.2V868.5M1737.4 888.4V954.7V669.6V802.2V1266.4V1021.1V550.2V881.8V636.4V895.1V855.3V596.7V550.2V596.7V968.0V1021.1V656.3V888.4V477.3V855.3V669.6V603.3V609.9V915.0V749.2V735.9V822.1V928.2V663.0V742.5V609.9V596.7V702.8V682.9V861.9V656.3V537.0V901.7V928.2V895.1V855.3V616.6V934.9V556.9V755.8V775.7V1054.2V921.6V908.3V822.1V861.9V822.1V735.9V881.8V868.5V769.1V934.9V928.2V888.4V888.4V716.0V729.3V735.9V795.6V570.1V974.6V663.0V729.3V928.2V822.1V550.2V908.3V1385.8V682.9V769.1M1746.0 782.3V815.5V663.0V663.0V1014.4V755.8V590.0V928.2V769.1V1007.8V934.9V590.0V556.9V749.2V1047.6V861.9V1180.2V629.8V815.5V490.6V941.5V709.4V570.1V629.8V968.0V616.6V689.5V543.6V968.0V649.7V669.6V709.4V649.7V749.2V722.7V915.0V616.6V663.0V835.4V1007.8V828.8V775.7V590.0V782.3V762.4V789.0V822.1V968.0V855.3V815.5V915.0V815.5V775.7V722.7V636.4V901.7V934.9V815.5V901.7V629.8V875.2V808.9V709.4V842.0V676.2V921.6V848.6V749.2V915.0V1007.8V537.0V775.7V1385.8V603.3V755.8M1754.6 636.4V921.6V742.5V769.1V921.6V556.9V477.3V835.4V775.7V994.5V1067.5V576.8V682.9V782.3V795.6V928.2V961.4V722.7V755.8V550.2V1014.4V808.9V676.2V888.4V915.0V689.5V828.8V663.0V842.0V550.2V735.9V682.9V749.2V802.2V636.4V948.1V663.0V808.9V928.2V861.9V762.4V789.0V537.0V908.3V842.0V888.4V855.3V888.4V616.6V762.4V861.9V676.2V729.3V663.0V861.9V629.8V636.4V842.0V676.2V742.5V775.7V636.4V716.0V835.4V749.2V1080.7V968.0V928.2V994.5V941.5V755.8V808.9V1299.6V497.2V888.4M1763.1 735.9V987.9V749.2V709.4V789.0V762.4V563.5V643.1V709.4V895.1V1193.5V550.2V689.5V762.4V755.8V881.8V755.8V789.0V590.0V1080.7V987.9V689.5V861.9V868.5V822.1V802.2V663.0V716.0V503.8V775.7V808.9V908.3V808.9V603.3V954.7V649.7V842.0V928.2V1007.8V895.1V676.2V789.0V1034.3V802.2V1034.3V576.8V861.9V901.7V676.2V735.9V789.0V815.5V928.2V596.7V948.1V563.5V656.3V968.0V769.1V948.1V868.5V649.7V543.6V795.6V828.8V1074.1V663.0V1160.3V822.1V1001.2V616.6V782.3V948.1V623.2V934.9M1771.7 742.5V716.0V828.8V716.0V795.6V590.0V477.3V689.5V649.7V842.0V1120.5V994.5V682.9V888.4V868.5V795.6V682.9V828.8V795.6V689.5V968.0V961.4V663.0V682.9V842.0V848.6V762.4V802.2V855.3V603.3V842.0V775.7V921.6V815.5V636.4V888.4V689.5V934.9V842.0V908.3V861.9V762.4V1054.2V835.4V749.2V1047.6V696.1V676.2V828.8V623.2V729.3V689.5V716.0V1259.8V590.0V915.0V629.8V749.2V881.8V954.7V848.6V609.9V623.2V815.5V895.1V1352.6V696.1V1027.7V689.5V789.0V609.9V729.3V868.5V696.1V842.0M1780.3 676.2V676.2V855.3V570.1V908.3V616.6V490.6V888.4V735.9V762.4V1339.4V968.0V517.1V915.0V928.2V875.2V802.2V729.3V822.1V583.4V1034.3V709.4V649.7V649.7V696.1V789.0V583.4V755.8V1060.8V735.9V702.8V908.3V961.4V881.8V590.0V921.6V795.6V769.1V974.6V981.3V948.1V822.1V1206.7V696.1V649.7V1087.4V643.1V1153.7V875.2V848.6V537.0V755.8V1147.1V709.4V961.4V629.8V649.7V735.9V928.2V941.5V974.6V656.3V616.6V749.2V895.1V1080.7V649.7V1047.6V762.4V868.5V563.5V915.0V689.5V842.0V749.2M1788.9 954.7V908.3V855.3V543.6V888.4V749.2V596.7V861.9V875.2V702.8V1186.8V1133.8V563.5V1027.7V987.9V941.5V908.3V848.6V1034.3V689.5V954.7V503.8V835.4V596.7V676.2V934.9V570.1V669.6V1113.9V689.5V729.3V915.0V1007.8V789.0V596.7V815.5V769.1V815.5V934.9V828.8V881.8V1080.7V583.4V775.7V908.3V755.8V901.7V954.7V888.4V669.6V537.0V716.0V961.4V855.3V1021.1V636.4V636.4V875.2V755.8V802.2V881.8V576.8V609.9V861.9V755.8V908.3V576.8V1060.8V636.4V1001.2V550.2V861.9V656.3V908.3V729.3M1797.5 868.5V934.9V795.6V815.5V609.9V689.5V523.7V901.7V1067.5V802.2V1074.1V1094.0V629.8V1074.1V1027.7V968.0V934.9V835.4V1273.1V722.7V1200.1V543.6V842.0V682.9V769.1V842.0V696.1V676.2V1014.4V590.0V934.9V915.0V915.0V676.2V669.6V1067.5V782.3V815.5V855.3V1014.4V908.3V782.3V974.6V789.0V974.6V921.6V676.2V769.1V1001.2V835.4V722.7V696.1V543.6V895.1V828.8V981.3V729.3V762.4V769.1V696.1V722.7V928.2V616.6V682.9V696.1V649.7V908.3V994.5V682.9V1027.7V682.9V815.5V762.4V974.6V762.4M1806.1 782.3V1067.5V1021.1V735.9V609.9V981.3V663.0V934.9V1226.6V888.4V908.3V1014.4V682.9V855.3V1054.2V1014.4V915.0V742.5V1385.8V596.7V861.9V563.5V716.0V656.3V915.0V782.3V749.2V941.5V974.6V603.3V848.6V968.0V974.6V828.8V682.9V1133.8V875.2V888.4V934.9V802.2V861.9V855.3V888.4V775.7V789.0V802.2V915.0V656.3V1027.7V948.1V795.6V842.0V623.2V1021.1V689.5V1034.3V769.1V735.9V749.2V928.2V868.5V842.0V636.4V649.7V775.7V616.6V921.6V649.7V1080.7V643.1V1001.2V855.3V629.8V1007.8V822.1M1814.7 636.4V881.8V1041.0V822.1V709.4V696.1V789.0V1034.3V1239.9V835.4V908.3V802.2V676.2V861.9V974.6V755.8V828.8V775.7V1306.2V643.1V968.0V636.4V749.2V1001.2V722.7V669.6V1007.8V762.4V570.1V974.6V1001.2V901.7V795.6V702.8V968.0V802.2V702.8V954.7V789.0V1021.1V908.3V981.3V682.9V835.4V941.5V815.5V735.9V974.6V676.2V848.6V802.2V663.0V968.0V696.1V1074.1V848.6V537.0V769.1V895.1V808.9V908.3V656.3V762.4V709.4V808.9V901.7V702.8V987.9V649.7V981.3V762.4V1034.3V808.9V961.4V822.1M1823.3 649.7V875.2V941.5V981.3V908.3V749.2V888.4V762.4V1074.1V729.3V941.5V901.7V616.6V1041.0V1113.9V961.4V769.1V868.5V1060.8V596.7V742.5V656.3V948.1V848.6V1392.4V861.9V749.2V782.3V669.6V755.8V981.3V954.7V735.9V682.9V948.1V769.1V895.1V875.2V729.3V1127.2V762.4V808.9V994.5V842.0V1153.7V855.3V961.4V702.8V636.4V696.1V702.8V729.3V954.7V729.3V1034.3V828.8V543.6V802.2V822.1V729.3V842.0V808.9V609.9V735.9V895.1V749.2V702.8V1180.2V822.1V961.4V828.8V1001.2V888.4V941.5V855.3M1831.9 722.7V808.9V716.0V822.1V961.4V636.4V636.4V934.9V1007.8V775.7V895.1V842.0V590.0V1014.4V1027.7V1147.1V895.1V775.7V1220.0V636.4V775.7V629.8V822.1V1021.1V802.2V789.0V861.9V749.2V895.1V868.5V1140.4V855.3V755.8V782.3V1014.4V735.9V1133.8V789.0V808.9V1021.1V921.6V835.4V1107.3V762.4V835.4V729.3V941.5V616.6V755.8V689.5V1027.7V802.2V775.7V835.4V1021.1V941.5V676.2V755.8V895.1V948.1V656.3V828.8V663.0V828.8V716.0V861.9V789.0V1273.1V901.7V616.6V1094.0V901.7V1021.1V915.0M1840.5 729.3V735.9V808.9V649.7V968.0V729.3V663.0V1007.8V576.8V815.5V755.8V629.8V941.5V1041.0V1133.8V789.0V828.8V987.9V603.3V842.0V643.1V1021.1V729.3V1007.8V934.9V808.9V908.3V881.8V775.7V1074.1V1173.6V1074.1V954.7V696.1V974.6V789.0V1001.2V848.6V775.7V954.7V1027.7V848.6V1113.9V881.8V848.6V861.9V881.8V954.7V735.9V1041.0V908.3V735.9V835.4V994.5V1014.4V729.3V987.9V815.5V994.5V702.8V881.8V735.9V749.2V663.0V915.0V676.2V1379.2V961.4V994.5V755.8V1107.3V1047.6V835.4V987.9M1849.1 682.9V974.6V729.3V709.4V974.6V835.4V815.5V1021.1V1074.1V623.2V822.1V802.2V570.1V888.4V795.6V1047.6V915.0V842.0V961.4V616.6V928.2V663.0V855.3V981.3V981.3V649.7V934.9V716.0V868.5V689.5V961.4V1239.9V1001.2V716.0V676.2V755.8V901.7V802.2V855.3V921.6V815.5V676.2V1074.1V1007.8V908.3V888.4V815.5V656.3V954.7V948.1V994.5V1054.2V934.9V941.5V941.5V1047.6V735.9V769.1V775.7V663.0V961.4V742.5V742.5V848.6V762.4V696.1V1094.0V895.1V822.1V682.9V1094.0V1200.1V855.3V815.5M1857.7 762.4V908.3V716.0V835.4V928.2V689.5V1067.5V1087.4V716.0V742.5V782.3V722.7V1041.0V1213.4V795.6V888.4V808.9V835.4V842.0V1041.0V822.1V861.9V1173.6V702.8V848.6V954.7V789.0V1041.0V835.4V1080.7V1007.8V729.3V762.4V855.3V848.6V875.2V775.7V994.5V875.2V649.7V1094.0V908.3V941.5V868.5V729.3V789.0V941.5V1007.8V1127.2V928.2V981.3V855.3V782.3V875.2V789.0V954.7V563.5V795.6V623.2V881.8V669.6V822.1V822.1V722.7V755.8V1206.7V822.1V795.6V576.8V881.8V1041.0V842.0V769.1M1866.3 948.1V987.9V855.3V616.6V974.6V782.3V749.2V1027.7V1100.6V895.1V1060.8V808.9V861.9V981.3V1140.4V1074.1V682.9V722.7V742.5V901.7V1047.6V1007.8V1001.2V875.2V1007.8V1034.3V762.4V941.5V974.6V1120.5V948.1V901.7V1041.0V643.1V663.0V987.9V1034.3V835.4V716.0V1047.6V815.5V835.4V1153.7V901.7V1034.3V908.3V742.5V881.8V775.7V789.0V1133.8V895.1V915.0V948.1V762.4V696.1V855.3V596.7V656.3V915.0V563.5V755.8V696.1V689.5V895.1V1246.5V974.6V656.3V556.9V875.2V954.7V709.4V954.7M1874.9 981.3V1021.1V901.7V603.3V994.5V835.4V808.9V987.9V908.3V908.3V789.0V755.8V835.4V954.7V1014.4V1080.7V789.0V881.8V1074.1V702.8V961.4V1094.0V1094.0V987.9V934.9V842.0V1054.2V855.3V875.2V961.4V1094.0V649.7V696.1V901.7V1279.7V901.7V1339.4V901.7V828.8V1127.2V689.5V1100.6V1021.1V676.2V735.9V828.8V881.8V994.5V755.8V636.4V974.6V828.8V795.6V735.9V915.0V669.6V716.0V861.9V1094.0V596.7V722.7V755.8V742.5V901.7V1127.2V861.9V881.8V696.1V921.6V855.3V616.6V1041.0M1883.4 1027.7V875.2V881.8V603.3V954.7V682.9V954.7V948.1V875.2V755.8V702.8V709.4V735.9V1100.6V1060.8V1452.1V822.1V789.0V994.5V729.3V868.5V1007.8V808.9V888.4V934.9V1253.2V981.3V948.1V848.6V1021.1V987.9V1021.1V808.9V1140.4V729.3V835.4V1332.7V954.7V537.0V1001.2V848.6V1140.4V775.7V1060.8V1034.3V682.9V789.0V888.4V954.7V934.9V762.4V855.3V848.6V789.0V928.2V543.6V908.3V1067.5V709.4V815.5V749.2V749.2V848.6V961.4V1027.7V835.4V755.8V968.0V749.2V537.0V1041.0M1892.0 1027.7V908.3V835.4V676.2V775.7V716.0V815.5V1047.6V994.5V815.5V735.9V795.6V676.2V1060.8V1279.7V1173.6V968.0V1074.1V835.4V749.2V981.3V828.8V928.2V981.3V1054.2V968.0V689.5V729.3V855.3V1080.7V808.9V928.2V689.5V1120.5V1147.1V1007.8V682.9V974.6V742.5V1186.8V795.6V1259.8V994.5V842.0V802.2V729.3V1153.7V974.6V789.0V789.0V968.0V954.7V702.8V828.8V815.5V517.1V828.8V934.9V921.6V682.9V795.6V1041.0V709.4V1047.6V1007.8V815.5V722.7V1060.8V868.5V656.3V1153.7M1900.6 1014.4V974.6V842.0V616.6V974.6V729.3V881.8V1060.8V789.0V749.2V722.7V682.9V815.5V1239.9V1087.4V1014.4V1014.4V908.3V888.4V669.6V1074.1V775.7V895.1V1067.5V815.5V629.8V881.8V1041.0V1007.8V1107.3V795.6V702.8V1133.8V1034.3V1021.1V1233.3V1292.9V915.0V895.1V1425.6V755.8V1405.7V868.5V928.2V901.7V716.0V1405.7V1001.2V921.6V928.2V1047.6V948.1V881.8V921.6V702.8V603.3V915.0V875.2V775.7V656.3V742.5V948.1V636.4V1041.0V802.2V901.7V656.3V1054.2V828.8V994.5V1034.3M1909.2 961.4V656.3V795.6V915.0V895.1V921.6V1034.3V981.3V1067.5V789.0V861.9V802.2V835.4V1100.6V808.9V1107.3V1133.8V742.5V855.3V716.0V1060.8V987.9V769.1V795.6V968.0V981.3V928.2V603.3V921.6V1080.7V1160.3V1007.8V875.2V1080.7V1166.9V1080.7V1292.9V676.2V1080.7V855.3V1392.4V689.5V948.1V802.2V769.1V822.1V1365.9V974.6V954.7V1127.2V1239.9V981.3V968.0V875.2V755.8V895.1V954.7V981.3V669.6V769.1V981.3V716.0V934.9V689.5V994.5V709.4V875.2V948.1V915.0V1014.4M1917.8 981.3V954.7V603.3V968.0V1041.0V1060.8V974.6V1067.5V1173.6V1113.9V808.9V808.9V987.9V1332.7V921.6V1160.3V649.7V915.0V775.7V1067.5V1087.4V696.1V921.6V1054.2V974.6V769.1V775.7V742.5V1140.4V1160.3V915.0V802.2V1312.8V987.9V1080.7V1007.8V729.3V987.9V1060.8V941.5V1140.4V762.4V1279.7V901.7V716.0V954.7V709.4V1113.9V868.5V954.7V1458.7V1359.3V848.6V835.4V735.9V968.0V782.3V1027.7V742.5V1007.8V629.8V1153.7V769.1V1080.7V716.0V855.3V835.4V1021.1V795.6V822.1M1926.4 961.4V1001.2V702.8V1047.6V1133.8V1027.7V1100.6V1094.0V1127.2V921.6V1041.0V901.7V735.9V1067.5V1054.2V696.1V888.4V1206.7V742.5V994.5V974.6V1074.1V1087.4V735.9V1007.8V954.7V656.3V769.1V1253.2V1233.3V1041.0V875.2V1220.0V1014.4V1094.0V901.7V749.2V1047.6V1160.3V1041.0V769.1V1067.5V961.4V981.3V570.1V1385.8V1100.6V1060.8V1067.5V1120.5V1193.5V1100.6V1041.0V663.0V875.2V842.0V1041.0V775.7V742.5V994.5V623.2V1107.3V795.6V1120.5V789.0V775.7V682.9V795.6V875.2V934.9M1935.0 775.7V842.0V822.1V822.1V1054.2V1074.1V1127.2V987.9V901.7V875.2V1173.6V974.6V782.3V822.1V742.5V868.5V1266.4V855.3V1001.2V1047.6V1166.9V1147.1V682.9V915.0V762.4V808.9V928.2V722.7V1147.1V1266.4V915.0V908.3V1253.2V1001.2V769.1V842.0V808.9V941.5V974.6V1007.8V775.7V848.6V921.6V1060.8V1054.2V948.1V643.1V1266.4V815.5V762.4V1007.8V1054.2V875.2V1041.0V961.4V842.0V901.7V1060.8V1007.8V895.1V1001.2V702.8V1113.9V1120.5V775.7V789.0V782.3V987.9V948.1V961.4M1943.6 981.3V921.6V901.7V1074.1V1074.1V1027.7V861.9V822.1V861.9V1087.4V868.5V888.4V987.9V789.0V1001.2V934.9V1080.7V868.5V1014.4V908.3V1299.6V1107.3V868.5V782.3V842.0V961.4V596.7V848.6V1034.3V1007.8V941.5V875.2V954.7V808.9V762.4V994.5V1001.2V1067.5V1047.6V775.7V915.0V961.4V1180.2V915.0V994.5V948.1V815.5V1014.4V1041.0V1153.7V835.4V1087.4V987.9V908.3V881.8V1001.2V1014.4V961.4V908.3V895.1V722.7V961.4V1060.8V1047.6V815.5V908.3V802.2V994.5V802.2V868.5M1952.2 901.7V1060.8V795.6V1120.5V1292.9V934.9V875.2V875.2V981.3V1021.1V789.0V1021.1V1080.7V1034.3V881.8V888.4V1027.7V1107.3V1027.7V928.2V1193.5V1127.2V1080.7V682.9V1120.5V895.1V861.9V596.7V1021.1V1014.4V1060.8V987.9V742.5V1259.8V755.8V888.4V1094.0V1127.2V1054.2V941.5V835.4V881.8V1107.3V1147.1V1087.4V1173.6V1133.8V895.1V868.5V1001.2V1014.4V1346.0V981.3V1060.8V948.1V1007.8V802.2V948.1V961.4V981.3V1147.1V855.3V1007.8V901.7V1206.7V941.5V1027.7V749.2V1001.2V769.1V861.9M1960.8 1107.3V822.1V1120.5V881.8V1206.7V1027.7V1021.1V888.4V808.9V881.8V1127.2V1100.6V1120.5V861.9V981.3V908.3V1273.1V1074.1V888.4V1392.4V1021.1V968.0V1074.1V1047.6V861.9V1120.5V987.9V530.3V981.3V981.3V1041.0V994.5V696.1V1067.5V828.8V742.5V1007.8V1100.6V875.2V1113.9V888.4V968.0V881.8V1166.9V782.3V1047.6V1054.2V722.7V1193.5V1007.8V1067.5V1147.1V1041.0V1259.8V901.7V981.3V901.7V1060.8V802.2V921.6V1034.3V1021.1V755.8V1094.0V1074.1V1054.2V855.3V861.9V901.7V908.3V822.1M1969.4 1239.9V742.5V1226.6V875.2V1067.5V888.4V1047.6V1100.6V974.6V775.7V1127.2V842.0V1173.6V954.7V782.3V1140.4V875.2V1140.4V1127.2V895.1V1080.7V954.7V775.7V994.5V1067.5V1120.5V1226.6V875.2V636.4V888.4V1153.7V974.6V1047.6V716.0V1007.8V782.3V789.0V1094.0V1147.1V981.3V1133.8V1054.2V842.0V802.2V775.7V1180.2V1120.5V908.3V1206.7V1080.7V769.1V1166.9V961.4V1127.2V789.0V848.6V888.4V835.4V1239.9V881.8V1021.1V928.2V974.6V981.3V1001.2V1021.1V1107.3V789.0V861.9V868.5V1100.6V915.0M1978.0 1279.7V895.1V1173.6V994.5V1186.8V974.6V915.0V941.5V941.5V855.3V855.3V1087.4V881.8V709.4V861.9V974.6V1027.7V1060.8V1067.5V961.4V987.9V981.3V842.0V795.6V1100.6V1213.4V1220.0V934.9V789.0V895.1V1094.0V981.3V1001.2V828.8V1074.1V775.7V828.8V1332.7V1200.1V1060.8V1120.5V1100.6V782.3V855.3V1160.3V669.6V1107.3V875.2V994.5V835.4V1133.8V842.0V1140.4V1060.8V875.2V828.8V1147.1V1021.1V1047.6V961.4V835.4V1001.2V941.5V822.1V908.3V1133.8V1027.7V775.7V994.5V1014.4V1094.0V815.5M1986.6 1226.6V1034.3V948.1V1041.0V1087.4V1007.8V1133.8V1100.6V961.4V762.4V987.9V1021.1V1113.9V795.6V828.8V1007.8V789.0V1087.4V1140.4V1147.1V908.3V1133.8V795.6V1153.7V1292.9V1173.6V948.1V636.4V968.0V1213.4V875.2V915.0V775.7V987.9V868.5V1080.7V1478.6V1160.3V1094.0V1021.1V1120.5V895.1V1200.1V716.0V1220.0V1120.5V961.4V1273.1V1094.0V775.7V1007.8V994.5V948.1V1021.1V828.8V722.7V1153.7V881.8V1200.1V1147.1V808.9V842.0V769.1V1160.3V782.3V861.9V1001.2V755.8V835.4V1007.8V1021.1V1094.0V861.9M1995.1 1246.5V921.6V782.3V961.4V1246.5V1107.3V1147.1V1067.5V987.9V842.0V948.1V1120.5V1120.5V749.2V1087.4V1127.2V908.3V623.2V921.6V1326.1V901.7V1147.1V928.2V968.0V1173.6V1166.9V1206.7V888.4V676.2V1034.3V1120.5V1180.2V789.0V981.3V755.8V1060.8V1233.3V1007.8V1080.7V1054.2V968.0V868.5V1087.4V828.8V1246.5V1233.3V881.8V1292.9V875.2V795.6V1047.6V987.9V855.3V1001.2V755.8V915.0V1080.7V855.3V968.0V1107.3V842.0V928.2V908.3V1120.5V782.3V729.3V921.6V742.5V908.3V895.1V1067.5V928.2V1047.6M2003.7 1299.6V934.9V842.0V835.4V1014.4V855.3V1100.6V1186.8V1080.7V855.3V1080.7V1193.5V1041.0V815.5V1113.9V981.3V895.1V709.4V1087.4V1054.2V1133.8V1001.2V1100.6V1060.8V1014.4V1200.1V1027.7V815.5V1286.3V1153.7V1007.8V888.4V948.1V1200.1V915.0V1087.4V1173.6V1160.3V974.6V802.2V1107.3V934.9V1027.7V1220.0V981.3V1233.3V1147.1V855.3V1365.9V855.3V915.0V1160.3V1047.6V888.4V1034.3V815.5V828.8V974.6V1021.1V1067.5V1213.4V815.5V954.7V1127.2V1200.1V722.7V1021.1V808.9V928.2V954.7V1021.1V881.8V981.3M2012.3 1299.6V934.9V842.0V722.7V974.6V895.1V1253.2V921.6V822.1V1060.8V1067.5V822.1V716.0V895.1V769.1V729.3V1001.2V1107.3V1113.9V1067.5V1153.7V974.6V881.8V1133.8V941.5V1166.9V762.4V941.5V1312.8V1034.3V1001.2V948.1V928.2V1193.5V1014.4V1186.8V1160.3V1107.3V1067.5V868.5V987.9V782.3V934.9V1286.3V954.7V1259.8V1087.4V1286.3V802.2V981.3V1094.0V1239.9V861.9V1041.0V822.1V875.2V948.1V961.4V1014.4V1153.7V789.0V954.7V1180.2V1186.8V775.7V835.4V1153.7V875.2V1113.9V1186.8V921.6V968.0V941.5M2020.9 1379.2V1054.2V921.6V895.1V974.6V1127.2V1147.1V808.9V901.7V1127.2V1180.2V901.7V875.2V1147.1V941.5V861.9V789.0V1001.2V1186.8V1220.0V1113.9V1127.2V921.6V941.5V981.3V1160.3V782.3V1007.8V1438.8V1266.4V915.0V908.3V1014.4V1233.3V901.7V1047.6V1027.7V1226.6V1107.3V1140.4V861.9V769.1V908.3V1140.4V782.3V1147.1V1080.7V1206.7V968.0V1001.2V1007.8V1166.9V789.0V1054.2V868.5V934.9V1021.1V901.7V968.0V1140.4V762.4V921.6V1133.8V1014.4V861.9V702.8V855.3V815.5V1027.7V961.4V1080.7V1060.8V941.5M2029.5 1266.4V908.3V868.5V855.3V981.3V1027.7V895.1V1067.5V782.3V974.6V1067.5V1113.9V961.4V934.9V1166.9V901.7V974.6V868.5V1253.2V1007.8V1339.4V1021.1V1253.2V908.3V861.9V888.4V1273.1V769.1V954.7V1365.9V1193.5V1107.3V1001.2V1186.8V901.7V994.5V1094.0V1140.4V1067.5V1153.7V981.3V775.7V828.8V1127.2V915.0V1180.2V1253.2V888.4V1021.1V1107.3V941.5V1060.8V888.4V1054.2V775.7V875.2V1273.1V742.5V921.6V1133.8V742.5V1074.1V968.0V948.1V934.9V689.5V968.0V802.2V1001.2V868.5V1113.9V1166.9V855.3M2038.1 1200.1V1034.3V921.6V934.9V1226.6V908.3V1021.1V1067.5V934.9V1094.0V1074.1V1173.6V968.0V888.4V1359.3V1153.7V928.2V1180.2V1186.8V1206.7V1087.4V1080.7V1372.5V1166.9V1080.7V961.4V908.3V1498.5V802.2V1385.8V1200.1V1034.3V1246.5V1021.1V1220.0V928.2V1153.7V968.0V1014.4V981.3V1100.6V762.4V901.7V1279.7V808.9V1054.2V1047.6V908.3V1027.7V875.2V1239.9V1120.5V1206.7V1007.8V941.5V835.4V842.0V1332.7V782.3V848.6V1166.9V868.5V1306.2V1113.9V1074.1V842.0V735.9V994.5V789.0V1014.4V1001.2V1060.8V968.0M2046.7 1253.2V1001.2V875.2V1027.7V1306.2V915.0V1233.3V1220.0V775.7V1153.7V895.1V1259.8V848.6V1186.8V1213.4V1047.6V1133.8V1200.1V1498.5V1233.3V954.7V1193.5V1200.1V1074.1V901.7V901.7V1511.8V1047.6V742.5V1213.4V1266.4V1074.1V1213.4V1352.6V1054.2V1047.6V1034.3V1087.4V1220.0V1034.3V808.9V928.2V961.4V789.0V968.0V1034.3V915.0V1120.5V895.1V1253.2V968.0V1312.8V1080.7V755.8V848.6V775.7V1107.3V762.4V954.7V1113.9V835.4V1047.6V1113.9V1226.6V828.8V895.1V1352.6V663.0V1113.9V1001.2V848.6V1346.0V1041.0M2055.3 1299.6V1001.2V808.9V915.0V1113.9V1273.1V1014.4V987.9V1160.3V1047.6V1147.1V868.5V1220.0V1180.2V1160.3V1292.9V1173.6V1186.8V1372.5V1279.7V921.6V1027.7V1153.7V1200.1V941.5V881.8V1246.5V1153.7V921.6V1120.5V1133.8V954.7V1080.7V1372.5V1027.7V1067.5V1246.5V1173.6V1140.4V1266.4V1153.7V941.5V729.3V1067.5V1067.5V868.5V861.9V1127.2V795.6V842.0V875.2V1213.4V1239.9V1034.3V901.7V921.6V1120.5V762.4V1226.6V994.5V815.5V1326.1V1332.7V888.4V961.4V1485.3V742.5V968.0V928.2V908.3V1153.7V1007.8M2063.9 1259.8V696.1V941.5V974.6V934.9V1306.2V1047.6V1087.4V1094.0V1060.8V987.9V1246.5V1186.8V1193.5V1233.3V1173.6V1279.7V1485.3V987.9V1173.6V1220.0V1140.4V901.7V974.6V1273.1V1067.5V868.5V1054.2V1027.7V835.4V1087.4V1346.0V1007.8V1094.0V1113.9V1186.8V1226.6V1127.2V1266.4V1021.1V822.1V1180.2V1014.4V921.6V1246.5V762.4V1100.6V749.2V1259.8V994.5V1186.8V1007.8V1034.3V762.4V915.0V1113.9V789.0V1226.6V981.3V948.1V1259.8V1246.5V1312.8V729.3V981.3V1273.1V802.2V981.3V868.5V1067.5V1007.8M2072.5 1226.6V1299.6V842.0V968.0V1007.8V928.2V1220.0V1054.2V1319.5V1120.5V1007.8V888.4V981.3V1100.6V1200.1V1100.6V1094.0V1259.8V974.6V981.3V1538.3V1074.1V1120.5V1332.7V1094.0V1186.8V1153.7V921.6V941.5V1133.8V1094.0V1007.8V954.7V1014.4V1120.5V1239.9V1273.1V1213.4V848.6V1186.8V1001.2V921.6V928.2V1160.3V775.7V1087.4V789.0V994.5V961.4V1166.9V861.9V1014.4V802.2V915.0V981.3V954.7V1120.5V954.7V861.9V1160.3V1206.7V1346.0V842.0V1014.4V1279.7V861.9V1226.6V1001.2V1140.4V915.0M2081.1 1193.5V1180.2V928.2V941.5V928.2V1193.5V1113.9V1147.1V1007.8V1080.7V948.1V1094.0V881.8V1299.6V1027.7V1041.0V1306.2V901.7V1200.1V1538.3V1140.4V1147.1V981.3V1505.1V1127.2V981.3V1173.6V1047.6V1113.9V1120.5V1034.3V1239.9V1147.1V1047.6V1140.4V1253.2V1299.6V1166.9V881.8V1107.3V1080.7V1001.2V1087.4V1067.5V875.2V1074.1V915.0V968.0V994.5V968.0V822.1V1060.8V1021.1V1001.2V981.3V1007.8V1067.5V1206.7V928.2V1127.2V1160.3V888.4V1067.5V1326.1V881.8V1206.7V1034.3V961.4V1001.2M2089.7 1239.9V1332.7V1140.4V961.4V1094.0V855.3V1153.7V1233.3V1206.7V981.3V1014.4V1080.7V1279.7V1087.4V1041.0V968.0V1312.8V1511.8V974.6V1220.0V1107.3V1087.4V908.3V1200.1V1047.6V1140.4V1160.3V968.0V1226.6V1226.6V1054.2V1120.5V1392.4V1173.6V987.9V1180.2V1140.4V1259.8V881.8V1100.6V1107.3V1166.9V1173.6V901.7V1173.6V1001.2V987.9V1021.1V1034.3V861.9V961.4V1047.6V1021.1V954.7V1021.1V1060.8V835.4V1166.9V1445.5V1173.6V729.3V1326.1V1365.9V895.1V1253.2V948.1V1153.7V1226.6V981.3M2098.3 1140.4V1306.2V1319.5V888.4V1120.5V1034.3V1107.3V1319.5V974.6V1100.6V1007.8V702.8V1147.1V1041.0V1266.4V1226.6V901.7V1319.5V1624.5V822.1V1166.9V1120.5V901.7V1279.7V868.5V1054.2V1100.6V1180.2V954.7V1180.2V1094.0V1286.3V1127.2V994.5V1080.7V1113.9V928.2V1153.7V987.9V1107.3V981.3V1100.6V1113.9V868.5V1120.5V928.2V1127.2V994.5V1054.2V941.5V1067.5V941.5V934.9V968.0V981.3V1100.6V908.3V1041.0V1339.4V1080.7V702.8V1226.6V1326.1V961.4V1200.1V1160.3V908.3V1120.5V987.9M2106.9 1107.3V1299.6V981.3V1041.0V1160.3V1067.5V1273.1V1021.1V1140.4V974.6V987.9V722.7V1133.8V1266.4V1001.2V1200.1V835.4V1458.7V1266.4V881.8V1226.6V974.6V1279.7V842.0V1239.9V928.2V1133.8V1054.2V928.2V1273.1V1266.4V1147.1V1054.2V1001.2V822.1V1273.1V1153.7V1041.0V1094.0V1021.1V1034.3V1239.9V968.0V941.5V1007.8V1173.6V1047.6V948.1V908.3V1080.7V1094.0V1021.1V895.1V915.0V934.9V1120.5V1021.1V961.4V1034.3V1226.6V1100.6V822.1V1239.9V1193.5V1034.3V1206.7V1273.1V1080.7V1120.5V968.0M2115.4 961.4V1392.4V1279.7V1007.8V1107.3V1186.8V1193.5V1206.7V908.3V1206.7V987.9V861.9V802.2V1206.7V1259.8V1186.8V1027.7V954.7V1027.7V1220.0V1133.8V981.3V1027.7V815.5V1193.5V901.7V1379.2V1133.8V1160.3V1080.7V1047.6V1027.7V1080.7V1180.2V961.4V961.4V1193.5V1087.4V1060.8V1113.9V1034.3V1133.8V1292.9V928.2V1047.6V994.5V1014.4V1067.5V1054.2V921.6V1299.6V1034.3V1226.6V808.9V1080.7V941.5V1273.1V861.9V928.2V1206.7V1060.8V1060.8V848.6V994.5V1326.1V1080.7V1087.4V1253.2V1326.1V1027.7M2124.0 1041.0V1246.5V1127.2V1027.7V974.6V855.3V1379.2V1166.9V901.7V1060.8V1133.8V835.4V1193.5V1060.8V1266.4V855.3V1127.2V974.6V1133.8V1113.9V1047.6V1133.8V1239.9V1253.2V981.3V1094.0V987.9V1220.0V1213.4V815.5V1226.6V1246.5V1014.4V954.7V1166.9V1133.8V1087.4V1233.3V1107.3V1067.5V1186.8V868.5V941.5V1001.2V994.5V981.3V1067.5V888.4V1047.6V1292.9V1133.8V1239.9V895.1V974.6V954.7V1160.3V775.7V842.0V948.1V1041.0V1140.4V895.1V921.6V1332.7V1107.3V974.6V1306.2V1153.7V1352.6V1213.4M2132.6 1133.8V1306.2V1299.6V908.3V1100.6V921.6V941.5V1173.6V1246.5V1140.4V1166.9V895.1V974.6V1365.9V1153.7V1279.7V835.4V1140.4V1054.2V1067.5V1273.1V981.3V1153.7V1226.6V1253.2V855.3V994.5V1001.2V1080.7V1213.4V901.7V1127.2V1160.3V1299.6V1239.9V1041.0V1094.0V888.4V1239.9V1034.3V1299.6V1007.8V1153.7V994.5V1094.0V1173.6V861.9V1220.0V1180.2V1173.6V1160.3V1107.3V1246.5V941.5V974.6V1113.9V1153.7V1060.8V828.8V1021.1V948.1V1180.2V1067.5V881.8V1332.7V1220.0V1034.3V1147.1V1259.8V948.1M2141.2 1047.6V1246.5V1206.7V934.9V1127.2V974.6V1001.2V1166.9V1292.9V994.5V1054.2V1186.8V828.8V954.7V1465.4V1292.9V1147.1V888.4V1213.4V1034.3V974.6V1153.7V994.5V1206.7V934.9V987.9V1266.4V1067.5V1372.5V908.3V968.0V1213.4V1279.7V1220.0V1200.1V987.9V1153.7V981.3V1120.5V1113.9V1133.8V1220.0V1379.2V1060.8V1100.6V948.1V1080.7V1153.7V1041.0V915.0V1246.5V1054.2V1153.7V1233.3V987.9V835.4V1153.7V1239.9V1080.7V981.3V1147.1V1001.2V1253.2V1200.1V895.1V1273.1V1054.2V921.6V1246.5V1239.9V1041.0M2149.8 842.0V1346.0V1266.4V968.0V928.2V1147.1V1186.8V1153.7V1014.4V1173.6V875.2V1067.5V1531.7V1385.8V1087.4V861.9V1060.8V928.2V1200.1V1041.0V1107.3V1259.8V1027.7V1067.5V1094.0V1246.5V1153.7V1418.9V901.7V1186.8V1385.8V1312.8V968.0V921.6V1140.4V987.9V1253.2V1014.4V1140.4V1074.1V1273.1V961.4V1220.0V1326.1V875.2V1027.7V1160.3V1034.3V1094.0V1193.5V1054.2V1206.7V1140.4V901.7V981.3V1299.6V1180.2V921.6V875.2V1220.0V961.4V1346.0V1186.8V981.3V1193.5V1326.1V901.7V948.1V1259.8V1140.4V941.5M2158.4 908.3V1133.8V968.0V861.9V908.3V1034.3V1259.8V1147.1V789.0V1213.4V1438.8V1107.3V1399.0V1279.7V1166.9V968.0V1266.4V941.5V948.1V835.4V1007.8V1233.3V1107.3V1160.3V1107.3V1067.5V1213.4V1306.2V954.7V1220.0V1405.7V1246.5V1332.7V1233.3V1001.2V1094.0V1014.4V1392.4V1034.3V1220.0V961.4V1239.9V948.1V1266.4V1365.9V1074.1V895.1V1034.3V921.6V954.7V961.4V1319.5V1292.9V1094.0V881.8V961.4V1253.2V1239.9V868.5V875.2V1027.7V954.7V1326.1V1220.0V1153.7V1220.0V948.1V868.5V1418.9V1047.6V961.4M2167.0 1087.4V1312.8V1180.2V941.5V987.9V795.6V1041.0V1147.1V1226.6V928.2V1279.7V1564.8V802.2V1140.4V1292.9V908.3V1054.2V915.0V1253.2V802.2V961.4V1306.2V1107.3V1047.6V1173.6V1034.3V1113.9V1432.2V1153.7V987.9V1332.7V1339.4V1326.1V1193.5V974.6V1133.8V1047.6V1346.0V981.3V1319.5V1140.4V1273.1V987.9V1153.7V1094.0V1226.6V835.4V1220.0V948.1V1160.3V1007.8V1266.4V994.5V1140.4V1041.0V961.4V1127.2V1253.2V822.1V1001.2V1094.0V1332.7V1120.5V1220.0V1094.0V1193.5V861.9V775.7V1379.2V974.6V1007.8M2175.6 961.4V1365.9V1233.3V1041.0V1113.9V895.1V1087.4V1193.5V1200.1V1326.1V1505.1V888.4V1213.4V1047.6V908.3V1074.1V1200.1V1160.3V954.7V1140.4V928.2V1100.6V1233.3V1047.6V861.9V1107.3V868.5V1067.5V1491.9V1014.4V1027.7V1173.6V1372.5V1233.3V1094.0V802.2V1027.7V1226.6V1226.6V895.1V1326.1V1060.8V1193.5V901.7V1120.5V1193.5V1193.5V815.5V1087.4V934.9V974.6V1133.8V934.9V1080.7V1094.0V921.6V1279.7V696.1V981.3V981.3V1220.0V1326.1V994.5V1021.1V1120.5V1186.8V815.5V968.0V1418.9V1041.0V941.5M2184.2 921.6V1332.7V1253.2V915.0V974.6V987.9V1326.1V1047.6V1346.0V1385.8V1564.8V1014.4V1213.4V1558.2V1014.4V722.7V1127.2V1306.2V1107.3V895.1V1186.8V1186.8V1166.9V1186.8V769.1V1107.3V1047.6V974.6V1312.8V1206.7V1206.7V1392.4V1332.7V1372.5V1007.8V855.3V1094.0V1094.0V1399.0V1001.2V1193.5V1060.8V1206.7V881.8V1140.4V1054.2V1292.9V915.0V915.0V888.4V941.5V968.0V1180.2V802.2V1273.1V1180.2V1113.9V1127.2V1246.5V1286.3V808.9V1100.6V1014.4V1153.7V861.9V1067.5V1127.2V775.7V1027.7V1332.7V921.6M2192.8 954.7V1405.7V1206.7V1153.7V1173.6V1007.8V1041.0V1259.8V1266.4V1233.3V1226.6V1491.9V1074.1V1213.4V1352.6V934.9V755.8V954.7V1166.9V1133.8V1173.6V1259.8V1034.3V835.4V855.3V1113.9V981.3V1226.6V1100.6V1253.2V1312.8V981.3V1226.6V888.4V1067.5V1014.4V1266.4V974.6V1206.7V1060.8V1113.9V948.1V1279.7V1027.7V1127.2V1067.5V1120.5V1014.4V934.9V1180.2V1246.5V881.8V1153.7V1213.4V1193.5V1200.1V1213.4V1346.0V775.7V1041.0V1060.8V1173.6V1193.5V861.9V1080.7V1120.5V729.3V1220.0V1186.8V1007.8V1206.7M2201.4 1027.7V1253.2V1273.1V968.0V954.7V1113.9V1299.6V1206.7V1273.1V1511.8V1180.2V1113.9V1379.2V1074.1V961.4V994.5V1392.4V1127.2V941.5V1047.6V1060.8V1166.9V1299.6V1173.6V861.9V968.0V1266.4V1166.9V1120.5V1100.6V1087.4V1239.9V1021.1V1306.2V954.7V948.1V934.9V1173.6V1120.5V1027.7V1067.5V1100.6V1041.0V1074.1V1292.9V994.5V1286.3V1021.1V1173.6V1007.8V815.5V1286.3V1233.3V835.4V1014.4V1186.8V1193.5V1120.5V1273.1V1478.6V769.1V1193.5V1239.9V1365.9V981.3V1153.7V1239.9V795.6V1246.5V1273.1V1173.6M2210.0 1047.6V1246.5V1153.7V1094.0V1213.4V1107.3V1027.7V1080.7V1193.5V1007.8V1292.9V1405.7V961.4V1233.3V1365.9V1193.5V1087.4V915.0V1319.5V1133.8V1027.7V994.5V1220.0V1346.0V1193.5V1352.6V1100.6V1326.1V915.0V994.5V1239.9V948.1V1220.0V954.7V1060.8V1060.8V1034.3V1094.0V934.9V1113.9V1173.6V895.1V1180.2V1133.8V1193.5V1067.5V1133.8V1120.5V848.6V1352.6V1054.2V815.5V994.5V1113.9V1074.1V1153.7V1120.5V1259.8V835.4V1213.4V1160.3V1319.5V1239.9V901.7V1087.4V1259.8V1166.9V815.5V1239.9V1339.4V1054.2M2218.6 1001.2V1127.2V1153.7V1352.6V1113.9V1094.0V1021.1V1014.4V1113.9V1027.7V1292.9V1166.9V994.5V1233.3V1147.1V1074.1V1239.9V1379.2V908.3V1107.3V888.4V1180.2V1253.2V1034.3V868.5V822.1V1286.3V1273.1V1120.5V901.7V1107.3V875.2V1173.6V1021.1V1113.9V1014.4V1200.1V1094.0V1080.7V1041.0V1133.8V1113.9V795.6V1147.1V1060.8V1173.6V981.3V1233.3V1120.5V948.1V1352.6V1041.0V815.5V1041.0V1047.6V1180.2V1193.5V1034.3V1193.5V928.2V1180.2V1531.7V1113.9V1014.4V1259.8V1213.4V941.5V1332.7V1352.6V895.1V1067.5M2227.2 1014.4V1060.8V1292.9V1299.6V1166.9V1041.0V1120.5V1332.7V1100.6V1286.3V1206.7V848.6V1286.3V1160.3V875.2V1412.3V1021.1V1120.5V1133.8V848.6V1021.1V1226.6V915.0V994.5V828.8V1153.7V1352.6V1385.8V1233.3V828.8V1107.3V861.9V1140.4V1173.6V1060.8V1127.2V1213.4V1173.6V1067.5V1007.8V1147.1V1233.3V875.2V1279.7V1206.7V981.3V1253.2V1160.3V928.2V1266.4V961.4V828.8V1133.8V1173.6V1193.5V1306.2V1060.8V1286.3V1339.4V1326.1V1365.9V1352.6V1054.2V1266.4V1213.4V1080.7V881.8V1452.1V1239.9V1034.3V1001.2M2235.7 1166.9V1120.5V1034.3V1107.3V1259.8V1100.6V1173.6V1266.4V1312.8V1147.1V1133.8V1359.3V828.8V994.5V1365.9V1153.7V1246.5V987.9V1544.9V1153.7V968.0V1107.3V961.4V987.9V1166.9V1067.5V1153.7V1319.5V1339.4V1213.4V888.4V1213.4V861.9V1365.9V1299.6V1133.8V1253.2V1332.7V1259.8V1180.2V1319.5V1246.5V1239.9V842.0V1153.7V1147.1V1041.0V1113.9V1067.5V1060.8V855.3V1166.9V1166.9V1160.3V1107.3V1200.1V1206.7V941.5V1405.7V1007.8V1312.8V1299.6V1166.9V1273.1V1306.2V1074.1V961.4V1299.6V1312.8V1041.0V968.0M2244.3 908.3V1279.7V1067.5V1107.3V1253.2V1200.1V994.5V1312.8V1319.5V1365.9V1299.6V848.6V1067.5V1372.5V1147.1V1186.8V1047.6V1491.9V1113.9V1160.3V1166.9V1074.1V1087.4V1034.3V1113.9V1060.8V1246.5V1094.0V1253.2V1306.2V1186.8V815.5V881.8V1306.2V1200.1V1027.7V1113.9V1551.6V1346.0V1173.6V1113.9V1266.4V941.5V1021.1V1140.4V1120.5V1173.6V1113.9V1113.9V789.0V1153.7V1080.7V1074.1V1120.5V1060.8V1273.1V1107.3V994.5V1259.8V1326.1V1074.1V1273.1V1306.2V1094.0V1193.5V1319.5V1133.8V1399.0V1458.7V1127.2V1041.0M2252.9 1014.4V994.5V941.5V1041.0V1286.3V1001.2V1054.2V1200.1V1359.3V1113.9V901.7V901.7V1213.4V1226.6V1253.2V1246.5V1445.5V1153.7V1292.9V1094.0V1041.0V1226.6V1160.3V1193.5V1047.6V1021.1V1120.5V1127.2V1326.1V1312.8V875.2V1259.8V915.0V1352.6V1054.2V1027.7V948.1V1359.3V1339.4V1001.2V1080.7V1140.4V915.0V934.9V1074.1V1292.9V1253.2V1206.7V1213.4V875.2V1074.1V1226.6V941.5V1140.4V987.9V1193.5V1041.0V1220.0V861.9V1166.9V1206.7V1100.6V1306.2V974.6V961.4V1412.3V1054.2V1452.1V1246.5V1213.4V1087.4M2261.5 875.2V1127.2V928.2V1133.8V1312.8V987.9V1107.3V1273.1V1312.8V1147.1V1312.8V1074.1V1120.5V948.1V1067.5V1253.2V1180.2V1312.8V1087.4V1399.0V1060.8V1166.9V1021.1V1365.9V1186.8V1041.0V881.8V1180.2V1206.7V1485.3V1120.5V881.8V1246.5V868.5V1292.9V1080.7V1067.5V921.6V1425.6V1186.8V1021.1V1186.8V1206.7V1067.5V1034.3V1027.7V1067.5V1279.7V1107.3V1094.0V1060.8V1094.0V1133.8V981.3V1273.1V941.5V1306.2V1206.7V1166.9V948.1V1233.3V1339.4V974.6V1193.5V1127.2V1041.0V1491.9V974.6V1445.5V1359.3V1067.5M2270.1 1021.1V1153.7V1186.8V1127.2V1332.7V1060.8V1226.6V1312.8V1200.1V1166.9V1312.8V961.4V1193.5V888.4V1220.0V1266.4V1273.1V1246.5V1385.8V1186.8V868.5V1074.1V1166.9V1193.5V915.0V842.0V1326.1V1306.2V1498.5V1054.2V1113.9V1206.7V968.0V1266.4V1080.7V954.7V1007.8V1379.2V1233.3V1186.8V1120.5V1054.2V1041.0V1094.0V1306.2V1041.0V1107.3V968.0V1200.1V994.5V1239.9V928.2V1100.6V1180.2V1160.3V1405.7V1352.6V1332.7V1100.6V1292.9V1279.7V948.1V1041.0V1226.6V1067.5V1564.8V1001.2V1465.4V1319.5V1054.2V961.4M2278.7 1100.6V1001.2V1180.2V1133.8V1200.1V1239.9V1319.5V1147.1V1153.7V1193.5V1200.1V1047.6V928.2V1246.5V1319.5V1180.2V1465.4V1346.0V1233.3V941.5V1153.7V1074.1V1332.7V1060.8V954.7V808.9V1346.0V1306.2V1372.5V1266.4V1080.7V1372.5V974.6V1166.9V987.9V1113.9V1472.0V1346.0V1100.6V1352.6V1319.5V1153.7V1054.2V1014.4V1120.5V1253.2V1259.8V1100.6V994.5V1372.5V1153.7V921.6V961.4V1193.5V1007.8V1299.6V1259.8V1220.0V994.5V1074.1V1359.3V842.0V948.1V1140.4V1047.6V1067.5V954.7V1412.3V1273.1V1326.1V974.6M2287.3 1166.9V1140.4V1180.2V1047.6V974.6V934.9V968.0V1312.8V1200.1V1127.2V1014.4V1087.4V1160.3V842.0V1107.3V1332.7V1339.4V1080.7V1511.8V1379.2V1200.1V1113.9V974.6V961.4V1220.0V1014.4V1113.9V968.0V1418.9V1027.7V1319.5V1359.3V1200.1V1372.5V1120.5V1220.0V895.1V895.1V1319.5V1014.4V1319.5V1299.6V1273.1V1140.4V961.4V921.6V1100.6V1140.4V1372.5V1060.8V1432.2V1127.2V948.1V974.6V1133.8V1054.2V1074.1V1147.1V1173.6V934.9V1273.1V901.7V1080.7V1319.5V1094.0V1253.2V1120.5V1438.8V1153.7V1339.4V961.4M2295.9 1200.1V1306.2V1286.3V1279.7V1001.2V1087.4V1273.1V1133.8V1279.7V1160.3V1180.2V1180.2V881.8V908.3V1465.4V1213.4V1372.5V1379.2V1352.6V1014.4V1041.0V1074.1V1226.6V1153.7V961.4V1332.7V1067.5V1041.0V1253.2V1186.8V1133.8V1067.5V1027.7V928.2V961.4V1438.8V1186.8V1266.4V1246.5V1339.4V1286.3V1226.6V1259.8V987.9V1007.8V1060.8V1021.1V1147.1V1067.5V1319.5V1107.3V915.0V1113.9V1021.1V1047.6V921.6V1326.1V981.3V1001.2V1100.6V974.6V974.6V1385.8V994.5V1352.6V1525.0V1173.6V1346.0V1186.8V1067.5V994.5M2304.5 1273.1V1292.9V1253.2V1206.7V895.1V1041.0V895.1V1206.7V1432.2V1047.6V1001.2V888.4V921.6V1299.6V1286.3V1140.4V1346.0V1365.9V1332.7V1094.0V974.6V1226.6V1173.6V1226.6V1014.4V1180.2V1346.0V974.6V1306.2V1014.4V1213.4V1067.5V1332.7V954.7V1014.4V1452.1V1047.6V1365.9V1107.3V1385.8V1173.6V1259.8V1266.4V1014.4V855.3V1359.3V1113.9V1087.4V1074.1V1206.7V1054.2V1007.8V1206.7V1193.5V1027.7V908.3V1253.2V868.5V1001.2V1107.3V1239.9V1034.3V1326.1V1113.9V1186.8V1385.8V1359.3V1339.4V1074.1V968.0V1027.7M2313.1 1312.8V1200.1V1253.2V1001.2V1233.3V875.2V1246.5V1021.1V1392.4V1180.2V1027.7V901.7V901.7V1273.1V1133.8V1054.2V1385.8V1312.8V1233.3V1087.4V994.5V968.0V1193.5V1054.2V1259.8V1279.7V1047.6V1432.2V1220.0V1140.4V974.6V1292.9V1080.7V968.0V1346.0V1007.8V1266.4V1220.0V1312.8V1133.8V1339.4V1213.4V928.2V954.7V1399.0V1160.3V961.4V1379.2V934.9V1220.0V1352.6V1087.4V1153.7V1292.9V1173.6V1094.0V1226.6V769.1V961.4V1233.3V1259.8V1133.8V1312.8V1054.2V1200.1V1299.6V1617.9V1140.4V1180.2V968.0V1113.9M2321.7 1279.7V1220.0V1186.8V1239.9V934.9V1080.7V968.0V1200.1V1074.1V1292.9V1206.7V881.8V875.2V1060.8V1060.8V1140.4V1438.8V1418.9V1438.8V1266.4V1220.0V1259.8V1021.1V1259.8V1041.0V1113.9V1153.7V987.9V1346.0V1266.4V1041.0V1094.0V928.2V1140.4V994.5V1266.4V1047.6V1127.2V1153.7V1213.4V1259.8V1147.1V934.9V1001.2V1233.3V1060.8V928.2V1372.5V1041.0V1273.1V1319.5V1200.1V1067.5V1438.8V1365.9V1259.8V1087.4V1173.6V1007.8V1041.0V1259.8V1233.3V1074.1V1213.4V1147.1V1200.1V1405.7V1140.4V1213.4V981.3V1153.7M2330.3 1292.9V1438.8V1094.0V881.8V1213.4V908.3V1220.0V1113.9V968.0V1292.9V1080.7V968.0V868.5V1253.2V1007.8V987.9V1339.4V1399.0V1107.3V1127.2V941.5V1253.2V1054.2V1074.1V1186.8V1359.3V1094.0V1067.5V1306.2V1080.7V1147.1V987.9V1233.3V1259.8V1054.2V1186.8V835.4V1253.2V1087.4V1180.2V1153.7V1319.5V1133.8V1127.2V1140.4V934.9V1226.6V1001.2V1021.1V1140.4V1087.4V1074.1V1226.6V1239.9V1041.0V1253.2V1034.3V802.2V1001.2V1047.6V1339.4V1332.7V1060.8V1153.7V1147.1V1054.2V1226.6V1034.3V1239.9V961.4V1193.5M2338.9 1379.2V1418.9V1193.5V981.3V1346.0V915.0V1127.2V1067.5V1140.4V1166.9V1060.8V928.2V974.6V1107.3V1021.1V1133.8V1326.1V1246.5V1259.8V948.1V1027.7V1346.0V1133.8V1273.1V1292.9V1319.5V1047.6V1140.4V1266.4V1074.1V1346.0V1034.3V1153.7V1200.1V1153.7V1060.8V1186.8V1465.4V1027.7V1399.0V1485.3V1213.4V1147.1V1034.3V1074.1V1007.8V1060.8V1007.8V948.1V1060.8V1200.1V1074.1V1054.2V1246.5V1100.6V1292.9V1286.3V1067.5V861.9V1080.7V1067.5V1359.3V1021.1V1292.9V1047.6V1060.8V1226.6V1054.2V1166.9V954.7V1213.4M2347.5 1259.8V1299.6V1067.5V1173.6V1173.6V861.9V1034.3V1180.2V1107.3V1233.3V1206.7V928.2V921.6V1100.6V1133.8V987.9V1259.8V1292.9V1273.1V1120.5V981.3V1133.8V1312.8V1133.8V1312.8V1087.4V1067.5V1173.6V1346.0V1186.8V1359.3V1014.4V981.3V1067.5V1379.2V961.4V1286.3V1034.3V1452.1V1027.7V1166.9V1458.7V1525.0V915.0V1041.0V1127.2V1014.4V987.9V908.3V1140.4V1273.1V1107.3V1100.6V1279.7V1094.0V1186.8V1239.9V1147.1V908.3V921.6V1087.4V1001.2V1418.9V1127.2V1054.2V1080.7V1067.5V1186.8V1213.4V1094.0V1027.7M2356.0 1133.8V1226.6V1332.7V1220.0V1312.8V1173.6V968.0V1239.9V1206.7V1080.7V1339.4V1041.0V1054.2V954.7V1127.2V1041.0V1113.9V1001.2V1120.5V1306.2V1113.9V1127.2V1094.0V1332.7V1253.2V968.0V1127.2V1140.4V1279.7V1412.3V968.0V934.9V934.9V1292.9V1087.4V1312.8V974.6V1306.2V1233.3V1412.3V1438.8V1047.6V1226.6V868.5V961.4V1140.4V1007.8V1147.1V1021.1V1239.9V1306.2V1074.1V1094.0V1412.3V1054.2V1127.2V1279.7V875.2V901.7V1054.2V1041.0V1498.5V1074.1V1153.7V994.5V974.6V1412.3V1392.4V1173.6V861.9V1060.8M2364.6 1220.0V1054.2V1166.9V1127.2V1319.5V901.7V1465.4V1120.5V1047.6V1266.4V1094.0V1067.5V961.4V1007.8V1133.8V1253.2V921.6V1166.9V1286.3V1021.1V1041.0V1399.0V1253.2V1220.0V1213.4V1438.8V1206.7V1087.4V1107.3V1067.5V1266.4V1438.8V961.4V881.8V888.4V1472.0V1147.1V1365.9V974.6V1359.3V1027.7V961.4V1339.4V1279.7V1127.2V901.7V1113.9V1001.2V1200.1V961.4V1312.8V1352.6V1365.9V1054.2V1220.0V1100.6V1365.9V1220.0V1021.1V961.4V948.1V1007.8V1147.1V1220.0V1200.1V928.2V1498.5V1326.1V1326.1V1087.4V1180.2M2373.2 1113.9V1193.5V1220.0V1153.7V1160.3V1160.3V915.0V1372.5V1133.8V961.4V1027.7V1014.4V1127.2V1100.6V1160.3V1259.8V1047.6V1094.0V1286.3V1140.4V974.6V1379.2V1147.1V1160.3V1107.3V1041.0V1292.9V1094.0V1292.9V1332.7V868.5V855.3V908.3V1359.3V1054.2V1372.5V842.0V1286.3V1060.8V1299.6V1226.6V1319.5V1220.0V981.3V1140.4V1339.4V1007.8V1259.8V1193.5V1147.1V1372.5V1292.9V1127.2V1060.8V1147.1V1239.9V1193.5V1007.8V861.9V908.3V1060.8V1365.9V1127.2V1306.2V1239.9V954.7V1498.5V1306.2V1273.1V1100.6V1113.9M2381.8 1206.7V1372.5V1505.1V1213.4V1166.9V908.3V1346.0V1027.7V1087.4V1259.8V1021.1V1001.2V948.1V1173.6V1273.1V1054.2V1054.2V1233.3V1120.5V1094.0V1458.7V1392.4V1021.1V1193.5V1007.8V1067.5V934.9V1206.7V1180.2V1213.4V1332.7V968.0V875.2V901.7V1372.5V1246.5V1246.5V1034.3V1306.2V1432.2V915.0V1332.7V1220.0V1266.4V1279.7V987.9V1133.8V1007.8V1180.2V1273.1V1067.5V1220.0V1279.7V1266.4V1220.0V1239.9V1166.9V1034.3V1067.5V981.3V961.4V915.0V1299.6V1432.2V1339.4V908.3V1312.8V1087.4V1233.3V1259.8V1113.9M2390.4 961.4V1266.4V1399.0V1094.0V1253.2V1074.1V1034.3V1352.6V1060.8V1100.6V1080.7V1054.2V1239.9V994.5V1352.6V1014.4V1027.7V1193.5V1027.7V1041.0V1166.9V1286.3V968.0V1339.4V1127.2V1074.1V928.2V1060.8V1259.8V1140.4V1193.5V1080.7V994.5V1273.1V1087.4V1299.6V941.5V1485.3V1425.6V1312.8V1147.1V1359.3V1094.0V1054.2V1166.9V1200.1V1133.8V1253.2V1445.5V1060.8V1127.2V1312.8V1279.7V1292.9V1326.1V1286.3V941.5V1001.2V1054.2V961.4V1326.1V1259.8V1054.2V1133.8V1279.7V901.7V1273.1V1127.2V1186.8V1339.4V987.9M2399.0 968.0V1127.2V1399.0V1339.4V1140.4V1186.8V941.5V1213.4V1166.9V1186.8V1001.2V994.5V1153.7V1074.1V1021.1V1425.6V1047.6V1140.4V1160.3V941.5V1233.3V875.2V1060.8V1014.4V1034.3V994.5V934.9V1021.1V1273.1V1067.5V1200.1V835.4V1206.7V1127.2V1186.8V1173.6V941.5V1279.7V1286.3V908.3V1213.4V1319.5V1266.4V1286.3V1080.7V1140.4V1352.6V1160.3V1200.1V1239.9V1060.8V1027.7V1213.4V1120.5V1173.6V1472.0V934.9V1060.8V974.6V921.6V968.0V1253.2V1120.5V1153.7V1186.8V994.5V1127.2V1021.1V1087.4V1266.4V1113.9M2407.6 881.8V1405.7V1332.7V1113.9V1087.4V968.0V1067.5V1233.3V1226.6V1213.4V1060.8V1087.4V954.7V921.6V1339.4V948.1V1113.9V1253.2V1173.6V1193.5V928.2V1100.6V1107.3V1372.5V981.3V1074.1V1001.2V1412.3V1094.0V1133.8V1140.4V934.9V1319.5V1147.1V1186.8V1259.8V1034.3V1166.9V1292.9V855.3V1213.4V1306.2V1339.4V1034.3V1014.4V1359.3V1246.5V1266.4V1246.5V1074.1V1160.3V987.9V1007.8V1027.7V1279.7V1346.0V994.5V968.0V921.6V1067.5V1226.6V1173.6V1047.6V1087.4V1359.3V901.7V1047.6V948.1V1292.9V1133.8V1113.9M2416.2 795.6V1365.9V1312.8V1239.9V1140.4V1021.1V915.0V1220.0V1239.9V1239.9V1220.0V1060.8V1133.8V895.1V868.5V1359.3V1007.8V1306.2V1239.9V1299.6V1299.6V835.4V1200.1V1259.8V987.9V1253.2V828.8V1047.6V1120.5V1399.0V1312.8V1107.3V1147.1V1326.1V1273.1V1127.2V1306.2V1213.4V1326.1V1034.3V1299.6V1266.4V1326.1V1226.6V1007.8V1034.3V1080.7V994.5V1319.5V1153.7V1094.0V1133.8V1074.1V961.4V1346.0V1412.3V1160.3V901.7V861.9V1140.4V1233.3V1067.5V895.1V1220.0V1332.7V895.1V881.8V948.1V1346.0V1014.4V1067.5M2424.8 808.9V1266.4V1047.6V987.9V1034.3V1021.1V1107.3V1153.7V1047.6V888.4V1206.7V928.2V994.5V1326.1V1186.8V1365.9V1239.9V1266.4V1206.7V908.3V1220.0V1259.8V1246.5V848.6V948.1V1014.4V934.9V1432.2V1412.3V1041.0V1027.7V1074.1V1292.9V1206.7V1193.5V1173.6V981.3V1107.3V1021.1V1332.7V1259.8V1120.5V1120.5V1147.1V1220.0V1054.2V1034.3V1186.8V1160.3V1113.9V1200.1V1113.9V941.5V987.9V1213.4V1047.6V1180.2V895.1V1021.1V1180.2V1047.6V1087.4V789.0V1220.0V1531.7V994.5V987.9V1399.0V1107.3V1034.3M2433.4 954.7V1147.1V1041.0V895.1V1213.4V1127.2V1087.4V934.9V1074.1V1153.7V1094.0V895.1V1412.3V974.6V961.4V1286.3V1200.1V1292.9V1286.3V1153.7V1001.2V941.5V1239.9V1392.4V1233.3V1180.2V861.9V954.7V987.9V987.9V1412.3V1485.3V968.0V1220.0V1021.1V1279.7V1147.1V1153.7V1186.8V1113.9V1054.2V1253.2V1226.6V1246.5V1080.7V1160.3V1239.9V1140.4V1047.6V1279.7V974.6V1332.7V1213.4V1094.0V1080.7V1359.3V1233.3V1027.7V1127.2V895.1V1107.3V1160.3V1259.8V868.5V954.7V1021.1V1047.6V1365.9V968.0V1220.0M2442.0 974.6V1087.4V934.9V1253.2V1213.4V1120.5V974.6V1034.3V948.1V1120.5V921.6V1239.9V888.4V948.1V1133.8V1140.4V1372.5V1259.8V1213.4V1021.1V974.6V1153.7V1518.4V1365.9V1213.4V888.4V1133.8V1220.0V1173.6V1346.0V1273.1V974.6V1233.3V1133.8V1299.6V1233.3V1140.4V1259.8V1352.6V1107.3V1359.3V1385.8V1200.1V1080.7V1253.2V954.7V934.9V1266.4V1253.2V1286.3V1193.5V948.1V981.3V1166.9V1273.1V1060.8V868.5V1067.5V1074.1V1166.9V1253.2V981.3V1186.8V1445.5V808.9V1140.4V1021.1V1359.3V1001.2V1239.9M2450.6 1166.9V1094.0V875.2V1346.0V1160.3V1094.0V921.6V1140.4V1166.9V1034.3V1021.1V1087.4V1060.8V1273.1V1392.4V1054.2V1007.8V1021.1V921.6V1472.0V1306.2V1153.7V961.4V1074.1V1173.6V1253.2V1379.2V1379.2V928.2V1060.8V1060.8V1359.3V1306.2V1140.4V1200.1V1286.3V1392.4V1153.7V1312.8V1160.3V1160.3V1173.6V1080.7V1233.3V1286.3V908.3V1041.0V1094.0V1047.6V1292.9V1213.4V1100.6V828.8V1047.6V1326.1V1246.5V1060.8V861.9V1120.5V1206.7V1239.9V1326.1V1133.8V1180.2V1392.4V1306.2V1279.7V1405.7V921.6V1213.4M2459.2 981.3V1100.6V895.1V1306.2V1107.3V1166.9V1253.2V908.3V987.9V1379.2V1259.8V987.9V1021.1V1047.6V1246.5V1319.5V1392.4V1120.5V1080.7V974.6V1107.3V1379.2V1418.9V1193.5V1047.6V1220.0V1180.2V1233.3V1472.0V1412.3V1074.1V948.1V1060.8V1166.9V1246.5V1133.8V1273.1V1346.0V1253.2V1259.8V994.5V1326.1V1047.6V1299.6V1186.8V855.3V1021.1V1067.5V1239.9V1246.5V1094.0V828.8V1253.2V1266.4V1074.1V921.6V1140.4V915.0V1047.6V1021.1V1292.9V1074.1V1074.1V1279.7V789.0V1332.7V1140.4V1100.6V1074.1V1173.6M2467.8 1127.2V974.6V1087.4V928.2V1372.5V1080.7V1127.2V1107.3V987.9V1087.4V921.6V1306.2V1120.5V1067.5V1273.1V1326.1V974.6V1173.6V921.6V1166.9V1372.5V1339.4V1193.5V915.0V1200.1V1166.9V1213.4V1418.9V1399.0V1113.9V1120.5V1094.0V1186.8V981.3V1147.1V1127.2V1405.7V1279.7V1226.6V888.4V1160.3V1060.8V1246.5V1067.5V755.8V1021.1V1074.1V1054.2V1007.8V1041.0V842.0V1074.1V1379.2V1034.3V954.7V1074.1V881.8V1034.3V1326.1V1166.9V1259.8V987.9V1206.7V1286.3V828.8V1200.1V1286.3V1087.4V1014.4V1041.0M2476.3 1166.9V1007.8V1107.3V941.5V1253.2V1127.2V1014.4V1007.8V968.0V1047.6V974.6V1246.5V1326.1V1160.3V1021.1V1087.4V1399.0V928.2V928.2V1067.5V1180.2V1220.0V1339.4V1140.4V868.5V1286.3V1021.1V1306.2V1140.4V968.0V1206.7V987.9V1060.8V1087.4V1399.0V1160.3V1239.9V1299.6V1140.4V1213.4V941.5V1226.6V1319.5V987.9V1153.7V1173.6V802.2V1173.6V968.0V915.0V1094.0V921.6V1021.1V868.5V1001.2V1253.2V994.5V895.1V1166.9V994.5V1147.1V1326.1V1166.9V1193.5V855.3V1060.8V1186.8V1140.4V1060.8V1127.2M2484.9 1100.6V928.2V1233.3V1067.5V1392.4V1041.0V1047.6V1220.0V1140.4V1193.5V1007.8V1339.4V1147.1V1220.0V888.4V1021.1V1180.2V1491.9V1094.0V848.6V1206.7V1027.7V1259.8V1067.5V881.8V1306.2V994.5V1014.4V1365.9V1067.5V948.1V1233.3V1014.4V954.7V1014.4V1286.3V948.1V1306.2V1372.5V1001.2V1279.7V1074.1V1147.1V1352.6V1319.5V1273.1V968.0V1286.3V1127.2V1153.7V934.9V1080.7V828.8V901.7V888.4V928.2V1253.2V842.0V974.6V1233.3V1041.0V1173.6V855.3V1220.0V1127.2V1021.1V1233.3V1352.6V1166.9V848.6M2493.5 1246.5V987.9V1233.3V1266.4V1339.4V1253.2V1153.7V1113.9V934.9V1319.5V1147.1V1273.1V861.9V974.6V1007.8V1266.4V1465.4V1339.4V974.6V1041.0V1166.9V1379.2V1014.4V1186.8V1001.2V1193.5V1107.3V1352.6V961.4V1074.1V981.3V1021.1V895.1V1273.1V868.5V1365.9V921.6V974.6V1041.0V1120.5V895.1V1379.2V1147.1V828.8V1319.5V1140.4V915.0V1166.9V954.7V1312.8V828.8V861.9V1292.9V1074.1V948.1V1047.6V782.3V769.1V1001.2V994.5V1253.2V888.4V1153.7V1286.3V1266.4V1286.3V1173.6V1166.9V901.7M2502.1 1279.7V1021.1V1133.8V1021.1V1080.7V1160.3V921.6V974.6V1259.8V1041.0V1047.6V915.0V1133.8V921.6V1306.2V1379.2V1206.7V948.1V941.5V1133.8V1292.9V1060.8V1259.8V868.5V1080.7V1147.1V954.7V948.1V1060.8V1113.9V994.5V1186.8V1286.3V881.8V1359.3V1432.2V1094.0V1233.3V948.1V1001.2V1259.8V1253.2V1166.9V855.3V1213.4V1200.1V948.1V1239.9V1067.5V1213.4V948.1V861.9V1385.8V994.5V888.4V802.2V795.6V1001.2V1226.6V1213.4V987.9V1306.2V1213.4V1180.2V1160.3V1332.7V1206.7V1279.7V861.9M2510.7 961.4V1246.5V968.0V1027.7V1107.3V1133.8V1087.4V954.7V1054.2V1054.2V1319.5V875.2V1147.1V954.7V1133.8V968.0V1166.9V1379.2V1206.7V934.9V1133.8V1200.1V1273.1V808.9V1127.2V1259.8V1060.8V1001.2V1087.4V888.4V1107.3V948.1V968.0V1286.3V1326.1V835.4V1399.0V1266.4V1087.4V1140.4V1259.8V1113.9V808.9V1153.7V1067.5V974.6V1180.2V1352.6V1107.3V1133.8V1233.3V1286.3V1074.1V994.5V1107.3V1087.4V815.5V901.7V888.4V1465.4V1113.9V987.9V1239.9V1206.7V1253.2V1273.1V1133.8V1213.4V881.8M2519.3 1127.2V1107.3V941.5V1233.3V1120.5V1041.0V974.6V1253.2V1027.7V895.1V1007.8V1286.3V987.9V1074.1V915.0V1027.7V1140.4V1485.3V1312.8V1014.4V1180.2V1220.0V1200.1V915.0V1107.3V1014.4V1279.7V1080.7V1087.4V1100.6V994.5V802.2V1067.5V968.0V1080.7V1286.3V1372.5V895.1V1186.8V1127.2V1107.3V1273.1V1213.4V1047.6V808.9V1113.9V1200.1V1253.2V1060.8V1166.9V1326.1V1147.1V968.0V1478.6V1140.4V1193.5V1173.6V921.6V994.5V1074.1V1425.6V1160.3V1047.6V1127.2V1226.6V1113.9V1292.9V1292.9V868.5M2527.9 1094.0V1007.8V968.0V1346.0V1120.5V895.1V961.4V1034.3V881.8V1014.4V1259.8V961.4V1147.1V1060.8V1279.7V987.9V921.6V1372.5V1246.5V1193.5V1160.3V1060.8V1127.2V1213.4V1047.6V1153.7V1166.9V941.5V855.3V815.5V934.9V1094.0V987.9V1299.6V1213.4V901.7V934.9V1432.2V1021.1V1292.9V1246.5V1279.7V835.4V908.3V835.4V1133.8V1233.3V908.3V1080.7V1292.9V928.2V1014.4V1306.2V1133.8V1140.4V981.3V968.0V1067.5V1060.8V1346.0V1054.2V1193.5V1047.6V981.3V1074.1V1140.4V1127.2V1180.2V981.3M2536.5 1067.5V928.2V1087.4V1326.1V981.3V1041.0V1100.6V987.9V968.0V915.0V1319.5V1273.1V1047.6V1094.0V1074.1V921.6V1266.4V1153.7V1266.4V1120.5V1173.6V1107.3V1206.7V1054.2V934.9V1246.5V1160.3V1140.4V822.1V875.2V1054.2V1001.2V1279.7V1047.6V987.9V848.6V1425.6V1041.0V1193.5V1147.1V1173.6V1087.4V974.6V934.9V934.9V994.5V1160.3V861.9V1120.5V782.3V968.0V1273.1V1067.5V1054.2V987.9V1034.3V1087.4V1246.5V1147.1V1147.1V941.5V1047.6V1054.2V1200.1V1107.3V1107.3V1213.4V961.4M2545.1 934.9V888.4V1087.4V1027.7V1014.4V941.5V1140.4V1173.6V948.1V1153.7V1246.5V1113.9V1067.5V1007.8V1180.2V928.2V895.1V1246.5V1127.2V1200.1V1213.4V1246.5V1186.8V1186.8V1007.8V1021.1V1094.0V1133.8V1273.1V762.4V1087.4V1120.5V1087.4V901.7V1213.4V1067.5V888.4V1200.1V1074.1V915.0V1094.0V1100.6V1001.2V1372.5V1133.8V1034.3V1067.5V948.1V1054.2V1160.3V1239.9V1021.1V1286.3V1074.1V888.4V855.3V1213.4V1312.8V901.7V1014.4V934.9V901.7V1133.8V1100.6V1312.8V1127.2V1233.3V1074.1M2553.7 921.6V901.7V1034.3V1074.1V1379.2V1107.3V948.1V1239.9V1021.1V1233.3V1166.9V1067.5V941.5V1107.3V1113.9V1153.7V855.3V1339.4V948.1V1120.5V1027.7V1220.0V1107.3V861.9V1127.2V1133.8V1120.5V1226.6V815.5V1127.2V1173.6V1001.2V908.3V1292.9V1054.2V1021.1V815.5V1259.8V1180.2V1140.4V954.7V1113.9V1067.5V954.7V1392.4V1133.8V1147.1V1100.6V1133.8V1120.5V842.0V1027.7V1326.1V1173.6V901.7V868.5V1153.7V1147.1V961.4V1014.4V974.6V954.7V981.3V1259.8V1246.5V1060.8V1127.2V941.5M2562.3 815.5V888.4V1127.2V1107.3V1352.6V1120.5V835.4V1392.4V1007.8V1047.6V1060.8V1067.5V1147.1V1021.1V1147.1V861.9V1206.7V1113.9V1127.2V881.8V1332.7V1041.0V1206.7V1027.7V868.5V1193.5V1094.0V1306.2V1193.5V1001.2V1166.9V1074.1V1060.8V981.3V1332.7V1365.9V941.5V1127.2V1080.7V1133.8V1127.2V1160.3V1233.3V1160.3V875.2V1041.0V954.7V1206.7V1074.1V1127.2V974.6V1027.7V948.1V1379.2V1100.6V875.2V822.1V1034.3V1312.8V901.7V1021.1V1094.0V981.3V1379.2V1253.2V921.6V1206.7V948.1M2570.9 941.5V875.2V895.1V968.0V1120.5V1014.4V1014.4V1339.4V1080.7V1027.7V1120.5V789.0V1107.3V1067.5V1014.4V921.6V1100.6V775.7V1279.7V994.5V1067.5V1113.9V961.4V1266.4V954.7V868.5V1041.0V1133.8V1014.4V1220.0V1054.2V1206.7V961.4V1120.5V1127.2V1027.7V1014.4V1312.8V1352.6V1153.7V1259.8V948.1V1087.4V1120.5V1273.1V1027.7V954.7V1127.2V941.5V1041.0V1127.2V941.5V994.5V948.1V1279.7V1133.8V1021.1V868.5V875.2V1107.3V1001.2V954.7V921.6V1425.6V1292.9V895.1V1087.4V881.8M2579.5 842.0V895.1V769.1V1140.4V1074.1V1140.4V1226.6V1113.9V1094.0V1259.8V855.3V895.1V1080.7V941.5V961.4V842.0V1259.8V928.2V1259.8V1080.7V1193.5V968.0V1200.1V815.5V1087.4V1133.8V974.6V1087.4V1113.9V1014.4V961.4V1047.6V1200.1V1127.2V1047.6V1239.9V1279.7V928.2V1120.5V1047.6V1166.9V1054.2V1299.6V974.6V868.5V1087.4V961.4V1140.4V948.1V1213.4V1034.3V1127.2V1060.8V1047.6V888.4V808.9V1113.9V1166.9V1120.5V1074.1V1074.1V1127.2V901.7V1326.1V1220.0V1047.6V1080.7V994.5M2588.1 921.6V948.1V789.0V1034.3V1253.2V941.5V1034.3V1054.2V1034.3V1173.6V861.9V974.6V895.1V1054.2V1180.2V974.6V1067.5V974.6V1365.9V961.4V974.6V875.2V855.3V1226.6V1041.0V1014.4V968.0V901.7V1140.4V895.1V1054.2V1246.5V881.8V1100.6V928.2V1153.7V1266.4V1021.1V1153.7V1041.0V1173.6V1147.1V1160.3V941.5V1074.1V875.2V1213.4V968.0V1226.6V1220.0V1100.6V1113.9V1120.5V1113.9V875.2V881.8V915.0V1266.4V1226.6V1220.0V1041.0V1113.9V855.3V1041.0V1292.9V915.0V1041.0V895.1M2596.6 915.0V1193.5V908.3V1140.4V987.9V1279.7V934.9V1074.1V1113.9V1001.2V1180.2V875.2V808.9V941.5V1186.8V941.5V974.6V1120.5V934.9V1286.3V915.0V1080.7V828.8V848.6V1047.6V994.5V1120.5V1107.3V1153.7V1133.8V1107.3V987.9V881.8V1180.2V921.6V994.5V1173.6V928.2V987.9V1213.4V1041.0V961.4V1292.9V789.0V848.6V888.4V1007.8V1014.4V1180.2V1107.3V1113.9V1014.4V1153.7V1014.4V994.5V921.6V928.2V1259.8V1067.5V994.5V1127.2V921.6V1120.5V1107.3V1001.2V895.1V1113.9V968.0M2605.2 1060.8V1180.2V888.4V1140.4V868.5V1153.7V1041.0V1352.6V941.5V928.2V987.9V795.6V961.4V875.2V1193.5V981.3V802.2V1166.9V948.1V1067.5V835.4V848.6V954.7V1113.9V1054.2V835.4V1233.3V1193.5V775.7V1127.2V974.6V908.3V1206.7V1041.0V1041.0V1100.6V1014.4V1054.2V1213.4V1160.3V1127.2V1074.1V1200.1V769.1V1133.8V1034.3V875.2V941.5V1107.3V1226.6V828.8V928.2V968.0V1173.6V1027.7V1074.1V921.6V1186.8V1027.7V1021.1V948.1V1120.5V1120.5V1120.5V888.4V948.1V948.1V1087.4M2613.8 1007.8V1326.1V1074.1V1259.8V815.5V861.9V1127.2V1160.3V994.5V1346.0V901.7V855.3V1239.9V875.2V1094.0V908.3V881.8V1127.2V961.4V901.7V1060.8V934.9V908.3V855.3V941.5V981.3V1094.0V1193.5V948.1V1153.7V789.0V1180.2V881.8V954.7V1239.9V1127.2V1054.2V968.0V1060.8V901.7V1074.1V1107.3V1346.0V1067.5V1286.3V822.1V1173.6V848.6V974.6V1133.8V1133.8V981.3V1087.4V941.5V1001.2V961.4V1173.6V974.6V1027.7V1041.0V861.9V1027.7V1266.4V1140.4V948.1V981.3V1067.5V1180.2M2622.4 934.9V1299.6V1027.7V1253.2V1001.2V941.5V1186.8V1120.5V901.7V1273.1V855.3V981.3V815.5V1094.0V1067.5V915.0V1001.2V1180.2V835.4V954.7V1007.8V928.2V808.9V868.5V769.1V881.8V1067.5V1041.0V1041.0V934.9V1087.4V981.3V941.5V1007.8V1054.2V1153.7V994.5V1074.1V828.8V749.2V1080.7V1001.2V1412.3V921.6V1246.5V795.6V1094.0V822.1V921.6V941.5V1120.5V1127.2V1001.2V961.4V1153.7V901.7V1166.9V1027.7V1127.2V1226.6V1133.8V808.9V1160.3V1226.6V1074.1V1047.6V968.0V1014.4V1087.4M2631.0 795.6V1193.5V1054.2V1220.0V1007.8V1213.4V1266.4V1253.2V968.0V1206.7V921.6V861.9V1067.5V855.3V921.6V1153.7V981.3V1060.8V795.6V1027.7V981.3V848.6V895.1V941.5V749.2V981.3V1166.9V941.5V861.9V835.4V1021.1V868.5V948.1V802.2V1001.2V921.6V1107.3V822.1V861.9V921.6V968.0V1438.8V934.9V1220.0V815.5V1100.6V1007.8V875.2V987.9V835.4V981.3V1173.6V1007.8V1054.2V1060.8V1113.9V1153.7V1027.7V1166.9V1253.2V729.3V1100.6V1147.1V1113.9V1094.0V848.6V1047.6V921.6V1107.3M2639.6 928.2V1100.6V948.1V1359.3V1186.8V1147.1V1127.2V1140.4V1120.5V1054.2V1100.6V1100.6V1120.5V822.1V987.9V1226.6V1027.7V1113.9V1080.7V795.6V961.4V921.6V915.0V928.2V755.8V1021.1V1074.1V901.7V1034.3V808.9V835.4V802.2V782.3V895.1V802.2V1014.4V1047.6V1021.1V1094.0V855.3V808.9V948.1V934.9V1319.5V1027.7V1120.5V915.0V1200.1V1001.2V1007.8V775.7V1027.7V1041.0V1153.7V974.6V1034.3V1186.8V954.7V948.1V1299.6V1087.4V682.9V1041.0V1200.1V1080.7V974.6V1220.0V948.1V981.3M2648.2 1027.7V1153.7V1372.5V1200.1V1200.1V1160.3V1153.7V1060.8V1007.8V1100.6V1120.5V895.1V1113.9V789.0V1007.8V1286.3V1001.2V1041.0V1200.1V1087.4V709.4V915.0V948.1V948.1V915.0V808.9V915.0V921.6V954.7V948.1V808.9V948.1V861.9V1034.3V861.9V901.7V1107.3V1087.4V915.0V1147.1V901.7V901.7V842.0V928.2V1060.8V1087.4V948.1V1206.7V974.6V1014.4V868.5V1147.1V994.5V954.7V1047.6V881.8V1120.5V1306.2V842.0V1332.7V1200.1V855.3V861.9V1266.4V1239.9V1153.7V1080.7V1113.9V822.1V881.8M2656.8 1067.5V1120.5V881.8V1253.2V1080.7V1233.3V1021.1V1220.0V1034.3V1087.4V1166.9V895.1V908.3V1067.5V915.0V928.2V1213.4V868.5V1074.1V1027.7V987.9V716.0V974.6V1001.2V888.4V822.1V954.7V1021.1V1080.7V954.7V934.9V875.2V968.0V948.1V1094.0V789.0V755.8V1186.8V1120.5V974.6V1014.4V789.0V1113.9V1259.8V1027.7V901.7V1087.4V881.8V802.2V1220.0V954.7V934.9V1074.1V861.9V835.4V1239.9V1087.4V961.4V842.0V1094.0V1094.0V848.6V1001.2V1080.7V1166.9V1007.8V941.5V981.3V868.5V815.5M2665.4 948.1V994.5V968.0V1206.7V994.5V895.1V1080.7V1047.6V1140.4V1054.2V901.7V842.0V1074.1V1094.0V948.1V1160.3V848.6V1107.3V1074.1V974.6V755.8V954.7V1027.7V842.0V822.1V954.7V1127.2V968.0V1094.0V974.6V1153.7V755.8V842.0V1239.9V848.6V1133.8V987.9V994.5V828.8V822.1V1213.4V1233.3V928.2V868.5V775.7V981.3V875.2V1047.6V861.9V769.1V1206.7V1014.4V981.3V1094.0V948.1V775.7V1100.6V875.2V1067.5V921.6V1001.2V1153.7V861.9V868.5V1133.8V1080.7V881.8V868.5V1047.6V755.8V828.8M2674.0 1054.2V928.2V1041.0V1213.4V1140.4V1001.2V842.0V888.4V1041.0V928.2V961.4V1060.8V868.5V789.0V1127.2V815.5V968.0V994.5V842.0V921.6V1074.1V875.2V1133.8V789.0V1014.4V1034.3V1140.4V1094.0V1041.0V915.0V789.0V1060.8V981.3V961.4V835.4V868.5V861.9V1153.7V1060.8V1034.3V1001.2V915.0V1027.7V1147.1V855.3V974.6V755.8V901.7V842.0V934.9V1021.1V722.7V1273.1V974.6V1087.4V1074.1V1060.8V716.0V961.4V835.4V888.4V915.0V1014.4V822.1V769.1V1100.6V1107.3V888.4V696.1V1094.0V941.5V875.2M2682.6 1014.4V921.6V974.6V1147.1V921.6V994.5V881.8V981.3V948.1V915.0V848.6V948.1V1147.1V1047.6V775.7V842.0V954.7V1080.7V749.2V928.2V881.8V1027.7V941.5V1193.5V848.6V994.5V954.7V1041.0V1253.2V1127.2V908.3V722.7V789.0V987.9V1001.2V808.9V1253.2V915.0V1074.1V1120.5V861.9V981.3V861.9V1087.4V1193.5V908.3V948.1V802.2V822.1V861.9V994.5V815.5V1220.0V1007.8V1060.8V1113.9V981.3V789.0V921.6V828.8V1074.1V762.4V1087.4V868.5V895.1V729.3V921.6V1160.3V915.0V696.1V968.0V881.8V1001.2M2691.2 1113.9V901.7V974.6V1140.4V901.7V1041.0V875.2V1127.2V1027.7V1054.2V1113.9V861.9V941.5V875.2V1107.3V915.0V1094.0V901.7V835.4V1047.6V994.5V729.3V1060.8V1054.2V968.0V1133.8V888.4V1120.5V1246.5V855.3V702.8V1060.8V755.8V948.1V1147.1V822.1V1087.4V981.3V968.0V948.1V888.4V948.1V934.9V881.8V1074.1V795.6V1001.2V822.1V1027.7V1034.3V868.5V1001.2V948.1V1166.9V1206.7V1213.4V1166.9V1021.1V795.6V974.6V881.8V1021.1V835.4V921.6V888.4V1067.5V815.5V1127.2V1113.9V1087.4V842.0V974.6V981.3V835.4M2699.8 1094.0V1153.7V881.8V1080.7V1007.8V1113.9V842.0V1120.5V915.0V968.0V1007.8V974.6V994.5V762.4V1034.3V915.0V1001.2V855.3V1113.9V901.7V981.3V934.9V782.3V749.2V1067.5V1007.8V968.0V974.6V822.1V1034.3V1226.6V895.1V649.7V1074.1V709.4V994.5V848.6V1147.1V961.4V1067.5V948.1V1060.8V868.5V848.6V802.2V941.5V934.9V1166.9V795.6V954.7V1100.6V875.2V895.1V895.1V1120.5V1180.2V994.5V1160.3V908.3V901.7V828.8V742.5V921.6V895.1V974.6V789.0V1120.5V1041.0V1054.2V1160.3V1140.4V828.8V981.3V954.7V822.1M2708.4 1100.6V1166.9V1067.5V881.8V1113.9V1173.6V742.5V1054.2V868.5V848.6V1047.6V941.5V1007.8V729.3V1113.9V1007.8V901.7V974.6V1253.2V855.3V822.1V915.0V782.3V941.5V1153.7V974.6V941.5V974.6V795.6V934.9V1166.9V954.7V649.7V1233.3V789.0V1047.6V934.9V782.3V901.7V861.9V1107.3V901.7V1107.3V848.6V1001.2V682.9V901.7V948.1V1253.2V769.1V1027.7V1120.5V722.7V1127.2V974.6V921.6V1166.9V921.6V1113.9V855.3V915.0V755.8V696.1V954.7V954.7V1021.1V861.9V1047.6V1087.4V941.5V1213.4V1107.3V928.2V881.8V901.7V782.3M2716.9 954.7V1120.5V1087.4V987.9V1007.8V1094.0V676.2V855.3V1014.4V689.5V948.1V1014.4V948.1V861.9V1200.1V921.6V815.5V775.7V1047.6V994.5V954.7V954.7V749.2V1140.4V948.1V974.6V808.9V968.0V762.4V974.6V1226.6V934.9V689.5V1332.7V948.1V934.9V994.5V682.9V1007.8V868.5V1279.7V815.5V1027.7V915.0V981.3V769.1V1021.1V1087.4V1047.6V709.4V1074.1V1060.8V762.4V994.5V1074.1V1021.1V948.1V968.0V1021.1V855.3V961.4V1060.8V769.1V1067.5V921.6V1107.3V974.6V1153.7V968.0V981.3V1107.3V1001.2V968.0V981.3V921.6V742.5M2725.5 1047.6V941.5V1100.6V974.6V948.1V1047.6V636.4V921.6V1094.0V716.0V921.6V861.9V921.6V928.2V1120.5V709.4V789.0V848.6V987.9V928.2V968.0V861.9V828.8V1259.8V1001.2V875.2V981.3V1007.8V775.7V789.0V981.3V881.8V729.3V1080.7V1034.3V1107.3V1094.0V735.9V1014.4V961.4V1127.2V795.6V1041.0V782.3V1054.2V682.9V1021.1V1113.9V1080.7V762.4V961.4V1007.8V815.5V1113.9V941.5V981.3V1054.2V1180.2V1054.2V948.1V1007.8V915.0V782.3V974.6V948.1V1074.1V987.9V1014.4V1147.1V1054.2V1060.8V915.0V974.6V881.8V822.1V795.6M2734.1 1001.2V954.7V1127.2V948.1V1107.3V1067.5V709.4V1001.2V954.7V868.5V1133.8V1001.2V934.9V855.3V1034.3V868.5V782.3V822.1V1047.6V1007.8V928.2V848.6V815.5V1180.2V928.2V968.0V716.0V1034.3V921.6V802.2V928.2V789.0V888.4V1133.8V1060.8V1021.1V1094.0V762.4V1100.6V888.4V981.3V775.7V769.1V881.8V1120.5V782.3V815.5V1060.8V1100.6V742.5V815.5V895.1V789.0V1113.9V1041.0V1133.8V868.5V1140.4V974.6V1054.2V1113.9V1014.4V696.1V895.1V888.4V1047.6V895.1V1113.9V888.4V1067.5V1021.1V1027.7V808.9V954.7V802.2V941.5M2742.7 868.5V828.8V1094.0V994.5V1173.6V1067.5V782.3V868.5V934.9V649.7V954.7V1213.4V808.9V716.0V974.6V1034.3V968.0V775.7V1027.7V1100.6V842.0V987.9V901.7V1094.0V775.7V948.1V855.3V1054.2V722.7V842.0V769.1V815.5V954.7V1279.7V1147.1V1180.2V921.6V994.5V921.6V1027.7V968.0V855.3V775.7V1074.1V954.7V981.3V709.4V1027.7V1074.1V716.0V908.3V861.9V842.0V1014.4V1041.0V928.2V1087.4V1292.9V901.7V1113.9V895.1V875.2V782.3V888.4V974.6V1054.2V1007.8V1166.9V948.1V921.6V961.4V1034.3V881.8V842.0V822.1V1047.6M2751.3 861.9V828.8V1127.2V961.4V1087.4V1034.3V782.3V842.0V915.0V782.3V1094.0V1180.2V689.5V702.8V815.5V1034.3V934.9V1021.1V795.6V1021.1V789.0V1054.2V1047.6V994.5V908.3V974.6V735.9V968.0V954.7V749.2V895.1V848.6V987.9V1213.4V1087.4V1153.7V1180.2V868.5V968.0V1041.0V934.9V802.2V656.3V1193.5V842.0V1034.3V842.0V1021.1V1120.5V888.4V974.6V968.0V835.4V1041.0V1021.1V948.1V1153.7V1133.8V855.3V908.3V1021.1V901.7V881.8V895.1V1107.3V981.3V1041.0V1100.6V755.8V1021.1V968.0V1007.8V981.3V981.3V915.0V1034.3M2759.9 895.1V702.8V1160.3V861.9V1094.0V1087.4V861.9V1047.6V895.1V961.4V1133.8V1133.8V669.6V729.3V934.9V1074.1V961.4V981.3V961.4V1120.5V875.2V1047.6V828.8V1007.8V808.9V1113.9V901.7V775.7V888.4V987.9V782.3V815.5V1133.8V974.6V1067.5V1094.0V941.5V881.8V1100.6V1047.6V749.2V729.3V1027.7V842.0V961.4V868.5V961.4V1094.0V915.0V828.8V875.2V981.3V1007.8V1133.8V895.1V1007.8V1127.2V948.1V842.0V1140.4V974.6V881.8V961.4V915.0V981.3V1107.3V901.7V855.3V915.0V1001.2V1021.1V881.8V888.4V994.5V1047.6M2768.5 928.2V775.7V1166.9V934.9V1140.4V1067.5V716.0V1087.4V855.3V822.1V974.6V1193.5V968.0V908.3V981.3V974.6V974.6V921.6V1007.8V1147.1V769.1V948.1V789.0V1007.8V915.0V1113.9V609.9V1034.3V775.7V828.8V961.4V795.6V941.5V1120.5V968.0V1147.1V1094.0V875.2V762.4V1054.2V848.6V716.0V775.7V901.7V861.9V881.8V895.1V861.9V1047.6V921.6V782.3V861.9V987.9V1094.0V1100.6V808.9V961.4V1021.1V1027.7V822.1V895.1V881.8V881.8V828.8V861.9V1120.5V895.1V808.9V908.3V1014.4V1014.4V762.4V762.4V941.5V1120.5M2777.1 842.0V716.0V981.3V987.9V968.0V1034.3V742.5V954.7V921.6V875.2V901.7V1140.4V888.4V981.3V1074.1V888.4V1054.2V861.9V1041.0V1100.6V656.3V948.1V808.9V855.3V987.9V1133.8V742.5V941.5V888.4V908.3V974.6V682.9V1021.1V987.9V1113.9V1047.6V875.2V875.2V1074.1V828.8V729.3V868.5V808.9V934.9V915.0V848.6V1120.5V948.1V974.6V941.5V994.5V1120.5V1113.9V828.8V875.2V1027.7V1027.7V842.0V1094.0V1021.1V934.9V881.8V696.1V941.5V1153.7V842.0V828.8V1014.4V1107.3V1001.2V636.4V895.1V808.9V901.7M2785.7 795.6V808.9V1094.0V1034.3V822.1V1041.0V974.6V915.0V861.9V915.0V948.1V1074.1V1007.8V1054.2V974.6V901.7V941.5V663.0V1087.4V716.0V1027.7V835.4V908.3V981.3V1140.4V795.6V742.5V987.9V835.4V888.4V1060.8V656.3V868.5V928.2V1120.5V1027.7V868.5V961.4V994.5V822.1V802.2V954.7V762.4V895.1V822.1V842.0V934.9V1007.8V842.0V1100.6V1007.8V1021.1V974.6V1067.5V941.5V828.8V1054.2V968.0V828.8V815.5V915.0V802.2V948.1V1087.4V1054.2V928.2V1041.0V1166.9V1060.8V722.7V729.3V729.3V868.5M2794.3 928.2V656.3V1021.1V908.3V789.0V868.5V987.9V934.9V828.8V822.1V1054.2V908.3V1041.0V848.6V802.2V1034.3V643.1V981.3V974.6V901.7V1001.2V848.6V915.0V1080.7V1080.7V702.8V1007.8V1074.1V1067.5V696.1V868.5V755.8V1100.6V981.3V855.3V961.4V1107.3V729.3V729.3V987.9V716.0V861.9V775.7V716.0V861.9V968.0V842.0V1060.8V1021.1V968.0V1060.8V968.0V868.5V848.6V1173.6V1041.0V1021.1V822.1V795.6V1021.1V968.0V855.3V941.5V1054.2V1034.3V835.4V981.3V1180.2V1034.3V755.8V722.7V828.8V928.2M2802.9 1034.3V663.0V1034.3V769.1V875.2V842.0V815.5V1021.1V981.3V941.5V868.5V1067.5V1021.1V1160.3V835.4V908.3V742.5V1007.8V789.0V1021.1V808.9V861.9V968.0V968.0V842.0V888.4V1087.4V815.5V994.5V981.3V802.2V828.8V954.7V981.3V915.0V868.5V1087.4V749.2V742.5V1127.2V755.8V1027.7V749.2V755.8V981.3V954.7V815.5V954.7V921.6V1074.1V961.4V1021.1V861.9V1127.2V961.4V1034.3V808.9V848.6V881.8V828.8V828.8V1034.3V941.5V994.5V1001.2V1120.5V1107.3V1027.7V855.3V789.0V689.5V875.2M2811.5 802.2V735.9V1094.0V848.6V941.5V921.6V822.1V974.6V1067.5V1041.0V1001.2V1166.9V1027.7V1107.3V842.0V822.1V1041.0V755.8V1007.8V789.0V941.5V789.0V822.1V968.0V861.9V948.1V1107.3V742.5V1133.8V928.2V735.9V1007.8V954.7V895.1V968.0V954.7V1001.2V1027.7V868.5V802.2V1054.2V749.2V961.4V921.6V729.3V974.6V888.4V888.4V1007.8V954.7V994.5V1140.4V928.2V1120.5V954.7V987.9V822.1V682.9V775.7V895.1V954.7V1054.2V974.6V961.4V1133.8V987.9V994.5V934.9V994.5V722.7V749.2V808.9M2820.1 974.6V808.9V981.3V934.9V828.8V908.3V1014.4V1014.4V1160.3V875.2V1186.8V1133.8V1113.9V696.1V881.8V974.6V822.1V908.3V822.1V729.3V908.3V1014.4V782.3V1021.1V861.9V1080.7V749.2V1113.9V1060.8V1007.8V895.1V868.5V822.1V921.6V1027.7V948.1V822.1V1067.5V808.9V1001.2V855.3V702.8V1001.2V769.1V908.3V941.5V921.6V948.1V961.4V987.9V1127.2V822.1V1100.6V1074.1V961.4V709.4V948.1V815.5V875.2V709.4V974.6V901.7V994.5V1094.0V1047.6V1100.6V908.3V848.6V709.4V782.3V789.0M2828.7 881.8V1021.1V881.8V1041.0V861.9V855.3V888.4V1120.5V1087.4V1166.9V1153.7V1094.0V722.7V828.8V828.8V795.6V1021.1V928.2V663.0V815.5V968.0V994.5V855.3V888.4V1067.5V1074.1V881.8V1113.9V1047.6V908.3V981.3V848.6V861.9V1007.8V742.5V895.1V941.5V888.4V795.6V1100.6V716.0V868.5V994.5V928.2V749.2V888.4V954.7V868.5V1027.7V1027.7V1074.1V795.6V1193.5V987.9V835.4V855.3V941.5V934.9V915.0V888.4V802.2V954.7V1127.2V961.4V1080.7V934.9V901.7V928.2V895.1V822.1M2837.2 888.4V994.5V1140.4V981.3V954.7V948.1V928.2V775.7V1127.2V848.6V981.3V987.9V868.5V868.5V868.5V676.2V1021.1V861.9V901.7V855.3V968.0V808.9V954.7V934.9V1041.0V828.8V1180.2V1133.8V954.7V981.3V934.9V881.8V875.2V848.6V994.5V1001.2V901.7V1047.6V828.8V1113.9V901.7V901.7V901.7V769.1V928.2V974.6V755.8V1014.4V1021.1V881.8V722.7V1100.6V994.5V842.0V928.2V1041.0V881.8V1054.2V954.7V908.3V835.4V974.6V1021.1V1054.2V981.3V1014.4V961.4V928.2V815.5M2845.8 948.1V901.7V888.4V1047.6V875.2V961.4V948.1V1014.4V1166.9V861.9V1074.1V875.2V868.5V954.7V974.6V828.8V848.6V1060.8V901.7V901.7V789.0V835.4V954.7V762.4V908.3V901.7V1001.2V808.9V1034.3V1080.7V934.9V987.9V915.0V782.3V928.2V1047.6V974.6V1107.3V808.9V968.0V729.3V1001.2V1007.8V1027.7V782.3V881.8V948.1V822.1V1100.6V994.5V795.6V716.0V1080.7V1067.5V828.8V1027.7V769.1V1054.2V855.3V848.6V696.1V1021.1V1001.2V1087.4V948.1V1060.8V888.4V861.9V795.6M2854.4 1054.2V901.7V928.2V1001.2V855.3V1021.1V928.2V901.7V1060.8V855.3V915.0V815.5V908.3V954.7V994.5V868.5V968.0V921.6V901.7V974.6V755.8V875.2V987.9V762.4V1001.2V775.7V861.9V974.6V961.4V1173.6V1041.0V921.6V928.2V948.1V1173.6V954.7V1060.8V735.9V775.7V1067.5V1173.6V1027.7V822.1V908.3V782.3V888.4V769.1V1034.3V928.2V861.9V769.1V974.6V1007.8V1007.8V868.5V1067.5V848.6V1027.7V948.1V828.8V815.5V1133.8V901.7V1021.1V987.9V901.7V961.4V941.5V709.4M2863.0 974.6V987.9V895.1V848.6V888.4V921.6V1166.9V994.5V815.5V1001.2V762.4V1067.5V1087.4V822.1V954.7V928.2V808.9V941.5V1021.1V808.9V848.6V1060.8V842.0V895.1V1001.2V1034.3V1074.1V1067.5V1060.8V895.1V961.4V974.6V1074.1V1087.4V1087.4V888.4V1074.1V888.4V722.7V948.1V1186.8V1094.0V1027.7V1074.1V901.7V1007.8V749.2V974.6V968.0V895.1V835.4V934.9V974.6V1054.2V888.4V1133.8V802.2V1027.7V1034.3V682.9V789.0V1047.6V881.8V1047.6V875.2V1007.8V888.4V842.0V835.4M2871.6 1034.3V941.5V954.7V1113.9V1021.1V934.9V842.0V895.1V1074.1V1173.6V775.7V1034.3V789.0V987.9V1067.5V1047.6V1007.8V968.0V1027.7V948.1V974.6V848.6V1034.3V775.7V1094.0V822.1V861.9V1107.3V934.9V1120.5V1140.4V1060.8V1054.2V1080.7V1054.2V1147.1V1027.7V1100.6V928.2V775.7V1113.9V1067.5V954.7V921.6V848.6V1127.2V702.8V928.2V994.5V1014.4V915.0V1027.7V954.7V934.9V1133.8V735.9V1133.8V828.8V729.3V842.0V915.0V1060.8V789.0V1094.0V1021.1V1021.1V828.8V861.9V755.8M2880.2 1200.1V855.3V987.9V1047.6V1007.8V934.9V941.5V1041.0V1127.2V1206.7V908.3V663.0V868.5V1080.7V1067.5V861.9V1107.3V981.3V954.7V1147.1V775.7V789.0V782.3V928.2V762.4V987.9V755.8V941.5V1080.7V934.9V1074.1V987.9V1021.1V1047.6V1041.0V994.5V1027.7V1067.5V1094.0V954.7V749.2V881.8V1047.6V1094.0V987.9V888.4V828.8V1087.4V749.2V881.8V954.7V987.9V934.9V1007.8V1014.4V921.6V1080.7V1087.4V901.7V742.5V782.3V961.4V948.1V1041.0V961.4V868.5V775.7V948.1V729.3M2888.8 1279.7V1087.4V928.2V1021.1V802.2V848.6V1153.7V1206.7V1153.7V981.3V702.8V802.2V1120.5V1067.5V749.2V1127.2V1166.9V1027.7V775.7V941.5V802.2V968.0V828.8V888.4V828.8V649.7V861.9V835.4V815.5V1047.6V921.6V1140.4V1120.5V1193.5V934.9V941.5V1007.8V1120.5V1160.3V901.7V1041.0V868.5V855.3V934.9V1074.1V1186.8V948.1V921.6V822.1V895.1V842.0V1060.8V881.8V1014.4V888.4V1007.8V868.5V1027.7V908.3V848.6V987.9V1074.1V901.7V908.3V908.3V961.4V735.9V1027.7V795.6M2897.4 1226.6V1127.2V1074.1V822.1V822.1V782.3V1273.1V1180.2V1133.8V974.6V789.0V1067.5V1127.2V782.3V1180.2V1094.0V1014.4V915.0V1087.4V802.2V1060.8V1021.1V868.5V855.3V636.4V915.0V1021.1V941.5V1127.2V1041.0V1080.7V1060.8V1226.6V1034.3V1080.7V1021.1V941.5V1094.0V1107.3V1080.7V1074.1V881.8V828.8V888.4V1021.1V1094.0V1080.7V822.1V888.4V1133.8V769.1V861.9V961.4V1140.4V842.0V994.5V835.4V1034.3V835.4V968.0V1054.2V1127.2V928.2V954.7V1001.2V1027.7V855.3V1113.9V815.5M2906.0 1306.2V1074.1V961.4V762.4V875.2V1200.1V1133.8V1120.5V901.7V689.5V881.8V1166.9V1100.6V888.4V1047.6V1047.6V921.6V815.5V1021.1V961.4V1027.7V908.3V749.2V848.6V908.3V1034.3V1113.9V994.5V974.6V1067.5V1226.6V1014.4V921.6V1087.4V1133.8V1087.4V1047.6V822.1V795.6V1094.0V928.2V1166.9V828.8V974.6V1014.4V808.9V961.4V842.0V1027.7V789.0V1021.1V875.2V921.6V968.0V968.0V941.5V934.9V1014.4V828.8V974.6V895.1V1080.7V941.5V1014.4V1067.5V928.2V928.2V1014.4V921.6M2914.6 1113.9V954.7V994.5V729.3V1120.5V1060.8V1100.6V915.0V742.5V901.7V1041.0V1113.9V981.3V1021.1V1100.6V981.3V842.0V762.4V1100.6V1060.8V1080.7V716.0V901.7V881.8V954.7V1054.2V895.1V987.9V1147.1V1107.3V1246.5V861.9V881.8V755.8V1100.6V1027.7V1113.9V1014.4V888.4V755.8V888.4V968.0V941.5V1186.8V875.2V1014.4V775.7V981.3V855.3V1054.2V861.9V1094.0V842.0V981.3V1034.3V928.2V815.5V1001.2V961.4V795.6V1080.7V895.1V1067.5V895.1V1206.7V948.1V987.9V987.9V987.9M2923.2 1372.5V1193.5V875.2V1014.4V1180.2V722.7V1239.9V987.9V1007.8V987.9V848.6V994.5V1160.3V968.0V948.1V948.1V881.8V895.1V762.4V1014.4V954.7V1107.3V888.4V1226.6V954.7V908.3V1213.4V901.7V1001.2V1094.0V1166.9V941.5V1160.3V941.5V994.5V1001.2V1113.9V881.8V789.0V934.9V1007.8V981.3V1080.7V875.2V1107.3V1014.4V782.3V1007.8V848.6V1014.4V888.4V895.1V895.1V908.3V961.4V895.1V1041.0V868.5V861.9V1047.6V1094.0V808.9V1133.8V789.0V1226.6V994.5V868.5V954.7V1120.5M2931.8 1266.4V1253.2V888.4V961.4V1087.4V775.7V1100.6V1312.8V1021.1V1080.7V1041.0V974.6V1160.3V1074.1V1007.8V915.0V1047.6V954.7V789.0V987.9V1021.1V1067.5V961.4V828.8V1246.5V908.3V1120.5V1060.8V881.8V1100.6V1067.5V1173.6V1041.0V1001.2V1100.6V835.4V1094.0V1014.4V915.0V1087.4V941.5V895.1V981.3V987.9V1153.7V842.0V1001.2V1153.7V722.7V1153.7V901.7V1120.5V934.9V828.8V934.9V901.7V1213.4V888.4V921.6V1054.2V1239.9V802.2V1001.2V835.4V1193.5V1133.8V1054.2V1113.9V1054.2M2940.4 1253.2V1239.9V808.9V901.7V1067.5V762.4V1027.7V1253.2V961.4V1147.1V1100.6V1100.6V994.5V1200.1V994.5V1186.8V1054.2V808.9V934.9V928.2V835.4V1047.6V1014.4V895.1V1021.1V808.9V1120.5V1100.6V1206.7V1100.6V1140.4V1094.0V1173.6V1100.6V808.9V1120.5V861.9V1153.7V881.8V901.7V1014.4V1034.3V1113.9V921.6V901.7V1226.6V1107.3V1047.6V1127.2V868.5V1074.1V1074.1V1001.2V795.6V881.8V1273.1V1047.6V1007.8V1080.7V842.0V1074.1V1094.0V928.2V1094.0V1213.4V1041.0V1001.2V1113.9M2948.9 1200.1V1041.0V954.7V861.9V1041.0V835.4V1054.2V1147.1V1060.8V968.0V1027.7V1054.2V881.8V974.6V1140.4V987.9V1166.9V1094.0V915.0V1001.2V1021.1V861.9V1094.0V934.9V968.0V1021.1V1200.1V1060.8V1087.4V1107.3V1087.4V1067.5V1021.1V1014.4V968.0V1226.6V822.1V1021.1V1120.5V1233.3V981.3V961.4V1074.1V968.0V928.2V1133.8V802.2V1107.3V908.3V934.9V994.5V1120.5V921.6V921.6V915.0V1279.7V921.6V987.9V1027.7V1027.7V855.3V1047.6V915.0V888.4V901.7V1120.5V1087.4V921.6M2957.5 1140.4V1120.5V1021.1V795.6V1120.5V954.7V1133.8V1186.8V861.9V987.9V994.5V855.3V895.1V1041.0V994.5V1299.6V1021.1V954.7V1094.0V1087.4V948.1V1100.6V1067.5V981.3V1107.3V1147.1V961.4V915.0V1173.6V994.5V1067.5V842.0V994.5V1133.8V1074.1V1166.9V948.1V1041.0V948.1V828.8V1292.9V1007.8V961.4V842.0V1001.2V762.4V1094.0V1120.5V875.2V1014.4V1007.8V1113.9V921.6V934.9V1113.9V1206.7V921.6V1034.3V981.3V1027.7V848.6V1021.1V994.5V888.4V1034.3V1153.7V981.3V974.6M2966.1 1007.8V1312.8V1107.3V875.2V1074.1V1047.6V1133.8V1041.0V1253.2V1120.5V895.1V941.5V1160.3V1100.6V1273.1V974.6V1074.1V1054.2V1041.0V881.8V1160.3V895.1V895.1V1074.1V1001.2V875.2V808.9V1200.1V1034.3V1087.4V974.6V915.0V961.4V1067.5V888.4V1100.6V1080.7V1173.6V1001.2V908.3V1312.8V1014.4V934.9V1166.9V1133.8V1014.4V1007.8V828.8V1147.1V1107.3V1021.1V1074.1V1054.2V1127.2V828.8V954.7V1080.7V1127.2V994.5V1007.8V954.7V1034.3V1127.2V875.2V1186.8V1054.2V881.8V974.6M2974.7 1021.1V1206.7V1054.2V828.8V1007.8V1001.2V1273.1V1100.6V1060.8V842.0V961.4V1034.3V915.0V1060.8V921.6V1113.9V1047.6V1001.2V981.3V1153.7V987.9V815.5V1007.8V828.8V1021.1V1060.8V934.9V1133.8V1107.3V934.9V1034.3V1206.7V1186.8V835.4V1087.4V1047.6V1213.4V1200.1V921.6V861.9V1094.0V954.7V1193.5V1047.6V961.4V1007.8V815.5V1186.8V1107.3V1107.3V1120.5V1193.5V994.5V822.1V1113.9V895.1V789.0V1133.8V901.7V842.0V1186.8V968.0V1127.2V948.1V1266.4V1107.3V948.1V948.1M2983.3 1001.2V1153.7V1140.4V875.2V974.6V1100.6V1160.3V928.2V822.1V1273.1V1021.1V974.6V1054.2V1080.7V842.0V1100.6V1074.1V1140.4V881.8V961.4V1173.6V1007.8V941.5V1027.7V1094.0V954.7V1041.0V901.7V1239.9V1173.6V934.9V1306.2V1047.6V775.7V981.3V1007.8V1306.2V1246.5V822.1V815.5V948.1V968.0V1080.7V1266.4V868.5V1027.7V1186.8V808.9V1312.8V1239.9V1047.6V1100.6V921.6V722.7V968.0V994.5V855.3V861.9V1246.5V895.1V868.5V861.9V1180.2V1060.8V1107.3V1127.2V1319.5V835.4M2991.9 1120.5V1047.6V1087.4V934.9V881.8V974.6V1060.8V1312.8V1087.4V888.4V1286.3V1014.4V941.5V1054.2V987.9V1067.5V1074.1V1060.8V808.9V1007.8V815.5V1173.6V1054.2V981.3V1100.6V1186.8V1041.0V921.6V1060.8V1180.2V1166.9V901.7V1193.5V1200.1V981.3V828.8V948.1V1094.0V1193.5V1286.3V875.2V1074.1V961.4V1279.7V1047.6V928.2V815.5V1021.1V974.6V1027.7V1166.9V1100.6V1113.9V789.0V881.8V1140.4V881.8V1226.6V928.2V1001.2V1239.9V1253.2V1253.2V1213.4V1259.8V1087.4V961.4V822.1M3000.5 1120.5V1153.7V1127.2V842.0V934.9V861.9V1100.6V1385.8V1060.8V888.4V1299.6V994.5V1186.8V1140.4V954.7V822.1V1312.8V835.4V1220.0V855.3V1173.6V1120.5V948.1V1166.9V1014.4V881.8V941.5V875.2V1027.7V954.7V1193.5V1014.4V968.0V1306.2V954.7V1160.3V981.3V994.5V1087.4V1286.3V915.0V928.2V1200.1V968.0V1133.8V928.2V815.5V1107.3V1220.0V1253.2V1120.5V1186.8V855.3V855.3V974.6V934.9V875.2V954.7V1246.5V1100.6V1239.9V1266.4V1193.5V1166.9V1147.1V1147.1V921.6M3009.1 1127.2V1206.7V1226.6V822.1V1041.0V855.3V1041.0V1359.3V1021.1V921.6V1186.8V1200.1V1286.3V1027.7V881.8V842.0V1286.3V1213.4V1193.5V868.5V1166.9V901.7V1253.2V1080.7V1127.2V1087.4V1113.9V1200.1V1166.9V974.6V1332.7V954.7V994.5V954.7V888.4V1094.0V1438.8V1233.3V1094.0V954.7V1266.4V1113.9V987.9V981.3V1100.6V1014.4V1054.2V1193.5V1273.1V968.0V1279.7V1306.2V895.1V895.1V1067.5V954.7V1054.2V901.7V901.7V895.1V1067.5V1220.0V1100.6V1120.5V1213.4V1160.3V1107.3M3017.7 1339.4V1180.2V921.6V1186.8V941.5V1094.0V1273.1V1014.4V968.0V1266.4V1127.2V1246.5V1166.9V981.3V1359.3V1147.1V875.2V1153.7V901.7V1246.5V1266.4V941.5V1233.3V1047.6V868.5V1007.8V1094.0V1279.7V1014.4V861.9V1286.3V981.3V1133.8V901.7V1193.5V1246.5V1425.6V1041.0V1246.5V1034.3V1153.7V1094.0V941.5V1193.5V1266.4V1014.4V1074.1V1127.2V1259.8V1100.6V861.9V981.3V961.4V1226.6V981.3V908.3V1014.4V1107.3V1166.9V1133.8V1094.0V941.5V921.6V1266.4V1087.4V1193.5V1286.3M3026.3 1279.7V1100.6V1054.2V888.4V1060.8V1054.2V888.4V855.3V1365.9V994.5V928.2V1213.4V968.0V868.5V934.9V1220.0V1253.2V1021.1V1007.8V1273.1V1246.5V1100.6V1166.9V1047.6V875.2V1312.8V881.8V948.1V1326.1V1094.0V1021.1V921.6V888.4V1147.1V1206.7V1359.3V1173.6V1060.8V1180.2V1226.6V1166.9V1094.0V1365.9V1047.6V1107.3V941.5V948.1V1180.2V908.3V915.0V1213.4V1286.3V1180.2V822.1V815.5V1140.4V1193.5V974.6V1226.6V1160.3V1200.1V934.9V908.3V1160.3V1273.1V1100.6V1332.7M3034.9 1160.3V994.5V974.6V908.3V1166.9V1140.4V1074.1V1193.5V808.9V1246.5V908.3V934.9V1087.4V954.7V954.7V981.3V1166.9V1259.8V1054.2V1299.6V1127.2V1399.0V1233.3V1107.3V981.3V1220.0V1014.4V1047.6V994.5V1239.9V908.3V1140.4V808.9V1226.6V1001.2V1034.3V1273.1V1266.4V1246.5V1140.4V1279.7V1127.2V1160.3V1087.4V1220.0V981.3V987.9V1054.2V1319.5V1206.7V1399.0V1206.7V941.5V987.9V782.3V1166.9V961.4V1007.8V1206.7V1306.2V1054.2V1319.5V1266.4V915.0V1120.5V1166.9V1027.7M3043.5 1140.4V842.0V881.8V1173.6V1113.9V908.3V835.4V1253.2V855.3V981.3V1127.2V1001.2V1206.7V1041.0V1259.8V1180.2V1001.2V1326.1V1034.3V1160.3V1100.6V987.9V1074.1V934.9V1220.0V1266.4V808.9V1206.7V1074.1V1173.6V1100.6V1206.7V1133.8V994.5V1339.4V881.8V908.3V1352.6V981.3V948.1V1273.1V1041.0V1120.5V1133.8V1273.1V1186.8V1120.5V1372.5V1113.9V1246.5V1034.3V1133.8V915.0V1186.8V974.6V1027.7V941.5V1021.1V1220.0V1246.5V1014.4V1014.4V1166.9V1332.7V1001.2V1147.1M3052.1 835.4V861.9V1193.5V1319.5V981.3V1292.9V1041.0V1127.2V1147.1V1047.6V1054.2V1292.9V1113.9V1220.0V1213.4V1054.2V1173.6V1339.4V1246.5V1001.2V1233.3V987.9V1034.3V921.6V1173.6V1299.6V1319.5V1206.7V775.7V1127.2V1173.6V1220.0V1173.6V1246.5V1120.5V868.5V1153.7V908.3V921.6V1346.0V981.3V954.7V1292.9V987.9V1120.5V1186.8V1120.5V1259.8V921.6V1319.5V1266.4V1352.6V974.6V1246.5V881.8V1279.7V1200.1V1180.2V1153.7V1365.9V1074.1V941.5V1233.3V1372.5V1180.2V1107.3M3060.7 1001.2V848.6V1246.5V1332.7V954.7V1140.4V848.6V1007.8V908.3V961.4V1060.8V1120.5V1166.9V1206.7V1094.0V1153.7V881.8V1200.1V1239.9V1180.2V1365.9V1140.4V941.5V1034.3V987.9V895.1V1286.3V1346.0V1160.3V987.9V1054.2V1299.6V1339.4V1359.3V888.4V1094.0V895.1V1193.5V968.0V1080.7V1339.4V1107.3V1193.5V1206.7V1332.7V1220.0V948.1V1279.7V1346.0V1054.2V1094.0V934.9V1226.6V948.1V1346.0V1233.3V1346.0V1253.2V1147.1V1100.6V994.5V1186.8V1266.4V1306.2V1352.6V1080.7M3069.2 1107.3V1120.5V1299.6V1352.6V981.3V1266.4V915.0V981.3V1120.5V1113.9V994.5V948.1V1193.5V961.4V1246.5V981.3V1246.5V1100.6V1253.2V1120.5V1213.4V1319.5V974.6V1047.6V1233.3V1014.4V1286.3V1279.7V1273.1V1127.2V1054.2V1087.4V828.8V1206.7V1233.3V1306.2V1346.0V928.2V968.0V1074.1V1087.4V1200.1V1186.8V1160.3V1220.0V1286.3V1259.8V1034.3V1107.3V1352.6V1372.5V1180.2V908.3V954.7V1127.2V915.0V1220.0V1405.7V1412.3V1233.3V1113.9V1027.7V1067.5V1200.1V1074.1M3077.8 1233.3V1246.5V1239.9V1405.7V1153.7V1385.8V1014.4V1140.4V1120.5V968.0V954.7V1007.8V1180.2V1292.9V1007.8V1279.7V1200.1V1253.2V1399.0V1034.3V1279.7V1253.2V1107.3V934.9V1346.0V1286.3V1166.9V1186.8V1080.7V1180.2V1206.7V974.6V1007.8V1107.3V1253.2V1160.3V1359.3V1233.3V1067.5V1253.2V1279.7V1120.5V981.3V1365.9V1233.3V1193.5V1133.8V1346.0V1405.7V1127.2V1087.4V1253.2V928.2V1200.1V1273.1V1326.1V1160.3V1120.5V1306.2V1385.8V1074.1V1220.0V1113.9V1292.9V888.4M3086.4 755.8V1233.3V928.2V1226.6V1326.1V1014.4V1339.4V1153.7V1226.6V1213.4V1007.8V954.7V1113.9V822.1V1100.6V1100.6V1206.7V1372.5V1425.6V1160.3V1412.3V1173.6V974.6V1326.1V1193.5V1359.3V1312.8V1306.2V1113.9V974.6V1385.8V1080.7V1153.7V1180.2V1007.8V1133.8V915.0V1001.2V1399.0V1014.4V1359.3V1299.6V1226.6V1193.5V1094.0V928.2V908.3V1147.1V1286.3V1392.4V1120.5V1047.6V1107.3V1080.7V1259.8V1306.2V1346.0V1113.9V815.5V1339.4V1200.1V1246.5V948.1V1253.2V928.2M3095.0 1060.8V981.3V987.9V1153.7V1299.6V1014.4V1399.0V1153.7V1080.7V1379.2V1067.5V1133.8V934.9V1266.4V1425.6V1246.5V1253.2V1452.1V1200.1V1425.6V1193.5V1127.2V1041.0V1014.4V1213.4V1120.5V1233.3V1133.8V1365.9V1379.2V1113.9V974.6V915.0V1412.3V981.3V954.7V1425.6V1193.5V1120.5V1286.3V1239.9V1193.5V981.3V1047.6V1034.3V1180.2V1405.7V1465.4V928.2V1226.6V1319.5V1166.9V1193.5V1001.2V1312.8V1365.9V1007.8V848.6V1014.4V1352.6V1405.7V1365.9V895.1V1226.6V948.1M3103.6 1279.7V1034.3V1060.8V1140.4V1385.8V1021.1V1074.1V1372.5V1186.8V1239.9V1306.2V1100.6V1034.3V1113.9V1067.5V1365.9V1253.2V1160.3V1511.8V1193.5V1246.5V1253.2V1080.7V961.4V1021.1V1107.3V1140.4V1021.1V1153.7V968.0V1478.6V1259.8V1266.4V1080.7V1001.2V1034.3V1213.4V1001.2V1100.6V1200.1V1498.5V1266.4V1418.9V1094.0V881.8V948.1V981.3V1060.8V1266.4V1312.8V1465.4V1107.3V1266.4V1193.5V1259.8V1180.2V1140.4V1379.2V1087.4V1266.4V1418.9V1306.2V855.3V1292.9V1100.6M3112.2 954.7V1213.4V994.5V1259.8V1339.4V868.5V1292.9V1067.5V1259.8V1246.5V1458.7V1074.1V987.9V948.1V1452.1V1425.6V1498.5V1306.2V1253.2V1319.5V1080.7V1312.8V1233.3V1100.6V848.6V1253.2V1047.6V1014.4V1200.1V1611.2V1193.5V1173.6V1041.0V1047.6V1359.3V1133.8V1346.0V1107.3V1412.3V1405.7V1226.6V1352.6V1485.3V1166.9V921.6V1080.7V1279.7V1120.5V1365.9V1352.6V1027.7V1060.8V1133.8V1007.8V1087.4V1392.4V1491.9V1094.0V987.9V968.0V1266.4V1279.7V1160.3V888.4V1160.3M3120.8 1140.4V1034.3V1067.5V948.1V1392.4V1326.1V1392.4V1206.7V1365.9V934.9V1153.7V842.0V1544.9V1478.6V1432.2V1491.9V1034.3V1385.8V941.5V961.4V1253.2V1107.3V928.2V1306.2V1259.8V1140.4V1631.1V1319.5V1299.6V1153.7V1107.3V981.3V1107.3V1160.3V1206.7V1041.0V1206.7V1365.9V1286.3V1200.1V1220.0V1306.2V1127.2V1041.0V815.5V1047.6V1180.2V1312.8V1379.2V1166.9V994.5V981.3V848.6V1100.6V1292.9V1412.3V888.4V974.6V881.8V1206.7V1379.2V1180.2V1047.6V1452.1V1379.2M3129.4 1445.5V1021.1V1027.7V1458.7V895.1V1425.6V1399.0V1372.5V1425.6V1372.5V1087.4V1100.6V1047.6V1140.4V1485.3V1299.6V1379.2V1054.2V1478.6V928.2V1041.0V1259.8V1226.6V1153.7V1286.3V835.4V1001.2V1531.7V1452.1V1319.5V1094.0V1206.7V994.5V1266.4V1094.0V1127.2V1412.3V1200.1V1292.9V1193.5V1253.2V1246.5V1094.0V1259.8V908.3V1326.1V1452.1V1180.2V1007.8V987.9V994.5V822.1V1147.1V1100.6V1186.8V1299.6V968.0V1299.6V1027.7V1133.8V1438.8V1180.2V908.3V1412.3V1266.4M3138.0 1047.6V808.9V1485.3V835.4V987.9V1445.5V1246.5V1412.3V1306.2V1425.6V1438.8V934.9V934.9V1127.2V1041.0V1319.5V1193.5V1067.5V1286.3V921.6V908.3V1226.6V1306.2V1319.5V1113.9V915.0V881.8V1670.9V1372.5V1160.3V1359.3V1041.0V1160.3V1080.7V1140.4V928.2V1544.9V1319.5V1458.7V1458.7V1346.0V1200.1V1405.7V1372.5V1120.5V1213.4V1292.9V1346.0V1438.8V1107.3V1014.4V875.2V1206.7V968.0V1140.4V1147.1V1418.9V987.9V895.1V1107.3V1266.4V1133.8V1047.6V1306.2V1246.5M3146.6 1438.8V1140.4V875.2V974.6V1485.3V1120.5V1047.6V1432.2V1299.6V1193.5V1511.8V1193.5V1193.5V1034.3V1186.8V981.3V1505.1V1200.1V1326.1V1200.1V1399.0V1200.1V1160.3V1445.5V1173.6V1478.6V948.1V1200.1V815.5V868.5V1445.5V1359.3V1332.7V1113.9V1193.5V1067.5V1080.7V1631.1V1359.3V1352.6V1246.5V1253.2V1107.3V1233.3V1246.5V1213.4V868.5V968.0V1034.3V1352.6V1306.2V1001.2V1226.6V928.2V1365.9V1087.4V1206.7V1458.7V1372.5V1180.2V954.7V1133.8V1432.2V921.6V1027.7M3155.2 1299.6V1246.5V948.1V1346.0V1292.9V1047.6V1399.0V1385.8V1279.7V1113.9V1584.7V1538.3V1080.7V1206.7V1266.4V1014.4V1186.8V1306.2V1531.7V1306.2V1312.8V1511.8V1432.2V1379.2V1127.2V1319.5V842.0V1438.8V1292.9V1266.4V1538.3V1047.6V1233.3V1346.0V1014.4V1001.2V1452.1V1432.2V1312.8V1405.7V1379.2V1266.4V1186.8V941.5V1173.6V1047.6V934.9V1014.4V1365.9V1292.9V1107.3V1213.4V1080.7V1259.8V1054.2V1319.5V1259.8V1472.0V1332.7V1021.1V1511.8V928.2V1425.6V868.5V1452.1M3163.8 1193.5V1133.8V1054.2V1107.3V1027.7V1067.5V1505.1V1372.5V1246.5V1220.0V1710.7V1253.2V1425.6V1246.5V994.5V1306.2V1153.7V1180.2V1087.4V1418.9V1127.2V1432.2V868.5V1359.3V1458.7V1306.2V1107.3V1259.8V1153.7V1352.6V1133.8V1472.0V1226.6V1286.3V1100.6V1458.7V1359.3V1060.8V1206.7V1472.0V1153.7V1392.4V915.0V1041.0V1226.6V842.0V1007.8V1239.9V1067.5V1113.9V1107.3V1080.7V1405.7V1359.3V1206.7V1080.7V1326.1V1226.6V1186.8V1094.0V954.7V1465.4V1014.4V1511.8V888.4V1418.9M3172.4 1385.8V1080.7V1074.1V1074.1V1007.8V1259.8V1127.2V1472.0V1405.7V1518.4V1166.9V1525.0V1067.5V1220.0V1352.6V1226.6V1312.8V1392.4V1412.3V1060.8V1412.3V1220.0V1584.7V954.7V1564.8V1617.9V1153.7V1226.6V1047.6V1445.5V1326.1V1498.5V1273.1V1445.5V1624.5V1478.6V1458.7V1147.1V1491.9V1491.9V1273.1V1359.3V1352.6V1379.2V941.5V948.1V1299.6V1120.5V1080.7V1113.9V915.0V1346.0V994.5V1405.7V1292.9V1180.2V1074.1V1153.7V1107.3V1253.2V1352.6V1080.7V1067.5V1432.2V981.3V1432.2M3181.0 934.9V1173.6V1346.0V954.7V1306.2V941.5V994.5V1505.1V1445.5V1392.4V961.4V1544.9V1239.9V1133.8V1186.8V1425.6V1266.4V1432.2V987.9V1412.3V1080.7V1485.3V974.6V1147.1V1617.9V1511.8V1127.2V1200.1V1339.4V1233.3V1485.3V1584.7V1491.9V1292.9V1385.8V1140.4V1637.8V1478.6V1518.4V1611.2V1021.1V1392.4V1525.0V1465.4V1299.6V1452.1V1007.8V1438.8V1166.9V1067.5V941.5V1127.2V1034.3V1511.8V1140.4V987.9V1186.8V1445.5V1465.4V994.5V1518.4V1273.1V1326.1V1478.6V1021.1V1392.4M3189.5 1578.1V1007.8V1286.3V1021.1V1306.2V1041.0V1094.0V1239.9V1312.8V1485.3V1107.3V1107.3V1531.7V1160.3V1034.3V1412.3V1239.9V1558.2V1074.1V1564.8V1166.9V1186.8V1166.9V1684.2V1465.4V1067.5V1365.9V1445.5V968.0V1279.7V1571.5V1657.7V1418.9V1180.2V1067.5V1067.5V1564.8V1346.0V1452.1V1472.0V1239.9V968.0V1326.1V1538.3V1458.7V1392.4V1319.5V1074.1V1418.9V1273.1V1080.7V1133.8V1326.1V1399.0V1193.5V1226.6V981.3V1319.5V1319.5V895.1V1074.1V1266.4V1418.9V1452.1V1259.8M3198.1 1465.4V1405.7V1054.2V1153.7V1027.7V1246.5V1418.9V1074.1V1226.6V1412.3V1379.2V994.5V1312.8V1505.1V1544.9V1346.0V1491.9V1259.8V1326.1V1074.1V1452.1V1239.9V1266.4V1418.9V1511.8V1173.6V1193.5V1611.2V1120.5V1120.5V1624.5V1226.6V1498.5V1611.2V1253.2V994.5V1180.2V1432.2V1233.3V1140.4V1220.0V1352.6V1259.8V1173.6V1153.7V1332.7V1094.0V1166.9V1153.7V1014.4V1392.4V1637.8V1206.7V1220.0V1133.8V1418.9V1346.0V1041.0V1319.5V1147.1V1014.4V1200.1V1438.8V1206.7V1677.6M3206.7 1551.6V1107.3V1432.2V987.9V1299.6V1452.1V948.1V1074.1V1425.6V901.7V1372.5V1478.6V1180.2V915.0V1312.8V1372.5V1511.8V1498.5V1239.9V1365.9V1425.6V1505.1V1365.9V1014.4V1306.2V1332.7V1166.9V1425.6V1379.2V1611.2V1617.9V1339.4V1160.3V1074.1V1458.7V1624.5V1339.4V1525.0V1160.3V1094.0V1359.3V1160.3V1100.6V1266.4V1021.1V1213.4V1034.3V1120.5V1047.6V954.7V1425.6V1624.5V1180.2V1094.0V1286.3V1538.3V1571.5V1246.5V1432.2V1027.7V1021.1V1279.7V1491.9V1166.9V1737.2M3215.3 1478.6V1452.1V1498.5V1213.4V1027.7V1743.9V948.1V1306.2V1538.3V928.2V1127.2V1392.4V1100.6V1001.2V1206.7V1259.8V1299.6V1465.4V1273.1V1220.0V1213.4V1359.3V1538.3V1306.2V1332.7V1226.6V1220.0V1498.5V1558.2V1306.2V1286.3V1319.5V1591.4V1299.6V1147.1V1100.6V1385.8V1724.0V1292.9V1584.7V1558.2V1166.9V1127.2V1385.8V1312.8V1140.4V1352.6V1186.8V1385.8V1445.5V1153.7V895.1V1644.4V1206.7V1339.4V1306.2V1107.3V1505.1V1578.1V1273.1V1213.4V1220.0V1273.1V1670.9M3223.9 1465.4V948.1V1312.8V1365.9V1339.4V1087.4V1478.6V1677.6V1001.2V1326.1V1611.2V1127.2V1239.9V1458.7V1339.4V994.5V1359.3V1160.3V1624.5V1312.8V1193.5V1385.8V1564.8V1286.3V1306.2V1564.8V1558.2V1472.0V1365.9V1372.5V1200.1V1054.2V1372.5V1690.8V1359.3V1452.1V1292.9V915.0V1465.4V1166.9V1014.4V1034.3V1332.7V1584.7V1120.5V1359.3V1233.3V1472.0V1087.4V1186.8V1094.0V1180.2V1591.4V1200.1V1445.5V1140.4V1087.4V1180.2V1365.9V1458.7V1306.2V1200.1V1452.1M3232.5 1226.6V1080.7V1392.4V1206.7V1253.2V948.1V1399.0V1292.9V1465.4V1452.1V1452.1V1246.5V1034.3V1312.8V1127.2V1558.2V1246.5V1127.2V1498.5V1564.8V1538.3V1299.6V1220.0V1220.0V1558.2V1359.3V1160.3V1498.5V1405.7V1173.6V1465.4V1525.0V1704.1V1445.5V1425.6V1432.2V1425.6V1292.9V1206.7V1001.2V1034.3V1246.5V1538.3V1041.0V1452.1V1498.5V1140.4V1080.7V987.9V1425.6V1113.9V1591.4V1200.1V1014.4V1564.8V1326.1V1637.8V1107.3V1385.8V1193.5V1339.4V1445.5V1571.5M3241.1 1113.9V1021.1V1113.9V1127.2V948.1V1153.7V1445.5V1418.9V1332.7V1452.1V1007.8V1505.1V1233.3V1067.5V1286.3V1266.4V1379.2V1571.5V1425.6V968.0V1531.7V1743.9V1200.1V1180.2V1412.3V1750.5V1544.9V1113.9V1472.0V1498.5V1319.5V1133.8V1465.4V1485.3V1704.1V1518.4V1226.6V1478.6V1239.9V1273.1V1027.7V1067.5V1306.2V1312.8V974.6V1472.0V1299.6V1047.6V1200.1V1498.5V1213.4V1339.4V1578.1V1273.1V1365.9V1153.7V1286.3V1578.1V1279.7V1631.1V1312.8V1246.5V1491.9M3249.7 1080.7V1140.4V1140.4V1160.3V908.3V1306.2V1021.1V1485.3V1140.4V1525.0V1346.0V1087.4V1147.1V1339.4V1186.8V1379.2V1458.7V1067.5V1213.4V1511.8V1392.4V1379.2V1074.1V1259.8V1491.9V1279.7V1113.9V1273.1V1346.0V1531.7V1379.2V1657.7V1531.7V1637.8V1306.2V1286.3V1418.9V1180.2V941.5V1220.0V1472.0V1113.9V1385.8V1160.3V941.5V1259.8V1578.1V1047.6V934.9V1326.1V1498.5V1458.7V1186.8V1359.3V1624.5V1385.8V1306.2V1392.4V1578.1V1166.9V1670.9V1472.0V1352.6M3258.3 1253.2V1193.5V1160.3V1226.6V981.3V1213.4V1359.3V1551.6V1591.4V1007.8V1432.2V1127.2V1425.6V1253.2V1206.7V1319.5V1604.6V1544.9V1001.2V981.3V1193.5V1624.5V1107.3V1166.9V1233.3V1498.5V1200.1V1286.3V1359.3V1166.9V1332.7V1326.1V1631.1V1412.3V1465.4V1041.0V1339.4V928.2V1186.8V901.7V1332.7V1438.8V921.6V1100.6V1200.1V1186.8V1113.9V1518.4V1558.2V1306.2V1027.7V1505.1V1233.3V1651.0V1418.9V1206.7V1253.2V1538.3V1438.8V1617.9V1518.4V1133.8V1578.1M3266.9 1312.8V1339.4V1186.8V1312.8V1133.8V1273.1V1292.9V1551.6V1498.5V1525.0V1312.8V1120.5V1259.8V1571.5V1458.7V1412.3V1054.2V1133.8V1339.4V1273.1V1220.0V1399.0V1418.9V1511.8V1246.5V1584.7V1060.8V1246.5V1253.2V1166.9V1206.7V1564.8V1544.9V1346.0V1173.6V1273.1V1239.9V948.1V1213.4V1047.6V1445.5V881.8V1385.8V1617.9V901.7V1505.1V1200.1V1034.3V1359.3V1147.1V1604.6V1074.1V1617.9V1385.8V1571.5V1498.5V1233.3V1220.0V1558.2V1472.0V1518.4V1299.6V1379.2M3275.5 1186.8V1564.8V1292.9V1624.5V1107.3V1385.8V1485.3V1617.9V954.7V1491.9V1346.0V1392.4V1266.4V1054.2V1133.8V1127.2V1491.9V1080.7V1359.3V961.4V1047.6V1292.9V1412.3V1505.1V1080.7V1160.3V1458.7V1631.1V1054.2V1551.6V1472.0V1127.2V1100.6V1432.2V1418.9V1113.9V1286.3V1405.7V1220.0V1266.4V1246.5V974.6V1425.6V1591.4V1107.3V1140.4V1153.7V842.0V1485.3V1604.6V1458.7V1120.5V1485.3V1558.2V1465.4V1080.7V1259.8V1472.0V1438.8V1571.5V1438.8V1226.6V1418.9M3284.1 1200.1V1107.3V1525.0V1591.4V1743.9V1525.0V1452.1V1319.5V1273.1V1047.6V1133.8V1220.0V1392.4V1100.6V1332.7V981.3V954.7V974.6V1412.3V1657.7V1127.2V1399.0V981.3V1538.3V1200.1V1624.5V1306.2V1160.3V1617.9V1206.7V1273.1V1418.9V1531.7V1279.7V1339.4V1399.0V1233.3V934.9V1465.4V1611.2V1060.8V1472.0V1166.9V1200.1V1153.7V1087.4V1206.7V1080.7V1418.9V1578.1V1392.4V1173.6V1651.0V1299.6V1690.8V1412.3V1452.1V1372.5V1359.3V1637.8V1591.4V1472.0V1346.0M3292.7 1200.1V1637.8V1173.6V1253.2V1584.7V1518.4V1564.8V1418.9V1611.2V1425.6V1352.6V1273.1V1226.6V1213.4V1485.3V1312.8V1266.4V1027.7V1014.4V934.9V1438.8V1299.6V1259.8V1637.8V1021.1V1551.6V1332.7V1631.1V1266.4V1140.4V1644.4V1312.8V961.4V1518.4V1392.4V1220.0V1246.5V1193.5V1299.6V1220.0V1399.0V1472.0V954.7V1551.6V1213.4V1644.4V1332.7V1147.1V835.4V1239.9V1372.5V1591.4V1279.7V1365.9V1273.1V1332.7V1359.3V1239.9V1418.9V1584.7V1405.7V1332.7V1312.8M3301.3 1253.2V1525.0V1041.0V1332.7V1186.8V1544.9V1651.0V1339.4V1624.5V1472.0V1763.8V1657.7V1598.0V1412.3V1319.5V1385.8V1491.9V1346.0V1021.1V1166.9V1067.5V1339.4V1186.8V1564.8V1160.3V1452.1V1399.0V1173.6V1777.0V1160.3V1279.7V1498.5V1518.4V1472.0V1193.5V1133.8V1160.3V1220.0V1452.1V1438.8V1080.7V1385.8V1518.4V1306.2V1558.2V1372.5V1107.3V1180.2V1087.4V1220.0V1405.7V1485.3V1412.3V954.7V1193.5V1253.2V1339.4V1319.5V1319.5V1710.7V1352.6V1306.2V1100.6M3309.8 1332.7V1677.6V1405.7V1246.5V1153.7V1518.4V1505.1V1611.2V1558.2V1253.2V1684.2V1014.4V1498.5V1286.3V1306.2V981.3V1710.7V1598.0V941.5V1273.1V1087.4V1359.3V1346.0V1558.2V1498.5V1094.0V1292.9V1604.6V1783.7V1319.5V1717.3V1405.7V954.7V1498.5V1657.7V1193.5V1074.1V1346.0V1598.0V1233.3V1021.1V1153.7V1365.9V1226.6V1637.8V994.5V1359.3V1067.5V1352.6V1200.1V1617.9V1412.3V1385.8V1067.5V1239.9V1319.5V1352.6V1399.0V1538.3V1777.0V1399.0V1206.7M3318.4 1365.9V1922.9V1352.6V1365.9V1432.2V1425.6V1558.2V1438.8V1200.1V1724.0V1743.9V1690.8V1220.0V1664.3V1226.6V1213.4V842.0V1690.8V1505.1V1239.9V1458.7V1166.9V1418.9V1418.9V1193.5V1273.1V1213.4V1306.2V1617.9V1478.6V1591.4V1485.3V1054.2V1418.9V1538.3V1259.8V1147.1V1127.2V1438.8V1452.1V1173.6V1127.2V1564.8V1531.7V1306.2V1233.3V1253.2V1186.8V1107.3V1458.7V1518.4V1372.5V1399.0V1279.7V1113.9V1027.7V1478.6V1551.6V1465.4V1604.6V1432.2V1365.9M3327.0 1651.0V1385.8V1743.9V1472.0V1525.0V1326.1V1750.5V1690.8V1352.6V1757.1V1246.5V1505.1V1253.2V1206.7V1717.3V1578.1V1206.7V1438.8V1213.4V1452.1V1306.2V1359.3V1239.9V1147.1V1538.3V1465.4V1458.7V1438.8V1438.8V1100.6V1339.4V1478.6V1266.4V1087.4V1631.1V1491.9V1306.2V1372.5V1153.7V1220.0V1432.2V1160.3V974.6V1346.0V1332.7V1153.7V1472.0V1047.6V1326.1V1273.1V1200.1V1598.0V1352.6V1120.5V1286.3V1299.6V1007.8V1644.4V1432.2V1538.3V1578.1V1153.7M3335.6 1770.4V1399.0V1273.1V1246.5V1352.6V1332.7V1326.1V1425.6V1564.8V1140.4V1657.7V1412.3V1226.6V1094.0V1558.2V1259.8V1452.1V1233.3V1239.9V1498.5V1021.1V1538.3V1438.8V1657.7V1087.4V1578.1V1485.3V1180.2V1186.8V928.2V1617.9V1505.1V1491.9V1087.4V1339.4V1107.3V1273.1V1346.0V1246.5V1332.7V1326.1V1392.4V1651.0V968.0V1558.2V1173.6V1259.8V1737.2V1392.4V1518.4V1173.6V1332.7V1193.5V1326.1V994.5V1193.5V1372.5V1485.3V1598.0V1266.4V1584.7V1339.4V987.9M3344.2 1319.5V1518.4V1498.5V1292.9V1319.5V1306.2V1458.7V1319.5V1465.4V1564.8V1352.6V1306.2V1233.3V1312.8V1670.9V1465.4V1186.8V1558.2V1538.3V1226.6V1518.4V1385.8V1425.6V1624.5V1425.6V1080.7V1306.2V1591.4V1153.7V1292.9V1279.7V1319.5V1027.7V1518.4V1505.1V1418.9V1399.0V1538.3V1113.9V1166.9V1339.4V1432.2V1266.4V1511.8V1372.5V1326.1V1670.9V1054.2V1730.6V1511.8V1186.8V1385.8V1664.3V1292.9V1472.0V1220.0V1657.7V1319.5V1591.4V1346.0V1438.8V1511.8V908.3M3352.8 1564.8V1418.9V1180.2V1306.2V1279.7V1472.0V1412.3V1418.9V1412.3V1379.2V1664.3V1259.8V1611.2V1266.4V1346.0V1193.5V1690.8V1657.7V1544.9V1379.2V1392.4V1418.9V1173.6V1233.3V1399.0V1273.1V1518.4V1273.1V1399.0V1578.1V1412.3V1657.7V1458.7V1425.6V1544.9V1312.8V1226.6V1418.9V1226.6V1465.4V1339.4V1704.1V1220.0V1339.4V1511.8V1717.3V1352.6V1173.6V1518.4V1637.8V1677.6V1418.9V1465.4V1160.3V1266.4V1405.7V1485.3V1266.4V1365.9V1525.0V1558.2V1392.4V921.6M3361.4 1551.6V1664.3V1531.7V1571.5V1379.2V1220.0V1385.8V1372.5V1472.0V1054.2V1286.3V1359.3V1392.4V1266.4V1584.7V1684.2V1418.9V1286.3V1558.2V1266.4V1571.5V1279.7V1120.5V1173.6V1478.6V1319.5V1677.6V1379.2V1365.9V1352.6V1525.0V1193.5V1292.9V1511.8V1432.2V1472.0V1452.1V987.9V1273.1V1332.7V1312.8V1664.3V1127.2V1399.0V1564.8V1259.8V1339.4V1611.2V1458.7V1418.9V1670.9V1206.7V1206.7V1193.5V1365.9V1478.6V1518.4V1478.6V1306.2V1664.3V1339.4V1418.9V1120.5M3370.0 1724.0V1233.3V1644.4V1372.5V1631.1V1491.9V1498.5V1226.6V1544.9V1458.7V1127.2V1306.2V1657.7V1505.1V1399.0V1425.6V994.5V1379.2V1538.3V1279.7V1664.3V1140.4V1372.5V1465.4V1631.1V1710.7V1485.3V1399.0V1438.8V1253.2V1379.2V1558.2V1538.3V1359.3V1478.6V1445.5V1491.9V1438.8V1186.8V1511.8V1292.9V1425.6V1266.4V1637.8V1253.2V1279.7V1206.7V1584.7V1200.1V1445.5V1571.5V1485.3V1259.8V1319.5V1140.4V1100.6V1220.0V1286.3V1352.6V1438.8V1438.8V1790.3V1465.4M3378.6 1332.7V1637.8V1220.0V1704.1V1432.2V1319.5V1578.1V1478.6V1292.9V1505.1V1107.3V1617.9V1352.6V1412.3V1783.7V1531.7V1273.1V1312.8V1206.7V1670.9V1472.0V1385.8V1438.8V1465.4V1810.2V1598.0V1266.4V1704.1V1445.5V1286.3V1491.9V1365.9V1445.5V1326.1V1525.0V1266.4V1399.0V1200.1V1465.4V1584.7V1339.4V1664.3V1392.4V1498.5V1246.5V1611.2V1690.8V1551.6V1505.1V1472.0V1160.3V1445.5V1472.0V1266.4V1385.8V1326.1V1538.3V1438.8V1724.0V1438.8V1153.7V1544.9M3387.2 1100.6V1399.0V1458.7V1697.5V1326.1V1425.6V1558.2V1452.1V1399.0V1697.5V1684.2V1525.0V1226.6V1292.9V1385.8V1644.4V1544.9V1233.3V1346.0V1478.6V1465.4V1465.4V1538.3V1332.7V1173.6V1544.9V1399.0V1803.6V1611.2V1418.9V1571.5V1365.9V1511.8V1505.1V1750.5V1292.9V1657.7V1239.9V1379.2V1432.2V1372.5V1306.2V1664.3V1186.8V1286.3V1717.3V1399.0V1651.0V1651.0V1491.9V1558.2V1584.7V1266.4V1531.7V1239.9V1352.6V1100.6V1538.3V1253.2V1332.7V1339.4V1452.1M3395.8 1498.5V1544.9V1598.0V1611.2V1193.5V1505.1V1266.4V1544.9V1757.1V1438.8V1458.7V1591.4V1359.3V1730.6V1578.1V1472.0V1465.4V1518.4V1465.4V1584.7V1531.7V1365.9V1306.2V1412.3V1425.6V1604.6V1339.4V1312.8V1538.3V1359.3V1604.6V1690.8V1611.2V1730.6V1253.2V1306.2V1544.9V1326.1V1438.8V1584.7V1730.6V1657.7V1266.4V1591.4V1312.8V1598.0V1551.6V1710.7V1478.6V1684.2V1346.0V1438.8V1604.6V1418.9V1432.2V1041.0V1631.1V1452.1V1412.3V1796.9V1226.6V1418.9M3404.4 1584.7V1200.1V1724.0V1352.6V1425.6V1385.8V1432.2V1206.7V1259.8V1286.3V1790.3V1405.7V1544.9V1372.5V1346.0V1670.9V1664.3V1312.8V1438.8V1564.8V1292.9V1757.1V1664.3V1372.5V1160.3V1140.4V1538.3V1816.8V1690.8V1405.7V1193.5V1346.0V1326.1V1359.3V1624.5V1591.4V1266.4V1445.5V1850.0V1598.0V1365.9V1332.7V1611.2V1379.2V1724.0V1299.6V1465.4V1438.8V1591.4V1604.6V1418.9V1710.7V1412.3V1505.1V1034.3V1670.9V1578.1V1412.3V1399.0V1717.3V1213.4M3413.0 1644.4V1485.3V1365.9V1412.3V1584.7V1392.4V1312.8V1372.5V1412.3V1544.9V1571.5V1644.4V1392.4V1538.3V1332.7V1511.8V1538.3V1412.3V1544.9V1452.1V1684.2V1518.4V1352.6V1359.3V1379.2V1326.1V1399.0V1803.6V1763.8V1399.0V1332.7V1173.6V1180.2V1657.7V1757.1V1226.6V1412.3V1810.2V1717.3V1518.4V1346.0V1677.6V1525.0V1810.2V1399.0V1392.4V1571.5V1544.9V1518.4V1405.7V1644.4V1578.1V1399.0V1498.5V1452.1V1379.2V1359.3V1637.8V1067.5V1352.6M3421.6 1458.7V1266.4V1445.5V1418.9V1724.0V1399.0V1558.2V1478.6V1531.7V1525.0V1478.6V1472.0V1432.2V1346.0V1472.0V1379.2V1544.9V1611.2V1418.9V1478.6V1306.2V1352.6V1472.0V1166.9V1385.8V1352.6V1399.0V1763.8V1359.3V1312.8V1452.1V1472.0V1286.3V1697.5V1478.6V1591.4V1472.0V1598.0V1452.1V1591.4V1750.5V1253.2V1346.0V1704.1V1326.1V1538.3V1299.6V1631.1V1631.1V1286.3V1710.7V1392.4V1657.7V1571.5V1346.0V1478.6V1206.7V1604.6V1173.6M3430.1 1571.5V1127.2V1438.8V1644.4V1637.8V1339.4V1365.9V1491.9V1485.3V1266.4V1465.4V1286.3V1339.4V1511.8V1273.1V1385.8V1670.9V1425.6V1173.6V1478.6V1273.1V1286.3V1465.4V1571.5V1412.3V1372.5V1180.2V1525.0V1379.2V1206.7V1465.4V1670.9V1432.2V1352.6V1505.1V1425.6V1551.6V1525.0V1478.6V1425.6V1372.5V1359.3V1684.2V1743.9V1312.8V1133.8V1087.4V1651.0V1637.8V1339.4V1697.5V1505.1V1657.7V1339.4V1438.8V1266.4V1816.8V1279.7V1306.2M3438.7 1399.0V1379.2V1412.3V1432.2V1657.7V1631.1V1525.0V1359.3V1425.6V1379.2V1226.6V1631.1V1365.9V1352.6V1452.1V1432.2V1346.0V1631.1V1498.5V1538.3V1657.7V1564.8V1339.4V1465.4V1385.8V1332.7V1617.9V1664.3V1399.0V1551.6V1624.5V1478.6V1491.9V1266.4V1617.9V1319.5V1438.8V1631.1V1418.9V1531.7V1584.7V1564.8V1372.5V1326.1V1147.1V1777.0V1690.8V1253.2V1160.3V1352.6V1730.6V1763.8V1286.3V1472.0V1418.9V1657.7V1385.8V1412.3V1750.5M3447.3 1399.0V1465.4V1677.6V1339.4V1399.0V1372.5V1710.7V1564.8V1352.6V1425.6V1385.8V1478.6V1253.2V1631.1V1717.3V1346.0V1365.9V1312.8V1259.8V1624.5V1544.9V1558.2V1472.0V1598.0V1472.0V1571.5V1346.0V1631.1V1432.2V1505.1V1392.4V1525.0V1312.8V1372.5V1518.4V1392.4V1226.6V1511.8V1352.6V1518.4V1438.8V1498.5V1505.1V1651.0V1339.4V1273.1V1677.6V1730.6V1286.3V1246.5V1598.0V1452.1V1445.5V1385.8V1584.7V1491.9V1166.9V1412.3V1273.1M3455.9 1452.1V1743.9V1518.4V1438.8V1617.9V1611.2V1684.2V1505.1V1352.6V1465.4V1266.4V1717.3V1299.6V1445.5V1392.4V1598.0V1538.3V1704.1V1452.1V1472.0V1452.1V1438.8V1697.5V1505.1V1279.7V1286.3V1558.2V1631.1V1253.2V1624.5V1405.7V1491.9V1392.4V1418.9V1332.7V1319.5V1465.4V1498.5V1352.6V1564.8V1598.0V1418.9V1346.0V1624.5V1452.1V1485.3V1850.0V1538.3V1220.0V1478.6V1598.0V1651.0V1611.2V1538.3V1525.0V1213.4V1399.0V1365.9M3464.5 1617.9V1704.1V1544.9V1525.0V1319.5V1617.9V1339.4V1617.9V1571.5V1710.7V1743.9V1498.5V1292.9V1611.2V1922.9V1372.5V1704.1V1279.7V1385.8V1591.4V1637.8V1246.5V1359.3V1624.5V1670.9V1657.7V1505.1V1531.7V1531.7V1677.6V1365.9V1578.1V1757.1V1266.4V1452.1V1472.0V1359.3V1365.9V1292.9V1438.8V1319.5V1472.0V1631.1V1365.9V1737.2V1624.5V1604.6V1631.1V1478.6V1379.2V1346.0V1498.5V1816.8V1777.0V1538.3V1286.3V1432.2V1206.7M3473.1 1379.2V1617.9V1611.2V1405.7V1538.3V1491.9V1617.9V1544.9V1259.8V1273.1V1352.6V1737.2V1372.5V1631.1V1339.4V1226.6V1544.9V1651.0V1425.6V1472.0V1644.4V1478.6V1319.5V1511.8V1942.8V1538.3V1292.9V1339.4V1286.3V1438.8V1697.5V1299.6V1312.8V1418.9V1412.3V1385.8V1193.5V1186.8V1511.8V1564.8V1611.2V1478.6V1518.4V1790.3V1598.0V1346.0V1452.1V1730.6V1644.4V1591.4V1684.2V1531.7V1611.2V1717.3V1160.3V1425.6V1511.8V1697.5M3481.7 1299.6V1697.5V1339.4V1445.5V1352.6V1299.6V1458.7V1724.0V1750.5V1259.8V1339.4V1306.2V1724.0V1346.0V1425.6V1226.6V1346.0V1637.8V1346.0V1617.9V1637.8V1505.1V1697.5V1332.7V1445.5V1783.7V1372.5V1591.4V1306.2V1273.1V1657.7V1617.9V1319.5V1465.4V1392.4V1644.4V1505.1V1326.1V1472.0V1511.8V1432.2V1544.9V1544.9V1458.7V1730.6V1472.0V1392.4V1372.5V1803.6V1664.3V1637.8V1631.1V1326.1V1326.1V1299.6V1452.1V1584.7V1253.2M3490.3 1770.4V1286.3V1670.9V1418.9V1180.2V1670.9V1763.8V1571.5V1810.2V1598.0V1266.4V1511.8V1405.7V1432.2V1551.6V1346.0V1909.7V1485.3V1651.0V1518.4V1518.4V1445.5V1239.9V1644.4V1730.6V1452.1V1531.7V1624.5V1306.2V1637.8V1670.9V1624.5V1644.4V1392.4V1564.8V1372.5V1578.1V1399.0V1405.7V1505.1V1578.1V1664.3V1657.7V1326.1V1385.8V1359.3V1684.2V1465.4V1750.5V1352.6V1730.6V1604.6V1757.1V1531.7V1564.8V1385.8V1664.3V1385.8M3498.9 1690.8V1584.7V1253.2V1730.6V1405.7V1213.4V1730.6V1989.2V1452.1V1690.8V1339.4V1107.3V1286.3V1584.7V1511.8V1538.3V1604.6V1525.0V1438.8V1472.0V1830.1V1637.8V1677.6V1796.9V1670.9V1571.5V1286.3V1518.4V1326.1V1233.3V1697.5V1631.1V1525.0V1498.5V1518.4V1273.1V1704.1V1392.4V1511.8V1617.9V1763.8V1478.6V1352.6V1292.9V1491.9V1757.1V1644.4V1253.2V1405.7V1657.7V1710.7V1684.2V1359.3V1525.0V1412.3V1598.0V1405.7V1690.8M371.1 2121.9M1556.9 318.1M1728.8 338.0" fill="none" stroke="none" marker-start="url(#c)" marker-mid="url(#c)" marker-end="url(#c)"/>
<line x1="371.1" y1="2194.0" x2="371.1" y2="246.0" stroke="#bebebe" stroke-width="1.56" stroke-dasharray="1.56 4.69" stroke-linecap="round"/>
<line x1="637.5" y1="2194.0" x2="637.5" y2="246.0" stroke="#bebebe" stroke-width="1.56" stroke-dasharray="1.56 4.69" stroke-linecap="round"/>
<line x1="878.1" y1="2194.0" x2="878.1" y2="246.0" stroke="#bebebe" stroke-width="1.56" stroke-dasharray="1.56 4.69" stroke-linecap="round"/>
<line x1="1144.5" y1="2194.0" x2="1144.5" y2="246.0" stroke="#bebebe" stroke-width="1.56" stroke-dasharray="1.56 4.69" stroke-linecap="round"/>
<line x1="1402.2" y1="2194.0" x2="1402.2" y2="246.0" stroke="#bebebe" stroke-width="1.56" stroke-dasharray="1.56 4.69" stroke-linecap="round"/>
<line x1="1668.6" y1="2194.0" x2="1668.6" y2="246.0" stroke="#bebebe" stroke-width="1.56" stroke-dasharray="1.56 4.69" stroke-linecap="round"/>
<line x1="1926.4" y1="2194.0" x2="1926.4" y2="246.0" stroke="#bebebe" stroke-width="1.56" stroke-dasharray="1.56 4.69" stroke-linecap="round"/>
<line x1="2192.8" y1="2194.0" x2="2192.8" y2="246.0" stroke="#bebebe" stroke-width="1.56" stroke-dasharray="1.56 4.69" stroke-linecap="round"/>
<line x1="2459.2" y1="2194.0" x2="2459.2" y2="246.0" stroke="#bebebe" stroke-width="1.56" stroke-dasharray="1.56 4.69" stroke-linecap="round"/>
<line x1="2716.9" y1="2194.0" x2="2716.9" y2="246.0" stroke="#bebebe" stroke-width="1.56" stroke-dasharray="1.56 4.69" stroke-linecap="round"/>
<line x1="2983.3" y1="2194.0" x2="2983.3" y2="246.0" stroke="#bebebe" stroke-width="1.56" stroke-dasharray="1.56 4.69" stroke-linecap="round"/>
<line x1="3241.1" y1="2194.0" x2="3241.1" y2="246.0" stroke="#bebebe" stroke-width="1.56" stroke-dasharray="1.56 4.69" stroke-linecap="round"/>
<path d="M371.1 1551.2L379.7 1545.2L388.2 1539.5L396.8 1534.3L405.4 1529.4L414.0 1524.7L422.5 1520.3L431.1 1516.0L439.7 1511.8L448.2 1507.7L456.8 1503.6L465.4 1499.3L473.9 1495.0L482.5 1490.4L491.1 1485.6L499.6 1480.6L508.2 1475.4L516.8 1470.1L525.4 1464.8L533.9 1459.7L542.5 1454.7L551.1 1449.9L559.6 1445.4L568.2 1440.9L576.8 1436.3L585.3 1431.5L593.9 1426.7L602.5 1421.8L611.1 1416.8L619.6 1411.8L628.2 1406.7L636.8 1401.6L645.3 1396.5L653.9 1391.2L662.5 1385.7L671.0 1379.8L679.6 1373.5L688.2 1366.6L696.7 1359.0L705.3 1350.7L713.9 1342.0L722.5 1332.7L731.0 1323.0L739.6 1313.1L748.2 1302.8L756.7 1292.2L765.3 1281.5L773.9 1270.5L782.4 1259.4L791.0 1248.1L799.6 1236.6L808.1 1225.1L816.7 1213.5L825.3 1201.9L833.9 1190.2L842.4 1178.6L851.0 1167.0L859.6 1155.5L868.1 1144.0L876.7 1132.7L885.3 1121.5L893.8 1110.5L902.4 1099.7L911.0 1089.2L919.5 1078.8L928.1 1068.8L936.7 1059.1L945.3 1049.7L953.8 1040.6L962.4 1031.8L971.0 1023.3L979.5 1015.0L988.1 1007.0L996.7 999.1L1005.2 991.3L1013.8 983.7L1022.4 976.1L1030.9 968.6L1039.5 961.1L1048.1 953.7L1056.7 946.1L1065.2 938.6L1073.8 930.9L1082.4 923.1L1090.9 915.1L1099.5 907.0L1108.1 898.6L1116.6 890.0L1125.2 881.2L1133.8 872.3L1142.3 863.4L1150.9 854.3L1159.5 845.3L1168.1 836.3L1176.6 827.4L1185.2 818.6L1193.8 810.0L1202.3 801.6L1210.9 793.5L1219.5 785.7L1228.0 778.3L1236.6 771.2L1245.2 764.6L1253.7 758.5L1262.3 752.8L1270.9 747.4L1279.5 742.5L1288.0 738.0L1296.6 733.9L1305.2 730.1L1313.7 726.6L1322.3 723.4L1330.9 720.6L1339.4 718.0L1348.0 715.7L1356.6 713.7L1365.1 711.9L1373.7 710.3L1382.3 708.9L1390.9 707.7L1399.4 706.6L1408.0 705.7L1416.6 705.0L1425.1 704.4L1433.7 704.0L1442.3 703.7L1450.8 703.6L1459.4 703.6L1468.0 703.8L1476.5 704.2L1485.1 704.7L1493.7 705.4L1502.3 706.3L1510.8 707.3L1519.4 708.5L1528.0 709.9L1536.5 711.5L1545.1 713.2L1553.7 715.2L1562.2 717.3L1570.8 719.6L1579.4 722.1L1587.9 724.8L1596.5 727.6L1605.1 730.7L1613.7 733.9L1622.2 737.4L1630.8 741.0L1639.4 744.7L1647.9 748.7L1656.5 752.8L1665.1 757.1L1673.6 761.5L1682.2 766.1L1690.8 770.8L1699.3 775.6L1707.9 780.6L1716.5 785.8L1725.1 791.1L1733.6 796.5L1742.2 802.0L1750.8 807.6L1759.3 813.4L1767.9 819.3L1776.5 825.3L1785.0 831.4L1793.6 837.6L1802.2 843.9L1810.7 850.3L1819.3 856.8L1827.9 863.3L1836.5 870.0L1845.0 876.8L1853.6 883.6L1862.2 890.5L1870.7 897.5L1879.3 904.6L1887.9 911.7L1896.4 918.9L1905.0 926.2L1913.6 933.5L1922.1 940.9L1930.7 948.3L1939.3 955.8L1947.9 963.3L1956.4 970.9L1965.0 978.5L1973.6 986.2L1982.1 993.9L1990.7 1001.6L1999.3 1009.3L2007.8 1017.0L2016.4 1024.5L2025.0 1031.7L2033.5 1038.7L2042.1 1045.3L2050.7 1051.5L2059.3 1057.2L2067.8 1062.6L2076.4 1067.6L2085.0 1072.4L2093.5 1077.0L2102.1 1081.4L2110.7 1085.7L2119.2 1090.0L2127.8 1094.2L2136.4 1098.2L2144.9 1102.2L2153.5 1106.1L2162.1 1109.9L2170.7 1113.6L2179.2 1117.1L2187.8 1120.5L2196.4 1123.7L2204.9 1126.8L2213.5 1129.7L2222.1 1132.5L2230.6 1135.0L2239.2 1137.4L2247.8 1139.5L2256.3 1141.4L2264.9 1143.1L2273.5 1144.6L2282.1 1145.8L2290.6 1146.9L2299.2 1147.7L2307.8 1148.2L2316.3 1148.5L2324.9 1148.6L2333.5 1148.5L2342.0 1148.2L2350.6 1147.6L2359.2 1146.8L2367.7 1145.7L2376.3 1144.5L2384.9 1143.0L2393.5 1141.2L2402.0 1139.3L2410.6 1137.1L2419.2 1134.7L2427.7 1132.0L2436.3 1129.2L2444.9 1126.1L2453.4 1122.8L2462.0 1119.2L2470.6 1115.4L2479.1 1111.5L2487.7 1107.3L2496.3 1102.8L2504.9 1098.2L2513.4 1093.4L2522.0 1088.4L2530.6 1083.3L2539.1 1077.9L2547.7 1072.4L2556.3 1066.7L2564.8 1060.9L2573.4 1054.9L2582.0 1048.8L2590.5 1042.5L2599.1 1036.1L2607.7 1029.7L2616.3 1023.2L2624.8 1016.8L2633.4 1010.5L2642.0 1004.3L2650.5 998.2L2659.1 992.4L2667.7 986.8L2676.2 981.5L2684.8 976.5L2693.4 971.7L2701.9 967.2L2710.5 963.0L2719.1 959.2L2727.7 955.7L2736.2 952.5L2744.8 949.7L2753.4 947.3L2761.9 945.3L2770.5 943.7L2779.1 942.5L2787.6 941.7L2796.2 941.4L2804.8 941.6L2813.3 942.2L2821.9 943.3L2830.5 944.8L2839.1 946.8L2847.6 949.2L2856.2 952.0L2864.8 955.2L2873.3 958.8L2881.9 962.7L2890.5 967.1L2899.0 971.8L2907.6 976.8L2916.2 982.1L2924.7 987.8L2933.3 993.7L2941.9 1000.0L2950.5 1006.5L2959.0 1013.3L2967.6 1020.4L2976.2 1027.7L2984.7 1035.2L2993.3 1043.0L3001.9 1051.0L3010.4 1059.1L3019.0 1067.5L3027.6 1076.0L3036.1 1084.7L3044.7 1093.5L3053.3 1102.5L3061.9 1111.6L3070.4 1120.8L3079.0 1130.1L3087.6 1139.4L3096.1 1148.8L3104.7 1158.3L3113.3 1167.8L3121.8 1177.2L3130.4 1186.7L3139.0 1196.1L3147.5 1205.4L3156.1 1214.7L3164.7 1223.9L3173.3 1233.0L3181.8 1241.9L3190.4 1250.7L3199.0 1259.4L3207.5 1267.9L3216.1 1276.3L3224.7 1284.5L3233.2 1292.7L3241.8 1300.8L3250.4 1308.9L3258.9 1316.9L3267.5 1324.9L3276.1 1332.9L3284.7 1340.8L3293.2 1348.9L3301.8 1356.9L3310.4 1365.0L3318.9 1373.2L3327.5 1381.4L3336.1 1389.6L3344.6 1397.9L3353.2 1406.2L3361.8 1414.5L3370.4 1422.7L3378.9 1430.9L3387.5 1439.0L3396.1 1447.1L3404.6 1455.0L3413.2 1462.8L3421.8 1470.6L3430.3 1478.1L3438.9 1485.5L3447.5 1492.8L3456.0 1499.8L3464.6 1506.6L3473.2 1513.2L3481.8 1519.6L3490.3 1525.7L3498.9 1531.5" fill="none" stroke="#00ff00" stroke-width="6.25" stroke-linecap="round" stroke-linejoin="round"/>
<g stroke="#000" stroke-width="3.125" fill="none" stroke-linecap="round" stroke-linejoin="round">
<line x1="371.1" y1="2194.0" x2="3241.1" y2="2194.0"/>
<line x1="371.1" y1="2194.0" x2="371.1" y2="2224.0"/>
<line x1="637.5" y1="2194.0" x2="637.5" y2="2224.0"/>
<line x1="878.1" y1="2194.0" x2="878.1" y2="2224.0"/>
<line x1="1144.5" y1="2194.0" x2="1144.5" y2="2224.0"/>
<line x1="1402.2" y1="2194.0" x2="1402.2" y2="2224.0"/>
<line x1="1668.6" y1="2194.0" x2="1668.6" y2="2224.0"/>
<line x1="1926.4" y1="2194.0" x2="1926.4" y2="2224.0"/>
<line x1="2192.8" y1="2194.0" x2="2192.8" y2="2224.0"/>
<line x1="2459.2" y1="2194.0" x2="2459.2" y2="2224.0"/>
<line x1="2716.9" y1="2194.0" x2="2716.9" y2="2224.0"/>
<line x1="2983.3" y1="2194.0" x2="2983.3" y2="2224.0"/>
<line x1="3241.1" y1="2194.0" x2="3241.1" y2="2224.0"/>
<line x1="246.0" y1="1995.9" x2="246.0" y2="338.0"/>
<line x1="246.0" y1="1995.9" x2="216.0" y2="1995.9"/>
<line x1="246.0" y1="1664.3" x2="216.0" y2="1664.3"/>
<line x1="246.0" y1="1332.7" x2="216.0" y2="1332.7"/>
<line x1="246.0" y1="1001.2" x2="216.0" y2="1001.2"/>
<line x1="246.0" y1="669.6" x2="216.0" y2="669.6"/>
<line x1="246.0" y1="338.0" x2="216.0" y2="338.0"/>
<rect x="246.0" y="246.0" width="3378.0" height="1948.0"/>
</g>
<text x="371.1" y="2302" font-size="50.5" text-anchor="middle">Jan</text>
<text x="637.5" y="2302" font-size="50.5" text-anchor="middle">Feb</text>
<text x="878.1" y="2302" font-size="50.5" text-anchor="middle">Mar</text>
<text x="1144.5" y="2302" font-size="50.5" text-anchor="middle">Apr</text>
<text x="1402.2" y="2302" font-size="50.5" text-anchor="middle">May</text>
<text x="1668.6" y="2302" font-size="50.5" text-anchor="middle">Jun</text>
<text x="1926.4" y="2302" font-size="50.5" text-anchor="middle">Jul</text>
<text x="2192.8" y="2302" font-size="50.5" text-anchor="middle">Aug</text>
<text x="2459.2" y="2302" font-size="50.5" text-anchor="middle">Sep</text>
<text x="2716.9" y="2302" font-size="50.5" text-anchor="middle">Oct</text>
<text x="2983.3" y="2302" font-size="50.5" text-anchor="middle">Nov</text>
<text x="3241.1" y="2302" font-size="50.5" text-anchor="middle">Dec</text>
<text transform="translate(174 1995.9) rotate(-90)" font-size="50" text-anchor="middle">15</text>
<text transform="translate(174 1664.3) rotate(-90)" font-size="50" text-anchor="middle">20</text>
<text transform="translate(174 1332.7) rotate(-90)" font-size="50" text-anchor="middle">25</text>
<text transform="translate(174 1001.2) rotate(-90)" font-size="50" text-anchor="middle">30</text>
<text transform="translate(174 669.6) rotate(-90)" font-size="50" text-anchor="middle">35</text>
<text transform="translate(174 338.0) rotate(-90)" font-size="50" text-anchor="middle">40</text>
<text x="1935" y="2422" font-size="50" text-anchor="middle">Month</text>
<text transform="translate(54 1220) rotate(-90)" font-size="50" text-anchor="middle">Average Temperature (°C)</text>
<text transform="translate(1935.5 109.3) scale(1 1.06)" font-size="60" font-weight="bold" text-anchor="middle">Daily Average Temperature Over the Years at</text>
<text transform="translate(1935.5 181.3) scale(1 1.06)" font-size="60" font-weight="bold" text-anchor="middle">Zinder, Niger</text>
<rect x="246" y="246" width="679" height="119.5" fill="#fff" stroke="#000" stroke-width="3.125"/>
<line x1="291" y1="305.7" x2="381" y2="305.7" stroke="#00ff00" stroke-width="3.125" stroke-linecap="round"/>
<text x="427" y="324.3" font-size="50" textLength="475" lengthAdjust="spacingAndGlyphs">Average Temperature</text>
<g id="wm" opacity="0.11">
<mask id="lm" maskUnits="userSpaceOnUse" x="1600" y="680" width="700" height="700"><rect x="1600" y="680" width="700" height="700" fill="#fff"/><path d="M1733 1075 A 205 205 0 0 0 1920 1240" fill="none" stroke="#000" stroke-width="20"/></mask>
<circle cx="1935" cy="1035" r="300" fill="#7d897d" mask="url(#lm)"/>
<g filter="url(#bl)">
<text x="1365" y="1494" textLength="1233" lengthAdjust="spacingAndGlyphs" style="font-family:'Liberation Serif',serif;font-weight:bold;font-size:150px;fill:#5a5a5a;stroke:#5a5a5a;stroke-width:7">climate observer</text>
<text x="1550" y="1612" textLength="768" lengthAdjust="spacingAndGlyphs" style="font-family:'Liberation Serif',serif;font-weight:bold;font-size:44px;fill:#5a5a5a;stroke:#5a5a5a;stroke-width:2">www.climate-observer.org</text>
</g></g>
</svg></body></html>
